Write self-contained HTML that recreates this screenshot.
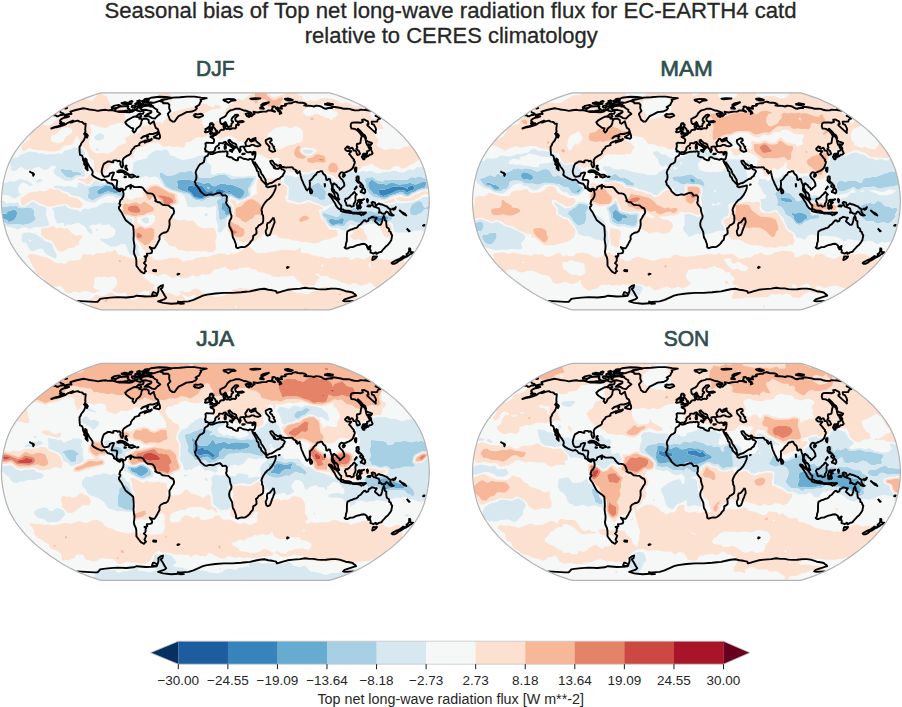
<!DOCTYPE html>
<html><head><meta charset="utf-8"><style>
html,body{margin:0;padding:0;background:#fff;}
body{width:902px;height:707px;overflow:hidden;position:relative;font-family:"Liberation Sans",sans-serif;}
svg{position:absolute;left:0;top:0;}
</style></head><body>
<svg width="902" height="707" viewBox="0 0 902 707" font-family="'Liberation Sans', sans-serif">

<defs>
<clipPath id="clip"><path d="M100.1 217.1 L97 216.3 L93.4 215.1 L89.6 213.8 L85.4 212.3 L81 210.5 L76.5 208.6 L72.1 206.6 L67.8 204.5 L63.9 202.3 L60.2 200.1 L56.6 197.8 L53.1 195.5 L49.7 193.1 L46.4 190.7 L43.1 188.3 L39.9 185.8 L36.8 183.3 L33.8 180.8 L31 178.2 L28.3 175.6 L25.7 173 L23.4 170.3 L21.1 167.7 L18.9 165 L16.8 162.4 L14.9 159.7 L13.1 157 L11.5 154.3 L9.9 151.6 L8.6 148.9 L7.3 146.2 L6.3 143.5 L5.3 140.9 L4.5 138.2 L3.8 135.5 L3.1 132.8 L2.4 130.1 L1.9 127.4 L1.4 124.7 L1 122 L0.7 119.3 L0.4 116.6 L0.2 113.9 L0.1 111.2 L0 108.5 L0.1 105.9 L0.2 103.2 L0.4 100.5 L0.7 97.8 L1 95.1 L1.4 92.4 L1.9 89.7 L2.4 87 L3.1 84.3 L3.8 81.6 L4.5 78.9 L5.3 76.2 L6.3 73.6 L7.3 70.9 L8.6 68.2 L9.9 65.5 L11.5 62.8 L13.1 60.1 L14.9 57.4 L16.8 54.7 L18.9 52.1 L21.1 49.4 L23.4 46.8 L25.7 44.1 L28.3 41.5 L31 38.9 L33.8 36.3 L36.8 33.8 L39.9 31.3 L43.1 28.8 L46.4 26.4 L49.7 24 L53.1 21.6 L56.6 19.3 L60.2 17 L63.9 14.8 L67.8 12.6 L72.1 10.5 L76.5 8.5 L81 6.6 L85.4 4.8 L89.6 3.3 L93.4 2 L97 0.8 L100.1 0 L327.8 0 L330.9 0.8 L334.5 2 L338.3 3.3 L342.5 4.8 L346.9 6.6 L351.4 8.5 L355.8 10.5 L360.1 12.6 L364 14.8 L367.7 17 L371.3 19.3 L374.8 21.6 L378.2 24 L381.5 26.4 L384.8 28.8 L388 31.3 L391.1 33.8 L394.1 36.3 L396.9 38.9 L399.6 41.5 L402.2 44.1 L404.5 46.8 L406.8 49.4 L409 52.1 L411.1 54.7 L413 57.4 L414.8 60.1 L416.4 62.8 L418 65.5 L419.3 68.2 L420.6 70.9 L421.6 73.6 L422.6 76.2 L423.4 78.9 L424.1 81.6 L424.8 84.3 L425.5 87 L426 89.7 L426.5 92.4 L426.9 95.1 L427.2 97.8 L427.5 100.5 L427.7 103.2 L427.8 105.9 L427.9 108.5 L427.8 111.2 L427.7 113.9 L427.5 116.6 L427.2 119.3 L426.9 122 L426.5 124.7 L426 127.4 L425.5 130.1 L424.8 132.8 L424.1 135.5 L423.4 138.2 L422.6 140.9 L421.6 143.5 L420.6 146.2 L419.3 148.9 L418 151.6 L416.4 154.3 L414.8 157 L413 159.7 L411.1 162.4 L409 165 L406.8 167.7 L404.5 170.3 L402.2 173 L399.6 175.6 L396.9 178.2 L394.1 180.8 L391.1 183.3 L388 185.8 L384.8 188.3 L381.5 190.7 L378.2 193.1 L374.8 195.5 L371.3 197.8 L367.7 200.1 L364 202.3 L360.1 204.5 L355.8 206.6 L351.4 208.6 L346.9 210.5 L342.5 212.3 L338.3 213.8 L334.5 215.1 L330.9 216.3 L327.8 217.1Z"/></clipPath>
</defs>
<text x="450.5" y="18" text-anchor="middle" font-size="22.2" fill="#262626" stroke="#262626" stroke-width="0.3" textLength="692" lengthAdjust="spacingAndGlyphs">Seasonal bias of Top net long-wave radiation flux for EC-EARTH4 catd</text>
<text x="451.3" y="42.6" text-anchor="middle" font-size="22.2" fill="#262626" stroke="#262626" stroke-width="0.3" textLength="293" lengthAdjust="spacingAndGlyphs">relative to CERES climatology</text>
<text x="215.3" y="75.5" text-anchor="middle" font-size="22" fill="#2f4f4f" stroke="#2f4f4f" stroke-width="0.7" textLength="38.5" lengthAdjust="spacingAndGlyphs">DJF</text>
<g transform="translate(1.4 92.8)">
<g clip-path="url(#clip)">
<rect x="0" y="0" width="427.9" height="217.1" fill="#f6f7f7"/>
<path fill="#3783bb" fill-rule="evenodd" d="M187.5 93 189 92.6 192 93.5 199.5 92.8 202 94.7 205.5 98.6 211 98.3 212 98.7 212.2 99.5 211 101.5 208.5 102.3 205 102.6 201 105.4 194 104.7 192 103.3 190 100.2 186 97.5 185.8 95.5 187.5 93ZM409 92.9 410.5 92.8 412.1 93.5 413 94.5 412.9 96 411.5 97.3 408 98.1 406 99.5 405 99.4 403 97.6 399.5 97.3 394.5 98.2 390.4 100.5 382 103.2 379.1 102.5 377.4 100 377.3 98 378 97 379.5 96.6 382.5 97 388.5 95.2 391.5 93.7 398 94.3 401.5 93.8 406 96.1 406.4 94.5 408.8 93ZM215.5 96.4 218.5 96.3 223.2 98 224.2 98.5 224 99 220 101.5 217 101.7 215.6 101 214 99 214 98 215.4 96.5ZM227 98 228.5 98.1 228.9 99 228.6 99.5 226 99 225.9 98.5 226.9 98ZM225 114.8 226.7 115 227.1 116 226.9 117 226.5 117.3 225.2 116.5 224.7 115ZM371.5 123.5 375 124.4 383 125 384.1 125.5 378.5 128.5 377 128.5 375 127.5 370.7 126.5 370.1 125 371.4 123.5Z"/>
<path fill="#68abd0" fill-rule="evenodd" d="M180.5 86.9 187.5 86.8 193 88.7 197 89 202.5 91 207.5 89.8 210 92.2 213 93.7 219 90.9 224 91.1 227 92.2 230.5 92 239.5 95.5 243 98 243.4 100 241 104.5 238 105.9 235.3 105 230 101.8 225 100.8 220 103.1 213.5 102.5 206 104 201 106.7 194.2 106 191.7 104.5 188.5 100.5 179.1 97.5 175.9 95.5 175.7 94.5 176.6 91.5 175.1 88.5 176 87.6 180.3 87ZM187.5 93 185.8 95.5 186 97.5 190 100.2 192 103.3 194 104.7 201 105.4 205 102.6 208.5 102.3 211 101.5 212.2 99.5 212 98.7 211 98.3 205.5 98.6 202 94.7 199.5 92.8 192 93.5 189 92.6 187.5 93ZM205.2 94 206.5 95.9 207.8 96 208 95.5 207.5 94.7 205.5 93.9ZM215.4 96.5 214 98 214 99 215.6 101 217 101.7 220 101.5 224 99 224.2 98.5 223.2 98 218.5 96.3 215.5 96.4ZM226.9 98 225.9 98.5 226 99 228.6 99.5 228.9 99 228.5 98.1 227 98ZM370 87.2 371 87.2 376.5 90.8 381.5 91 385 92 388 90.4 391.5 89.8 397 91.6 404.5 91.1 408.5 89.9 412.5 91.4 414.5 91.6 422 88.6 424.3 89 425.1 90.5 424 93.5 423 94.6 416.5 96.7 413 98.9 409.5 100 407 102 404.5 101.9 401.5 99.5 399.5 99.1 388.5 102.6 385 104.7 382 105 379 104.3 375 101.7 372 100.9 367.5 95.5 366.8 93.5 367 90 369.5 87.5ZM408.8 93 406.4 94.5 406 96.1 401.5 93.8 398 94.3 391.5 93.7 388.5 95.2 382.5 97 379.5 96.6 378 97 377.3 98 377.4 100 379.1 102.5 382 103.2 390.4 100.5 394.5 98.2 399.5 97.3 403 97.6 405 99.4 406 99.5 408 98.1 411.5 97.3 412.9 96 413 94.5 412.1 93.5 410.5 92.8 409 92.9ZM105 92.5 108.5 93 112 95.1 116.5 95.6 118.5 97.5 118.5 99.8 114 100.4 106.5 98.5 98.5 101.8 96.5 101.7 95.6 99 96.3 97.5 104.6 92.5ZM221.5 109.8 223 109.8 225.2 112 228 113.7 228.8 115 229.2 119.5 228.3 121 226.5 122.3 225 122.6 224 122.1 223.5 118.5 220.5 117.3 219.8 116.5 220.1 112 221.2 110ZM224.7 115 225.2 116.5 226.5 117.3 226.9 117 227.1 116 226.7 115 225 114.8ZM11.5 117 14 117.2 15.3 118.5 15.7 120 15.2 123.5 12.5 127.7 10 128.1 7.5 129.4 5.5 127.3 0 125.2 0 120.7 5 121 6.5 118.5 9 118.2 11.4 117ZM371.5 121.9 378.5 123.3 385.5 123.4 387 124.2 387.3 125.5 386.9 126.5 385.1 127.5 378 129.7 376 129.6 370 127.5 368.9 126.5 368.8 124 371.2 122ZM371.4 123.5 370.1 125 370.7 126.5 375 127.5 377 128.5 378.5 128.5 384.1 125.5 383 125 375 124.4 371.5 123.5ZM339.5 125.4 341.5 125.3 342.6 126.5 342 130.2 341 131.3 336.5 130.9 331.5 132.4 328.5 130.4 327.1 128.5 327.7 127 329.5 125.7 331 125.8 333.5 127 336.5 127.2 339.4 125.5Z"/>
<path fill="#a7d0e4" fill-rule="evenodd" d="M60 76 62 75.9 65 77.1 69 76.5 70 77 71.5 79 73.5 78.8 77.5 79.5 79.5 80.5 80 81.5 79.5 82.1 74 82.7 70.5 85.3 65.6 84.5 63.8 83.5 59.3 78.5 58.9 77 59.9 76ZM188 78 190.6 78 192.5 81.2 199 85.1 209 85 216.1 82.5 221 81.7 224.5 82.3 229 85.8 231 86.4 236 85.4 243 85.4 247 84.7 252 84.9 252.8 86 249.8 90.5 249 93 247.2 95 247 98 247.8 102 246.6 103.5 240.7 106.5 238 107.1 232.8 105 229.5 102.9 227.1 103 225.9 107 225.9 109.5 226.7 111 230 114 230.5 119.5 228.5 122.1 224.7 124.5 222.6 126.5 219 127.5 217.6 125.5 217.8 122.5 216.7 116.5 216.7 113 214.9 109.5 216 107.5 219.6 105.5 219.3 105 215.5 104.3 210.7 104.5 205.9 105.5 202.5 107.6 200.5 108.1 193.5 106.9 190.8 105 187.5 101.3 182.5 100.5 170.5 96.9 165 94 163.5 92.5 160.4 86.5 158.7 84.5 157.9 82 158.4 80.5 160 79.5 165.5 82.9 172 82.4 179.5 79 183 79.4 187.9 78ZM180.3 87 176 87.6 175.1 88.5 176.6 91.5 175.7 94.5 175.9 95.5 179.1 97.5 188.5 100.5 191.7 104.5 194.2 106 201 106.7 206 104 213.5 102.5 220 103.1 225 100.8 230 101.8 235.3 105 238 105.9 241 104.5 243.4 100 243 98 239.5 95.5 230.5 92 227 92.2 224 91.1 219 90.9 213 93.7 210 92.2 207.5 89.8 202.5 91 197 89 193 88.7 187.5 86.8 180.5 86.9ZM221.2 110 220.1 112 219.8 116.5 220.5 117.3 223.5 118.5 224 122.1 225 122.6 226.5 122.3 228.3 121 229.2 119.5 228.8 115 228 113.7 225.2 112 223 109.8 221.5 109.8ZM416.5 83.8 419.5 83.6 424.5 86 428.5 84.2 428.5 95.8 425 95.7 418.5 97.3 410.5 101 407.5 103.2 404 103.2 401 101.3 398.5 100.9 389.5 103.5 385.5 105.8 382.2 106.5 372.5 104.1 368 101.1 364.5 95 364.3 90.5 362.9 87 365.5 84.7 368 84.7 370.5 84.1 372 84.6 374.5 87.1 381.5 88.8 384 86.6 388 87.4 391.5 86.7 400 87.3 406 86.6 410.5 84.1 414 84.9 416.2 84ZM369.5 87.5 367 90 366.8 93.5 367.5 95.5 372 100.9 375 101.7 379 104.3 382 105 385 104.7 388.5 102.6 399.5 99.1 401.5 99.5 404.5 101.9 407 102 409.5 100 413 98.9 416.5 96.7 423 94.6 424 93.5 425.1 90.5 424.3 89 422 88.6 414.5 91.6 412.5 91.4 408.5 89.9 404.5 91.1 397 91.6 391.5 89.8 388 90.4 385 92 381.5 91 376.5 90.8 371 87.2 370 87.2ZM317 89.9 318 90.2 324.6 98.5 324.1 106 323.5 107 318.5 107.1 315 104.4 309.5 103.4 307.3 100.5 307.4 95.5 308 94 316.6 90ZM104 91.4 109 91.7 113 93.6 117.5 94.6 119.7 96 120.8 97.5 121.4 103.5 119.5 103.8 115.5 102.1 107 100.7 103.5 101.8 92 107.2 90 107.3 86.7 105.5 86.3 104 87.2 99.5 86.7 96.5 87.4 95 94 92.7 99 93.5 103.6 91.5ZM104.6 92.5 96.3 97.5 95.6 99 96.5 101.7 98.5 101.8 106.5 98.5 114 100.4 118.5 99.8 118.5 97.5 116.5 95.6 112 95.1 108.5 93 105 92.5ZM205.5 93.9 207.5 94.7 208 95.5 207.8 96 206.5 95.9 205.2 94ZM416 108.5 418 108.1 420.3 109 422.1 113.5 423.5 114.9 424.5 114.8 426.5 112.9 428.5 112.2 428.5 116.4 426 116.2 423 116.7 420 120.3 417 121.3 414.5 122.9 410.5 122.3 409.2 121.5 408.5 120 408.4 117 408.9 115 410.8 111.5 416 108.5ZM14.5 112.9 15.5 113.2 17 114.8 19 115.3 21.5 115.4 27.5 114.5 31.5 116 32.5 117.5 32.8 122.5 34.4 125 33.9 127 29 130.7 21.5 132.3 16 131.5 6.5 132 3.5 129.6 0 128.2 0 125.2 5.5 127.3 7.5 129.4 10 128.1 12.5 127.7 15.2 123.5 15.7 120 14.5 117.6 12.5 116.8 9 118.2 6.5 118.5 5 121 0 120.7 0 113.4 4 114.3 8.5 113.1 12 113.5 14.1 113ZM352 115.3 353.5 115.1 356 115.8 358.5 115.8 361 117.9 362.5 118.4 365.5 118.5 369 117.9 373 119.5 375.5 119.8 379 121.9 388 122 390.5 123.5 390.9 125.5 390.2 127 389 127.9 381.5 129.2 377 130.7 368 128.1 364 129.7 360 130.4 354.5 129.4 351 127.8 348.5 127.7 345.5 129.5 343.2 133 342 133.8 336 132.8 331.5 133.8 329.5 133.1 327 130.8 325.5 128.5 324.9 125.5 322.5 124.2 321.5 122.5 321.5 121 323 120.3 334.5 123.9 336.5 124 337.8 123 339 120.8 341.5 119.2 347 117.6 351.5 115.5ZM371.2 122 368.8 124 368.9 126.5 370 127.5 376 129.6 378 129.7 385.1 127.5 386.9 126.5 387.3 125.5 387 124.2 385.5 123.4 378.5 123.3 371.5 121.9ZM339.4 125.5 336.5 127.2 333.5 127 331 125.8 329.5 125.7 327.7 127 327.1 128.5 328.5 130.4 331.5 132.4 336.5 130.9 341 131.3 342 130.2 342.6 126.5 341.5 125.3 339.5 125.4Z"/>
<path fill="#d7e8f1" fill-rule="evenodd" d="M12.5 13.5 13.5 14 14 15.5 13.7 16.5 12.5 17 11.8 16.5 11.4 15 12.4 13.5ZM98.5 40.5 103.1 42.5 103 44 101.9 46 99 47.7 95 47.2 93.5 46.5 92.8 45 93.4 43.5 97 40.9 98.5 40.5ZM73 54.4 76.5 55.5 79.5 55.7 82.3 57.5 83.8 61 82.4 64 82.4 66.5 83.2 67.5 86 68.9 86.7 70 86.2 72 82.5 74.4 81.6 75.5 81.6 76.5 83.5 79 83.8 81.5 83.6 83 82.3 84 76.5 83.8 70.5 88 64 87.9 60.2 86 58 84.1 55.5 83.4 52.4 80 52.2 78 54.6 74.5 54 73.3 53 72.9 50 73.1 46.5 76.4 43.5 76.9 42 76.8 39 74.7 37 74.2 32.5 75.1 30 76.7 25 77.1 23.5 76.7 21 74.4 20 74.3 16.4 75.5 14.5 77.6 13 78.1 10.5 77.7 9.3 76.5 9.7 72.5 7.5 69.7 7 68 7.5 65.8 9 63.9 12.5 64.9 15.5 64.9 17.5 63.9 19.5 61.6 23 60.7 27.5 58.6 35 59.7 37.5 61 40.5 60.3 44.5 62 51 61.1 54 61.5 57.5 60.3 60 61.6 63.5 57.4 68.5 56.9 72.7 54.5ZM59.9 76 58.9 77 59.3 78.5 63.8 83.5 65.6 84.5 70.5 85.3 74 82.7 79.5 82.1 80 81.5 79.5 80.5 77.5 79.5 73.5 78.8 71.5 79 70 77 69 76.5 65 77.1 62 75.9 60 76ZM95 55.4 96.6 55.5 97.3 57 97 57.7 96 58 94.6 57.5 94.2 56.5 94.9 55.5ZM162.5 57 164.5 56.8 166.5 57.8 169 62.7 172.5 63.3 177.1 66 181.5 67.3 192 65.5 196.5 63.3 204.5 62.4 208.2 63 205.9 65.5 205.4 67.5 206.5 70.1 209.4 72 210 73 209.5 80 210.4 81.5 211.5 82.1 213 82 216 80.5 223.5 80.1 232.5 83.8 243.5 83.9 248 82.9 254.6 83.5 254.7 85.5 251.7 92.5 248.7 96 249.6 102 248.9 103.5 241.5 107.2 238.5 108 236.5 107.7 229.5 104 228.3 104.5 227.3 107 227.1 109 231.1 113.5 231.7 119 230.2 121.5 225.9 125.5 224.9 128 225.3 131 224.9 133 220 139.2 217.5 139.6 216 138 216.7 133 214.5 126 215 120 214.7 114.5 214 113 213 112.8 211 113.9 206.5 115 202.5 113.7 197 113.6 192.5 114.6 187 114 185.9 113 185.5 110 182.8 103 179.1 100.5 169.5 97.9 163.8 95 161.8 93 159 87.7 155.2 84 152 83.6 148 84.6 144 82.6 143.5 82.6 142.5 84.2 141.5 84.5 138 84.8 134 84.1 129.4 85 131.2 80 131.2 76.5 132.1 73.5 131.7 71 132.4 70 137 67.3 139.5 67.3 142 66.1 145 66 147 62.5 152 58.7 157 57.3 160.5 58.2 162.5 57ZM187.9 78 183 79.4 179.5 79 172 82.4 165.5 82.9 160 79.5 158.4 80.5 157.9 82 158.7 84.5 160.4 86.5 163.5 92.5 165 94 170.5 96.9 182.5 100.5 187.5 101.3 190.8 105 193.5 106.9 200.5 108.1 202.5 107.6 205.9 105.5 210.7 104.5 215.5 104.3 219.3 105 219.6 105.5 216 107.5 214.9 109.5 216.7 113 216.7 116.5 217.8 122.5 217.6 125.5 219 127.5 222.6 126.5 224.7 124.5 228.5 122.1 230.5 119.5 230 114 226.7 111 225.9 109.5 225.9 107 227.1 103 229.5 102.9 232.8 105 238 107.1 240.7 106.5 246.6 103.5 247.8 102 247 98 247.2 95 249 93 249.8 90.5 252.8 86 252 84.9 247 84.7 243 85.4 236 85.4 231 86.4 229 85.8 224.5 82.3 221 81.7 216.1 82.5 209 85 199 85.1 192.5 81.2 190.6 78 188 78ZM306 56.9 310 57.1 312.3 58 310 60.5 307.5 61.3 303 60.4 301.1 58.5 301.5 57.3 305.5 57ZM8.5 57.9 9.5 59 8.5 60.4 7.5 59.4 8.2 58ZM415.5 74.4 417.5 74.1 426.5 76 428.5 75.9 428.5 84.2 425 86 418.5 83.5 414 84.9 410.5 84.1 406 86.6 400 87.3 391.5 86.7 388 87.4 384.5 86.6 383.3 87 382 88.6 381 88.8 374.5 87.1 372 84.6 370.5 84.1 368 84.7 365.5 84.7 362.9 87 364.3 90.5 364.5 95 368 101.1 372 103.9 381 106.4 385 106 389.5 103.5 398.5 100.9 401 101.3 404 103.2 407.5 103.2 410.5 101 418.5 97.3 425 95.7 428.5 95.8 428.5 97.2 424 97 418.5 98.3 411.5 101.5 407.5 104.2 404 104.2 400.5 102.4 398 102.2 390 104.5 384 107.4 381 107.7 378 107.2 376 108.1 373.5 108 372.2 109 372.3 110 373.5 110.7 377.5 110.4 382 112.4 387.5 112.4 396.5 110.2 401 110.8 410.5 109.4 418.5 106.4 421.5 104.5 424.5 104 428.5 104.4 428.5 112.2 426.5 112.9 424.5 114.8 423.5 114.9 422.5 114.1 420.3 109 417.5 108.1 410.8 111.5 408.4 116.5 408.4 119.5 409.2 121.5 410.5 122.3 414 123 420 120.3 423 116.7 426 116.2 428.5 116.4 428.5 137.4 424.5 136.7 422 138.6 420.5 137 419.5 136.8 416 138 412.5 137.7 408 139.4 397 139.8 394 139.4 392.5 138.3 391.3 131 389.5 129.7 387 129.2 381.5 130 376.5 131.8 367.5 130.6 362 132.8 358.5 132.5 353 133.3 349 131.3 347.7 134 344.5 137.2 343 137.9 336 135.3 330 135 327.5 133.1 321 124.6 320 122 319.9 119.5 320.7 118.5 324.4 117.5 327 115.2 333 112.2 333.5 111.4 332.5 111.2 328 112 324.7 113.5 322.5 113.7 320.5 113 318 111.1 313.5 110 308.5 107.4 306.5 107.3 300.5 109.5 297 109.9 287 106.6 286.5 105.5 287.1 103 287.5 94.5 286.7 93 283.5 91.1 282.6 89.5 282.9 83.5 283.5 81.9 286.5 82.8 290 83 294.5 84.9 303 81.5 308 81.5 311.6 79 316.4 79 330 84.3 333 88.3 334.5 88.9 336.5 88 341.5 83.5 344.9 81.5 346.5 79.4 348 78.7 357.5 79.9 361 78.1 366 78.9 369 77.9 376 80.7 384 79.2 387.5 79.2 392.5 77.6 401.5 80.2 408 76.4 409.5 76.5 411 77.6 412 77.5 415.3 74.5ZM316.6 90 308 94 307.4 95.5 307.3 100.5 309.5 103.4 315 104.4 318.5 107.1 323.5 107 324.1 106 324.6 98.5 318 90.2 317 89.9ZM351.8 97 351.1 98 350.9 100 349.1 103 350.8 106.5 347.5 108.3 346.9 109 347 110 348.5 110.7 352 109.7 354.5 110.4 357.5 109.7 361.5 110.3 365 108.5 365 108 362.6 106 357.3 99 354 96.9 352 96.9ZM351.5 115.5 347 117.6 341.5 119.2 339 120.8 337.8 123 336.5 124 334.5 123.9 323 120.3 321.5 121 321.5 122.5 322.5 124.2 324.9 125.5 325.5 128.5 327 130.8 329.5 133.1 331.5 133.8 336 132.8 342 133.8 343.2 133 345.5 129.5 348.5 127.7 351 127.8 354.5 129.4 360 130.4 364 129.7 368 128.1 377 130.7 381.5 129.2 389 127.9 390.2 127 390.9 125.5 390.5 123.5 388 122 379 121.9 375.5 119.8 373 119.5 369 117.9 365.5 118.5 362.5 118.4 361 117.9 358.5 115.8 356 115.8 353.5 115.1 352 115.3ZM18.5 86.4 20.5 86.3 23 87.8 26 87.6 27.5 89.5 31 91.2 31.4 92 29 93.6 26 91.5 22 89.6 19.5 90.3 16.5 96 17.3 100 19.5 101.5 19.5 102 14 105.8 12 105.4 8.5 103 0 101.6 0 91.2 6.5 89.5 8.5 88.3 12.5 88.6 18.2 86.5ZM38 86.3 40 86.3 41.3 87.5 40 88.7 36.5 90 34.5 90 34.3 89.5 34.9 88.5 37.6 86.5ZM93.5 87.8 97 88.1 100 90.8 108 89.8 115.5 92.5 118.5 92.7 122.4 96 122.5 100 123.6 103 123.5 104 122 105.1 116 105.4 114.5 105.1 112 103.2 105.5 103 97.2 107 94 109.6 90.5 109.7 84.5 108.3 79 104.1 69.5 102.3 67 99.8 62 98.1 58 95.6 53.5 95.4 52.3 94.5 53 93.3 55 92.7 60.5 93.1 63 94.2 64.5 93.4 67.5 93.2 75 95 76.2 94 76.5 90.5 77.5 89.6 81 90.7 84 92.9 87.5 93.3 89.5 92.3 93.1 88ZM103.6 91.5 99 93.5 94 92.7 87.4 95 86.7 96.5 87.2 99.5 86.3 104 86.7 105.5 90 107.3 92 107.2 103.5 101.8 107 100.7 115.5 102.1 119.5 103.8 121.4 103.5 120.8 97.5 119.7 96 117.5 94.6 113 93.6 109 91.7 104 91.4ZM0.5 107.6 2.5 108.3 5 110.6 9 109.6 13.5 110.3 16.5 109.4 18.5 113.4 20.5 114.2 24.5 113.2 30.5 109 32 108.8 38 112.9 41 113.3 43.6 114.5 45.2 116 44.4 122 45.6 124 46.2 127 47.7 130.5 47.6 132 46 133.2 38.5 134.5 36 134 32.5 134.4 28 136.2 24.5 134.5 21 134.4 16.5 137 13 135.3 6 133.8 0 131.5 0 128.2 3.5 129.6 6.5 132 16 131.5 22.5 132.2 29.5 130.4 33.5 127.5 34.4 125.5 32.8 122.5 32.4 117 30.5 115.4 27.5 114.5 19.5 115.4 17 114.8 15 113 12 113.5 8.5 113.1 4 114.3 0 113.4 0 107.5ZM103.5 109.8 108 110.3 113.5 109.7 118.1 110.5 119.1 112 118.7 116 119.3 119.5 120.5 122.1 124.5 124.8 130.9 126 131.1 128 128.9 134 128.8 136 131.5 141 133.8 148.5 137.2 153.5 136.7 157.5 138.7 162.5 138.5 163.1 134.5 163.6 132.5 162.7 128.6 162 126.4 157.5 125.3 153.5 123.5 151.2 119 151.4 115.5 153.4 110 153.6 106.5 152.2 99.1 147.5 98.8 146.5 100 145.5 104.5 146.1 107 145.7 112 143.7 113.1 142.5 114 139.5 114 136.8 109.8 134 108.1 131.5 102 132.4 97.5 130.4 94.5 132.1 92 131.6 90 132.1 88.3 133.5 88 134.5 90.3 137 91.1 139 91 140.7 89.5 141.1 86.4 139 84.5 134.4 77.5 130.1 75.5 130.1 70 131.9 65.5 131.8 63.5 133.6 62.5 133 63.2 131 62.4 130 60.5 129.9 56.5 130.8 55.5 130.5 52.9 124 52.4 118 50.8 116.5 51.1 115.5 52.1 115 63.5 112.5 64.5 113 66 115.2 73.5 117.3 76.5 117.5 79 119.4 80.9 117 82.5 116 84 115.7 87 116.6 90.5 115 94.5 114.8 100 111 103.1 110ZM204.5 120.5 206 120.5 206.5 121.5 205 123.4 203.5 123.8 203 122 204.5 120.5ZM144 124.4 146 124.6 147.6 126.5 147.5 129.2 146 130.5 142.5 130.2 140 127.5 140.1 126 143.8 124.5ZM95 135.9 96.5 136.5 96.8 137.5 96.4 138 95.5 138.2 94.7 137.5 94.9 136ZM23 140 28 139.8 33.5 140.9 40.9 145.5 43.5 148.6 47 149.1 49.5 150.1 51 152 52 156 55.4 162 54.8 165 53.5 165.5 48 163.3 43.5 159.8 41.5 156.4 40.5 155.7 35.5 156.5 32.5 158.3 29 158 25 150.3 24 149.8 21.5 149.8 20.2 148 20.7 142 21.5 140.8 22.9 140ZM27.3 146.5 26.7 147 28.5 149 30 148.5 30 147.5 27.5 146.5ZM75.5 216.4 76.5 217 76.7 218 74.1 218 75.2 216.5Z"/>
<path fill="#fce0d0" fill-rule="evenodd" d="M97.5 0 99.5 0 101.5 2.3 105 3.2 105.9 4 106.7 7.5 111 14.8 113 15.3 117 14.5 122.1 16 123.6 17 124.6 18.5 123.4 21.5 124.6 26 123.2 29 122 30 117 30.1 108 32.9 105 35.4 95.5 33.4 91 31.3 88.8 32 88.1 33 89.5 35.4 90 39 88.5 44 88.4 46.5 87.2 49 87.3 50.5 89.2 56.5 93 60 95 60.6 102.5 60.2 106 61.1 112 58.3 118 52.5 124.6 50.5 124.9 49.5 123.5 46 124 44.9 138.2 39.5 139.6 37 139.7 34 141 32.6 146 32.6 152.5 28.4 156.5 29.4 159 29.2 161 31 162.3 28 166.1 25 168.1 22 172.5 18.8 191 14.2 195 14.9 196.5 14 198.5 11.4 199.5 10.9 204.5 11 207 12.8 211.5 14.6 212.5 14.3 214 12.3 216.5 12.2 219.1 13.5 219.5 15 218.5 15.9 211.5 16.3 204 19.9 200.2 23.5 200 24.5 201.2 31.5 203 33.8 204.1 37.5 207.2 39 207.7 40 207.3 41.5 204.5 43.7 201 44.7 197 44.1 193 45.8 190.5 48.3 184.6 49.5 184 50.5 183.8 53.5 180.5 54.8 176.5 53.4 171 54.3 168.5 53.3 162.5 53.9 156 49.7 151.5 49.6 145 51.7 141.5 54.2 137.5 54.5 135.7 55.5 132.4 60.5 132.1 64 131.5 64.6 130 65 127 64.2 124 64.4 121.5 65.5 117 66 113 68.2 101.5 81.1 99.5 80.2 96.5 79.9 92.7 77 92.1 74.5 93.1 72 92.4 68 89 65.5 87.5 63.6 86.7 59.5 85.8 58 79.7 52.5 78.4 48 76 43.3 75 43.5 74.1 44.5 72 50.5 71.2 51.5 61.5 53.5 59 57 57 57.8 52.5 58.7 47 58.8 44 57.8 33.2 57 27.5 55.3 23.5 58.2 21.5 58.2 20.5 57.5 20.1 55 21.5 51.5 25.5 48 27.8 47 28.7 41.5 31 39.2 33 35.3 39 31.7 43.5 32.1 46 33.2 48.5 32.4 50.9 31 54.8 27 58.9 25.5 58.5 23 55.5 20.8 53.5 18.5 53.4 17.5 54.5 15.5 61 12.3 61.1 11 60.1 8 62 5.2 67 4.4 69.5 6.4 72 6.9 74.5 5.7 78.5 5.1 81 4 83.5 5 86.2 7.5 90 7.9 91.5 7.3 97.5 0ZM64.6 34.5 60.5 35.7 57.5 38.1 55.6 40.5 50 43 49.5 44.5 50 48.7 56.5 50.7 62 48.9 64.1 44.5 70 40.3 71 38.5 70.5 35.9 65 34.3ZM157 0.5 157 0 167.8 0 168.5 1.5 171.5 4 171.7 6 170 7.9 166.5 7.5 163.5 9.6 161.5 9.5 160.1 8.5 157 4.6 157 0.5ZM252 0 253.6 0 253.7 5.5 253.1 9 253.7 10.5 254.5 10.9 255.5 10.5 258 5.9 264.3 7 266.3 8 266.3 13 267.5 14.1 270 13.7 273.5 14.1 278.5 12.7 279.4 11.5 279.6 9 281.7 7 282 5.5 281.5 4.7 280 4.5 277.5 5.2 274 7.1 270.5 6.8 266 2.9 264.2 0 266.6 0 270 4 274.5 4.3 277.5 2.9 283.5 1.6 284.3 0 295.5 0 297.3 2.5 300.8 4 301 6.5 301.6 7.5 306 8.7 307.5 8.6 310 7.1 312.5 8.2 315 8.5 318 6.2 323.5 5.2 333.5 6.7 340.5 10.9 344 9.7 349.5 11 353 13.2 357.5 13.4 360 12.2 361.5 12.1 365 15.3 369.8 17.5 370.1 19 368.6 22 369.7 24.5 371 25.5 374.5 25.7 377.5 27.1 378.5 28.3 379.6 31.5 381.9 34.5 382 35.5 381 36.3 376.5 36.2 372.3 34.5 371.1 33.5 371.1 29.5 370.5 28.4 369 28.4 367.8 29.5 368.1 33 372.4 39.5 373.8 43 377.1 47.5 377.1 49 375.3 52 375.6 53.5 379.5 54.9 382.5 57 384 57.3 390.5 55.7 394.5 56.7 397 56.7 400.5 55.6 402 54.1 405 54 407.5 53.1 412.2 53.5 413 54.5 414.5 59.5 416.8 62 417.6 65 417.5 66.5 416.5 67.8 411.5 71.2 408.5 72.3 404 75.2 400 75.7 397 73.3 393.5 73.3 390.5 74.6 388.5 76.8 387 77.4 378 75.8 374 73.7 371.5 71 370 70.9 365 73.1 362 73.3 359 76 357 77 347.5 76.7 343.2 80.5 339.7 82 336.1 86 335 86.5 333.3 84 331.5 82.6 327 81.3 318 77.1 311 77.2 307 79.8 300.5 79 296 80.4 293 78.9 288 78.7 279.5 74.6 277 74.7 274 73.7 270 73.6 269.2 72.5 269.9 72 274.5 71.8 276 71 278.2 67.5 278.5 65.2 273 65 269.5 66.2 267 65.9 261 62.6 258 61.9 256 60 252.5 59.5 252 58.5 253 55.5 252.5 53.7 250 52 247 52.8 246 52.6 245.2 51.5 245 49 244 48.1 240.5 48.7 237.5 48.2 231 43.6 229 42.9 225 43.7 222 44.9 220 46.5 218.5 46.6 213.5 42.2 211.4 41 210.8 40 211.2 35 210.4 32 211.5 30 216.5 28.2 218 28.1 220 30 223.5 31.4 224.5 34.1 226 34.7 235.8 29 236.8 27.5 237.9 21.5 237.5 19.5 236.3 18 234.5 17.4 232 17.6 229.5 19.6 225 19.4 222.5 21.2 221.8 21 221.9 20 224 18.6 225.5 14.9 227 12.9 236 7.2 237 6 240.5 7.3 242.5 7 246.9 3 251 1.5 251.7 0ZM322.5 10 318 12 314.5 12.6 312 12.1 310.2 12.5 302.5 16.6 301.5 18 301.5 19.5 303.5 22.3 305.5 23.5 307 23.5 315.5 21 319 22.8 322 23.5 323.5 24.7 327 25.4 329.5 27.3 330.5 27.1 332.5 24.7 336 23 336.5 21.5 335.8 19.5 335 18.6 331.2 17.5 329 13.8 326 12.1 324.5 10.2 323 9.9ZM309.3 25 308.7 26 309.5 26.9 311.5 27.1 312.4 26.5 312 24.9 309.5 24.9ZM283.2 33.5 276 34.6 273.6 35.5 270.5 38.3 267.5 39.9 266 42.5 265.9 43.5 267.5 48.5 271.5 53.5 274 55.2 277 56.1 280.5 55.6 287.5 52.2 291.5 52.2 295 50.2 299 49.9 301.2 48 301.7 39 300.6 36.5 294.5 33.1 289 35.5 287 35 284.5 33.4 283.5 33.4ZM296 53.5 294.8 54.5 293 58.1 292.6 60 293 62 296 65.7 298 65.5 301 66.2 303.3 65.5 304.5 64.5 304.2 63.5 300.1 61.5 298.4 59 298.1 57.5 299.2 53.5 296.5 53.3ZM303.5 54.5 300.5 55.6 299.5 57 299.4 58.5 301 60.8 305 62.5 309 63 315.2 58.5 314.9 57 312.5 55.5 303.5 54.5ZM314.6 61.5 310.5 65 306.3 65.5 305.8 67.5 306.5 69.4 311.5 70.4 315.5 69.2 322.5 69.9 324.2 69 324.4 68 323.5 63.4 317.5 61.5 315 61.4ZM329.3 70 326.5 74.5 327.4 78 329 79.4 334.5 80 337.1 76 335.5 72 334.7 71 332.5 69.9 329.5 69.9ZM2.5 29.9 3.5 29.6 4 30.5 3 32.4 1.5 31.9 1.5 31 2.3 30ZM218 50.2 219.6 52 219.5 53.4 217.8 52.5 217.5 50.5ZM88 81.2 89.5 81.6 91.9 84.5 92 85.5 90 88.6 87 91.8 85.1 91.5 82.5 89.2 76.3 86.5 76.7 85.5 77.5 85.2 82 86.1 84.5 85.7 86.5 84 87.8 81.5ZM260 84.3 261.5 84.2 266 85.9 276 85.3 279 86.4 281.2 91 285.4 94 285.9 95 285.5 101.9 283.7 104 283.5 105 284.8 108 286 109.1 296.5 111.6 302 110.9 307.5 109.1 313.5 111.8 317 112.3 321.4 115.5 321.5 116.2 318.5 116.6 317.4 117.5 319.7 125.5 324 130.2 327.5 136.7 335 137.4 335.9 138 336.2 143 334.8 144 331.5 144.7 329 146 319.5 148.1 317 150.2 312 150.5 305.5 149.1 299.5 149.2 296.5 147.8 291.5 147.7 287.5 145.7 280.5 145.5 276.9 144.5 275.4 142.5 274 141.7 266 141.9 264 139.6 261 142.2 259 144.7 253 148.5 246.5 148.8 242.5 150 231.5 145.3 229.9 143.5 225.7 136 227.1 127 231.9 121 232.7 119 232.4 112.5 229 109 229 106.4 230 105.9 234.1 108 235 109 235.1 111 236 111.5 238 109.7 249.5 104.6 252 102.6 255.6 101 256.1 100.5 255.3 97 255.3 91.5 256.7 86.5 259.7 84.5ZM248.9 106.5 245.4 108 242.5 110.4 240 113.5 235 115 234 116 234.2 123.5 238.5 125.6 240.5 128.2 244.5 129.5 246 129 248.5 126.7 251.8 125.5 252.9 123 254 122.1 255.5 121.7 259 122.2 260.4 121.5 261 120.5 260.9 115 259.1 112 256 109.1 251.5 106.5 249 106.5ZM301.8 123 298.4 125.5 297.7 127.5 298.5 129 300 129.3 303 127.7 306 127.5 307.4 126 307.6 125 306.8 124 303.5 122.6 302 122.9ZM228.7 129.5 227.5 132 227.4 136 229 139.4 231.5 142.7 236.5 144.5 240.5 144 242.3 143 243.4 139.5 242.6 136 239.5 134.7 236.5 131.9 233 131 230.5 129.4 229 129.3ZM152.5 91.4 157 91.8 163 95.9 169 98.9 173.5 100 175.9 102 176 105.5 177.4 108.5 177.1 110.5 176 111.3 168.2 114 167.2 115 168.7 119 170.3 121 169.4 124 169.9 125 173 125.7 177.5 127.6 181 127.5 183 126.6 186.5 128.2 191 127.6 193.3 129 195.2 132 198 134.1 201 135.5 203 135.8 207.5 134.9 211 134.9 213.5 136.5 215.4 143.5 214 147.5 214.2 152.5 215 155 214.7 156 212.5 158.2 211 159.1 208.5 159.5 203 158.3 199.5 158.9 196.5 158.3 193 158.6 190.5 157.9 187 158.6 179.5 157.2 177 157.4 174 153.9 170 153.4 167 151.6 162.2 145 161 144.3 156.9 146 153.9 151 153.6 155 151.5 157.1 146.5 159.8 144.5 159.2 142.4 157.5 140.1 153.5 134.5 146.8 132.8 140.5 130.9 136 133.2 126.5 133 125.5 131.5 124.4 124 123.2 121.4 121.5 120.2 118.5 120.5 110.5 119 107.5 120.3 106.5 125.5 105.5 130 107.1 134.5 104.8 137 105 142 104.1 142.4 103 141 100.5 141.4 99 148 93.3 152.4 91.5ZM151.9 93.5 148.5 94.9 143.8 99.5 143.9 101 146.5 106.4 148 107.1 149 106.9 152.5 103 153.5 102.8 155.3 105 159.3 107.5 161.3 112 164 113.9 173 110.8 174.9 109.5 175 108.5 173.4 106 173.4 102.5 172.8 101.5 168.5 100.1 157 93.7 154 93.1 152 93.5ZM134.3 109.5 130.5 110.3 127.5 111.8 124 110.8 122.5 111.5 121.4 114 121.8 116 121.5 119 122.5 120.9 124 121.6 127 121.8 129.9 123 134.5 123.8 137 122.4 141.5 122.4 146.5 119.9 151.5 118.8 152.4 118 152.4 116 151.6 114.5 144 109.3 142 109.1 139 111.5 134.5 109.5ZM149.7 122 146 122.3 141.5 123.8 137 124.3 135.3 126.5 136 130.5 143 134 146.5 133.7 149.1 132.5 153.2 129 153.6 128 153.2 123 151.9 122 150 121.9ZM137.5 134 136.4 135.5 134 136.1 133.1 137 134.1 143.5 135 145.8 143 152.2 144.5 152.4 148.1 151 149.7 148.5 152.1 146.5 153.1 139.5 152.4 136.5 150 134.8 143.5 136 139 133.8 137.5 134ZM48 95.9 50 95.8 53 97.2 57.6 97 61.5 100 66 101.4 68 104 76.5 105.6 81 110.4 81 113 78.9 115 76 115.3 70.1 114.5 65.5 111.4 63 110.9 50 113.7 47 113.8 44 113 41 111.2 38 110.7 32 107 30 107.5 23.5 112.1 21 112.7 19.9 112 19.1 105.5 22.5 103.8 27 100.3 33 98.8 36.5 98.8 38.5 97.7 42 98.8 45 97.9 47.8 96ZM423.5 98.5 428.5 98.8 428.5 102.3 424 100.9 420 102.9 417.5 105.1 410.5 108 401 108.8 396.5 107.8 394.8 106.5 395 105 397.5 103.7 404 105.4 408.5 105.1 413 102 417 100.7 420 99 423.1 98.5ZM390 106 391.5 105.6 392.8 106 393.7 107 393.3 108.5 391.5 109.4 386.5 110.3 382.5 110 383.1 109 388 107.4 390 106ZM384.5 130.4 387 130.4 388.5 131 389.5 132.5 390.7 136.5 390.8 141.5 389 143.7 387.5 144.6 384.5 144.1 382.7 143 378.2 134.5 378.7 133 380.5 131.5 384.2 130.5ZM50 133.3 51.5 133.2 55.5 135.7 59 134.4 62 136 66.5 135.8 70 140 74.5 142.8 75.5 143.1 78.5 142.3 81 143 81.1 144.5 77.9 148 77.3 152 74.5 153.1 72 155 67 155.2 64.5 157.3 60.5 159 58.5 158.8 56 157.5 50.6 148 44 146 40.2 143 39.7 142 39.6 137 40.1 136 42 135.2 47.5 134.6 49.6 133.5ZM358 134.5 360 134.7 362 136.5 363.1 140.5 365.6 143.5 366 147.1 361 148.5 357.5 146.5 354.5 147 352 146.6 348.9 144.5 348.9 142.5 351.5 140.1 352.2 137 354.5 135.6 357.9 134.5ZM246.5 153.5 248.5 153.9 254.5 159.6 257 160.8 262.5 159.9 265 160.4 268 158.9 271.5 159 281.5 156.9 288.5 157.2 293 158 299 154.9 299.4 155.5 299.1 158.5 300.5 160.1 306 160.5 311.5 162.7 314.5 162.9 317 164 320 163.8 325 165.7 328 165.6 333 164.2 336.5 165.2 338.5 164.7 341 164.8 344 163.9 346.5 164.6 349.5 167.3 356 164.7 363 166.8 367.5 163.8 371 163.3 374 164.4 377 166.2 380.5 166.1 383.5 167.1 386 166.5 390.5 167.4 394 165.3 397.5 166.8 401.5 167.3 402.5 167.9 404 170.7 406.5 172.7 408.5 173.6 411.5 173.8 413.5 175.5 414.5 175.3 417 173.2 424 173.3 427 171.7 428.5 171.5 428.5 191.8 419 194.7 410 192.2 404.5 195.6 396 197.8 388 194.4 385.5 195 383 193.6 375 195.1 368.5 189.5 366.5 191.1 359.5 192.8 357.5 192.5 355 190.5 353 189.9 349.5 191.7 346.5 191.7 342.5 190 340 189.8 336.5 187.4 329 185.8 325.5 183 319.5 183.7 318.5 181.9 315 180.4 314 180.6 313.6 181.5 315 182.6 318.2 184 318.3 184.5 314.7 189 313.8 192 312 193.2 308.5 192.5 306.5 193.7 305 194 301 192.2 298.8 189.5 296 187.5 292.9 183.5 291.5 182.6 287.5 183.5 280 183.7 276.5 184.4 273.5 183.8 271.5 184 269 181.7 264 180.6 261.5 179.4 257.5 179.4 254.6 177 249 175.8 247 174.3 242 175.1 238 175.1 236 176.8 233.5 176.6 230.5 177.4 226 176.1 223.5 173.6 217 176.1 213 176.8 209 181.1 204.5 181.9 201 181.1 198 183.2 196.5 183.7 193 183.4 191 181.8 188 184.1 183.5 185.5 180 185.5 176 183.6 172 185 170 185 166.5 182.4 161.5 180.6 159.9 182 156 183.2 150.5 180.9 143.5 180.6 141.9 181.5 141.6 183.5 142.6 185.5 146.6 187.5 148.4 189.5 153.5 192.5 151.5 195.5 151.5 196.5 152 196.8 155.5 196.3 158.5 198.4 162.5 199.6 167.5 199.6 176 203.8 177 203.5 179 201.2 179.5 201.3 181.5 203.1 184.5 207.5 190 208.5 192.2 207.5 194.4 202 192 201.8 188 204.1 186 204 183.7 203 180.5 200.6 179 200.8 178.3 199 178.5 197.8 182 199.1 187.5 199.6 189 199 191.5 196.5 195 195.8 202.5 199.9 204.5 200.5 206.5 202 209.7 202 212 204 213.5 204.3 219.5 203.6 226.5 201.3 229.5 198.5 232.5 196.5 234 196.1 236.5 196.4 239 195.1 242.5 196.3 245.5 195.5 247.5 196.7 251.5 195.7 256.5 198.2 260.5 196.7 263.5 197.3 266 197 268 198.2 272 199.3 275 198.3 278 199 281.5 198.8 285.5 196.2 290 197.4 295 200.3 300 200.1 304.5 201.8 306.5 201.4 309.5 199.6 313.5 198.1 316.5 197.6 320 194.8 325 194 330 194.4 331.7 195 335 197.6 338.5 196.4 340.2 196.5 343.5 200.2 349.5 200.2 354.5 201.6 357.7 208 358.6 218 306.3 218 305.5 216.2 304 215.6 303 216.3 302.4 218 273.8 218 273.5 217 272.5 216.6 271.5 218 142.6 218 142.6 216 142 215.4 141 216.5 141.2 218 87.6 218 87.1 214 88.4 211 87.6 207.5 91 205.5 94 202.1 96 202.1 99 203.3 100.5 203.4 105 202.1 107.5 199.9 109 199.4 111 200.2 116 203.7 119 203.9 123 205.7 125.8 205 125.9 203 124 199.9 117.5 200.7 112 198.6 110.8 197.5 111.2 196.5 114.7 193 115.9 190.5 114.6 185 111 183.5 107.5 184.6 102.5 183.6 100 184.4 97 183.9 93.8 185 92.7 187 93.1 191 92 193 92.2 195.5 93.5 196.8 97 197.2 98.8 198 99 198.8 96.5 198.5 92.5 200.5 87.5 198.8 82.5 197.9 78 199.9 72.5 198.3 70 200.3 68 200.6 64 199.3 62 195.6 59 193.2 58 192.9 55.5 193.7 52 193.7 47 191.9 40.5 183.6 39 182.7 36 182.5 33.5 178.4 33 175.4 31.1 173.5 30.5 171.3 29.1 169.5 28.3 167 26.3 163.5 27 162.2 29 161.3 31.5 161.1 35 161.9 39 163.4 45.5 164.6 53 169.2 57 170.4 60 170.3 63 171.3 64.5 170.9 66.5 168.8 68.5 167.8 72.5 168 78.9 167 80.2 165.5 81.2 162 82.5 161.2 85.5 161.9 88.5 161.7 91.5 162.6 95 160.4 103.5 160.5 105.1 159 109.5 159 113 157.2 114.7 158 115.8 160.5 117 161.7 121.5 162.6 127.5 165.2 131 164.8 134 166.3 144 164.8 147.5 163.4 150 164.1 153.5 166.6 158.5 167.8 161 166.7 165.5 166.2 169 164.7 173 165.3 176.5 164.8 182 169 185 167.8 191 167.1 193.5 165.8 202 163.9 206 164.1 209.5 163.2 211.5 162 214 162 217.5 160.6 223 160.9 226.5 162.4 228.3 162 229.5 160.5 233.5 161.2 241.5 157.3 244.5 154 246.2 153.5ZM117.1 167.5 118 169.5 119.5 169.3 119.9 168.5 119.5 167.7 117.5 167.2ZM367.5 170.5 367 171.5 367.5 173.9 368 175.2 369 175.5 369.4 174.5 369 170.5 368.5 170.1 367.5 170.5ZM321.2 171.5 319.5 173 320 174.1 321 174 322.1 173 322.3 172 321.5 171.4ZM143.1 198 141 199.4 139 199.7 133.5 203.7 130 204.7 129.2 205.5 129.4 206.5 131.5 207.1 134 205.9 136 205.7 141.5 201.2 146 202.2 147.4 201.5 148.7 198 146.5 198.4 143.5 197.9ZM337.9 200.5 338 202.2 339 202.5 339.5 202 339.4 201 339 200.4 338 200.4ZM105 205.5 103.2 208.5 103.5 209.4 105 209 106.7 206 106 205.1 105 205.5ZM92.2 207.5 92.7 209.5 94 210.1 94.5 208.3 93.5 207.2 92.5 207.1ZM234.4 213 233.3 214.5 234 215.5 235 215 235.3 214 234.5 212.9ZM155 192 156.5 191.8 157.3 193 155.1 193 154.4 192.5 154.9 192ZM373 216.8 375 216.7 376.3 218 372.3 218 372.7 217Z"/>
<path fill="#f7b799" fill-rule="evenodd" d="M254 0 264.2 0 265.2 2 268 5 271 6.9 274 7.1 277.5 5.2 280.5 4.5 281.9 5 282 6.3 279.6 9 279.4 11.5 278.5 12.7 273.5 14.1 270 13.7 267.5 14.1 266.3 13 266.3 8 264.3 7 258 5.9 255.5 10.5 254.5 10.9 253.7 10.5 253.1 9 253.7 5.5 253.6 0ZM309.5 24.9 312 24.9 312.4 26.5 311.5 27.1 309.5 26.9 308.7 26 309.3 25ZM296.5 53.3 299.2 53.5 298.1 57.5 298.4 59 300.1 61.5 304.2 63.5 304.5 64.5 303.3 65.5 301 66.2 298 65.5 296 65.7 293 62 292.6 60 293 58.1 294.8 54.5 296 53.5ZM315 61.4 317.5 61.5 323.5 63.4 324.4 68 324.2 69 322.5 69.9 315.5 69.2 311.5 70.4 306.5 69.4 305.8 67.5 306.3 65.5 310.5 65 314.6 61.5ZM317.4 66.5 317.5 67 321 67.9 321.9 67.5 321 66.3 317.5 66.4ZM329.5 69.9 332.5 69.9 334.7 71 335.5 72 337.1 76 334.5 80 329 79.4 327.4 78 326.5 74.5 329.3 70ZM152 93.5 154 93.1 157 93.7 168.5 100.1 172.8 101.5 173.4 102.5 173.4 106 175 108.5 174.9 109.5 173 110.8 164 113.9 161.3 112 159.3 107.5 155.3 105 153.5 102.8 152.5 103 149 106.9 148 107.1 146.5 106.4 143.9 101 143.8 99.5 148.5 94.9 151.9 93.5ZM157.2 102.5 156.8 103 157.4 104 161.3 106.5 162 110.3 163.5 112 165.5 112.1 171 110 171.9 109 171.3 106.5 170 105 162 102.8 157.5 102.4ZM249 106.5 251.5 106.5 256 109.1 259.1 112 260.9 115 261 120.5 260.4 121.5 259 122.2 255.5 121.7 254 122.1 252.9 123 251.8 125.5 248.5 126.7 246 129 244.5 129.5 240.5 128.2 238.5 125.6 234.2 123.5 234 116 235 115 240 113.5 242.5 110.4 245.4 108 248.9 106.5ZM134.5 109.5 139 111.5 142 109.1 144 109.3 151.6 114.5 152.4 116 152.4 118 151.5 118.8 146.5 119.9 141.5 122.4 137 122.4 134.5 123.8 129.9 123 127 121.8 124 121.6 122.5 120.9 121.5 119 121.8 116 121.4 114 122.5 111.5 124 110.8 127.5 111.8 130.5 110.3 134.3 109.5ZM130.1 113 127.3 114 126.2 115 126.5 116.9 128.5 119 130.5 119.8 135 120.3 137.5 120 139 119.3 139 117 136.5 113.4 134.5 112.5 130.5 113ZM302 122.9 303.5 122.6 306.8 124 307.6 125 307.4 126 306 127.5 303 127.7 300 129.3 298.5 129 297.7 127.5 298.4 125.5 301.8 123ZM229 129.3 230.5 129.4 233 131 236.5 131.9 239.5 134.7 242.6 136 243.4 139.5 242.3 143 240.5 144 236.5 144.5 231.5 142.7 229 139.4 227.4 136 227.5 132 228.7 129.5ZM229 133 228.9 136 230.5 139.3 232.5 141.1 234.5 140.8 235.5 140 235.7 139 232 136.7 229.5 132.8ZM137.5 134 139 133.8 143.5 136 150 134.8 152.4 136.5 153.1 139.5 152.1 146.5 149.7 148.5 148.1 151 144.5 152.4 143 152.2 135 145.8 134.1 143.5 133.1 137 134 136.1 136.4 135.5 137.5 134ZM135.4 140 134.9 143 136 145.1 138 145.4 140.5 144.5 140.8 143 139.9 141.5 137.5 139.9 135.5 139.8ZM117.5 167.2 119.5 167.7 119.9 168.5 119.5 169.3 118 169.5 117.1 167.5ZM338 200.4 339 200.4 339.4 201 339.5 202 339 202.5 338 202.2 337.9 200.5ZM105 205.5 106 205.1 106.7 206 105 209 103.5 209.4 103.2 208.5 105 205.5ZM303.5 215.8 305 215.8 306.3 218 302.4 218 303.2 216Z"/>
<path fill="#e58368" fill-rule="evenodd" d="M317.5 66.4 321 66.3 321.9 67.5 321 67.9 317.5 67 317.4 66.5ZM157.5 102.4 162 102.8 170 105 171.3 106.5 171.9 109 171 110 165.5 112.1 163.5 112 162 110.3 161.3 106.5 157.4 104 156.8 103 157.2 102.5ZM130.5 113 134.5 112.5 136.5 113.4 139 117 139 119.3 137.5 120 135 120.3 130.5 119.8 128.5 119 126.5 116.9 126.2 115 127.3 114 130.1 113ZM229.5 132.8 232 136.7 235.7 139 235.5 140 234.5 140.8 232.5 141.1 230.5 139.3 228.9 136 229 133ZM135.5 139.8 137.5 139.9 139.9 141.5 140.8 143 140.5 144.5 138 145.4 136 145.1 134.9 143 135.4 140Z"/>
<path d="M63.2 22.1 68.8 20.9 70.1 21.2 69.8 20.2 68.9 18.9 74.4 17.2 82.1 15.5 85.4 16.1 88 16.7 93.1 17.3 96.4 18.1 99.8 17.4 103.8 17 106.6 17.6 110.4 17.2 114.3 18.3 117.8 19.3 123 19.3 128.1 19.5 131.4 18.7 134.1 17 136.6 18.1 139.2 18.7 141.3 17.6 142.3 19.3 141.5 21 137.4 21.2 135 23.4 131.7 24.2 126.5 27 123.8 29.4 124.4 30.7 126.1 32.5 129.2 34.8 131.9 35.7 131.1 37.9 132.7 39.8 134.1 38.3 135.3 35.6 138.5 33.2 139.8 30.7 140.1 28.2 141.7 26 145.3 26 147.3 27.3 147.4 30 148.9 30.9 152.4 28.4 153 31.3 153.7 33.2 154.4 35.1 156.4 36.3 157.2 38.5 155.4 39.8 151.6 41.2 148 41.2 145 42.6 142 43.5 139.8 45.4 141.9 43.9 145.9 42.8 146.9 43.5 145.9 44.4 145.8 45.4 146.4 46.2 148.7 47.2 150.3 46 150.3 47 148.4 48.1 146.1 48.7 143.3 49.9 144 48.6 145.4 47.7 143.5 47.8 141.8 48.7 138.8 49.8 137.7 51.3 138 52.3 136.2 52.9 133.2 53.8 132.6 55.4 131.3 56.2 130.4 57.7 129.5 58.8 129.4 60.6 128.1 61.8 125.6 63.1 122.5 65.2 121.3 67.2 121.3 69.1 121.7 72.6 121 74.6 120.2 74.5 119.6 73.3 118.9 71.3 119.2 69.5 118.1 68 116.3 68.4 115.4 67.6 113.1 67.6 111.9 67.9 111.9 69.4 110.4 69.4 108.3 68.7 106.6 68.6 104.6 69.8 102.5 71.1 101.4 73.6 100.7 76.2 100.2 78.7 100.6 80.6 101.4 82.7 103.3 84.1 106.3 83.5 107.5 83.1 108.6 80.6 111.5 79.6 112.6 79.9 111.8 82.3 111 83.6 110.2 87 112.9 87.1 115.2 87.3 115.9 88.4 115.4 91.7 115 93.7 115.7 95.4 117.4 96.7 119.2 96 121 95.9 122.4 97.1 123.3 97 124.5 95.8 124.7 94.3 126.3 93.5 128.3 92.7 129.5 92 130 93.7 129.1 95.8 128.9 93.2 131 93.1 132.9 94.3 135.5 94.3 138.3 94.1 140 94.3 141.8 95.4 142.9 97.2 144.6 99.1 146.3 100.5 148.7 100.6 151.1 101.1 152.8 102.9 153.9 105.9 154.5 107.2 153.9 108.1 156.3 109.4 158.1 109.5 161.1 111.9 164.1 112.3 167 112.6 169.4 114.7 171.8 115.7 172.7 118.6 172.3 120.7 170.8 122.7 169.3 125.4 168 127.4 168.2 132.1 167.5 135.2 166.3 138.2 164.6 139.5 162.1 139.9 159.5 141.5 158 143.5 158.2 146.6 156.9 148.9 155.8 151.1 154.7 153 153.8 154.6 152.9 155.5 150.8 155.5 148.3 154.3 150 156.6 150.8 158.1 150.3 160 148.4 160.6 145.4 160.8 145.9 163 143.1 163.7 144.8 165 144.2 165.7 144.2 168.4 142.5 170.3 144.7 172.3 143.8 174.9 143 176.2 144.6 178.4 143.6 178.8 143.1 180.1 142.3 180.5 139.5 178.8 137.4 176.2 135 173 135 170.3 134.9 167 134.5 164.8 133 161.7 132.4 158.8 132.9 156.3 133.1 153 132.4 148.9 132.1 146.2 132.4 142.9 132.2 138.2 131.8 133.5 130.4 132.2 126.9 129.4 124.1 127.1 122.4 124 120.4 120 118.5 117.3 117.6 116 117.5 114.2 118.7 113 119.1 111.9 117.9 111 118.5 109.1 118.9 107.5 120.3 106.4 121.9 103.4 122.2 101.1 121.7 98.7 121 97.1 119.8 96.6 118.6 98.5 117.4 98.2 115.9 97.4 114.5 95.8 112.6 95.1 112.6 93.7 111.5 92 110.6 90.9 108.4 90.4 106.1 89.7 104.6 87.7 102.9 86.7 100.5 87.4 98.3 86.6 95.5 85.4 92.8 83.9 90.7 81.9 91.3 79.6 91 78 89.5 75.6 88.1 74.1 86.9 71.5 85.5 69.5 85.2 66.8 83.7 65.7 83.6 68.2 84.7 70.2 85.5 72.9 86 75.6 86.3 77.6 85.3 76.5 84.1 75.2 84.6 73.1 82.7 71.5 82.9 69.5 81.8 67.5 81.5 65.7 81.4 64.7 80.8 63.1 79.7 62.4 78.6 62 78.4 60.6 78.3 59.3 78.2 57.9 78.1 57 78.2 55 78 54.2 79.3 52.3 79.8 50.7 81.9 48.1 82.9 46.4 83.9 43.6 85 43.9 85.5 44.8 86.4 42.8 85.5 41.5 84.5 40.7 83.4 40.2 84.1 38.5 83.8 37 83.9 35.7 84 34.4 84.2 32.5 84.3 30.9 82.3 30.9 81.5 29.8 80.3 29.1 78.2 28.8 76.4 27.8 73.9 28.4 70.9 29.4 68.8 29.8 71.7 27.8 69.2 28.8 66.4 30 64.3 31.5 61 32.8 58 33.8 54.8 34.4 52.2 35.1 49.9 35.7 53.6 34.2 57 33.3 60.5 31.9 62.8 30.4 61 30.5 58.4 30.5 59.9 29.1 58.7 28.4 58.8 27.3 60.3 26 62.8 24.9 65.4 24.6 67.7 23.5 66 23.4 64.2 23.4 63.3 23 63.2 22.1M115.2 79.1 117.5 77.7 119.3 77.5 121 77.6 123.3 78.5 125.7 80.3 127.4 81.4 123.8 81.8 123.2 80.7 122 79.6 119.1 79.1 117.3 79.5 115.2 79.1M126.9 83.6 128.9 81.8 131.6 81.9 133.9 83.5 132 84.1 130.2 84.7 126.9 83.6M122.3 83.8 124.6 84.2 123.5 84.6 122.3 83.8M135.3 83.8 137.1 83.9 135.2 84.3 135.3 83.8M124.1 72.6 125.2 72.9 124.3 74.9 125.4 75.6 126 77.2 123.9 75.6 124.1 72.6M27.9 78.7 28.6 78.9 30.3 79.9 32.1 80.6 32.6 81.6 31.8 83 31.8 81.9 31 80.3 29.6 79.6 27.9 78.7M158.5 8.2 161.4 9.2 161.9 10.5 166.7 10.5 168 12.1 167.7 14.8 168.1 16.4 169 18.1 166.4 21 167 22.8 167.9 25.2 168.6 27 171.2 28.8 173.2 28.7 174.8 26.4 177.2 23.4 180.4 21.8 185.1 19.3 190.9 18.7 194.3 17 195.5 15.3 194.1 14.2 197.8 12.1 198.8 9.5 199.8 8.5 199.1 7 202.2 6.1 205.3 5.3 199.7 4.8 193 3.8 186 3.8 178.5 4.4 171.1 4.8 169.1 5.5 164.9 6.1 160.3 7 158.5 8.2M192.2 22.2 193.9 21.2 196.5 21.6 199.7 21 201 21.6 201.7 22.8 200.3 23.6 197.4 24.7 194.7 24.2 193.3 24 194.1 23.5 192.3 22.9 192.2 22.2M148.7 12.9 151.3 13.9 154 15.9 155.9 17 155.7 18.7 158.3 20.4 158.9 21.2 156.4 22.8 154.9 24.4 153.5 25.8 150.7 25.3 149 24.3 147.7 23.4 145.3 23.6 143.1 23.4 146.4 21 150 19.5 149.9 18.3 146.9 17.6 144.8 17 141.2 17.2 138.8 15.9 141.8 13.4 145.3 13.1 148.7 12.9M114.7 15.5 118.9 13.7 122 13.5 127 13.5 126.3 15.3 128.2 16.4 126.3 17.6 122.3 18.1 115.7 18.7 113.4 17.6 114.7 15.5M109.6 14.9 112.6 13.1 117.2 12.1 119.1 13.1 116 14.8 113.1 15.5 109.6 14.9M152.2 10 156.7 8.5 159.9 7.5 165.5 6.3 169.7 4.8 164.6 4.2 157.8 4 149.5 5 145.3 6.6 140.7 8.5 143.7 9.9 148 10.2 152.2 10M149.6 12 143 12.1 140.3 11.5 141.6 10 147.2 9.5 150.6 10 149.6 12M130.6 11 125.9 11.5 121 11 124 10 129.9 9.7 130.6 11M132.2 15.3 130.3 14.2 130.6 13.1 133.6 12.6 135 13.7 132.2 15.3M138.9 14.8 135.8 13.7 138.5 12.6 140.7 12.8 138.9 14.8M136.3 11.5 133.7 11 136.4 9.5 138.9 10 136.3 11.5M146.8 8.5 142 8 143.6 6.1 147.9 5.7 146.8 8.5M140.1 24.6 134.6 24 137.1 21.6 139.4 22.2 140.1 24.6M151.8 44.6 156 42 157.4 39.4 158.5 42.6 158.7 44.8 157.5 46 155.5 45.4 151.8 44.6M82.2 40.5 84.5 41.5 85.3 43.6 84 42.9 82.2 40.5M250.7 66.6 252.8 66.4 253.4 64.8 253.9 62.8 254.1 61.2 254 59.3 252.3 59 250.7 59.8 249 59.2 246.8 59.6 245.1 59 244.1 57.7 243.1 55.8 242.6 54.3 243.4 53.9 244.5 53.4 245.5 53.3M242.4 53.7 240.1 53.8 238.9 54.1 238.8 56.1 239.4 57.4 238.4 59.4 237.8 58.3 237.2 56.7 236.1 55.3 235.1 53.4 234.8 51.8 233.4 50.7 231.1 50.1 230 48.7 228.9 48.1 228.4 47 227 47.5 227.3 49.4 229.1 51.4 230.8 52.3 231.9 53.1 234.2 54.6 232.6 55.5 232.2 56.7 231.3 57.4 231.5 55.4 230.4 54.5 229.2 53.4 227 52.2 225.3 50.7 224.1 49 222.5 49.4 221 50.6 219.3 50.3 217.7 50.3 217.4 52.1 216.1 53.1 214.7 53.9 213.7 55.4 213.9 56.5 213.1 57.9 211.5 59.2 208.9 59.3 207.7 60.1 206.7 59 205.6 58.5 204.1 58.8 204.2 57 203.5 56.3 204.2 54.5 204.4 52.7 204 50.7 205.4 49.8 208.6 50.1 212 50.2 212.7 48.3 212.7 46.8 211.6 45.3 209.2 44.4 209.1 43.5 210.8 43.1 212.4 43.2 212 41.9 212.7 42.3 214.2 42.2 215.5 41.2 215.8 40.2 217.5 39.7 218.2 38.9 218.7 37.8 219.5 37.2 221 37 222.5 36.9 222.8 36 222.4 34.7 221.9 33.2 222.3 32.4 224.2 31.7 224 33 224.6 33.6 223.7 34.7 224.2 35.8 225.4 36.2 226.9 35.8 228.5 36.5 230.4 35.7 232.3 35.3 233.7 35.8 234.8 34.8 234.5 33.2 234.9 32 235.8 31.7 237 32.5 237.6 32 236.6 30.7 236.4 29.8 238.7 29.4 240.7 29.4 242.4 28.8 240.9 28.2 239 28.3 236.3 28.9 234.8 28.4 234 27 233.8 25.4 235 24.2 236.8 22.8 236.6 22.1 235.4 21.8 233.7 22.1 233.1 23 231.4 24.4 230.4 25.8 230.1 27.2 230.3 28.1 231.8 28.8 231.5 29.7 230.1 30.7 230 32.2 229.5 33.7 228.2 33.7 226.8 34.6 226.3 33.4 225.4 31.8 224.7 30.3 223.9 29.2 223.1 30 221.7 31.2 220.2 31.2 219.2 30.3 218.9 28.8 218.7 27.6 218.9 26.1 220 25.6 221.3 24.9 223.1 24 224.3 22.9 225.1 21.6 225.9 20.2 227 19 227.8 18.3 229.4 17.4 231 17 232.7 16.5 234.2 15.9 235.9 16 237.6 15.8 239 16.4 240.4 16.8 242.3 17.7 245 18 249 19.5 250.3 20.6 249.2 21.3 245.8 20.6 244.2 21.1 245.7 23.4 247.8 24.2 248.4 23.4 246.9 22.8 250.3 23.4 252.3 21.3 253.2 21 252.1 19 254.2 19.3 256.1 19.7 260.1 18.9 261.8 18.8 265.2 18.7 266.4 17.6 269 17.7 270.9 18 272.6 18.7 273.6 18.9 271.3 17.6 270.6 16.1 271.2 15 271 13.8 272.4 13.7 274.1 14.4 274.7 15.9 276 16.8 276.7 18.2 277.9 18.7 278.5 20.2 278.3 21.2 280 20.4 278.9 18.3 277.6 17.9 276.8 16.2 275.1 15.2 276.3 14.6 277.2 15.4 278.4 15.7 280.6 15.9 279.1 14.4 280.4 14 280 13.1 283.4 13.1 284.4 12.6 283.5 11.4 285.4 11 287.9 10.4 290.3 10.4 291.5 9.5 294.1 8.8 295.8 9.2 295.6 9.6 298.3 9.9 300.5 9.8 303.3 10.4 304.8 11.5 304 12.6 302.8 12.6 305.2 12.9 307 13 309.6 13.1 312.7 13.7 314.6 12.9 317.3 13.1 319.7 13.7 321.5 14.8 323 15.7 325.1 16 325.6 15.4 327.9 15.2 330.5 15.3 329.9 14.3 331.2 14 335.2 14.4 339.6 15.2 342.4 16 345.4 15.8 348.5 16.1 350.6 17 353 17.4 357.4 17.6 359 16.9 361.9 17.1 364.6 17.2 369.5 18.1M58.4 18.1 59.4 19.7 61 20.4 62 20.6 62.5 21.5 60.4 22.2 59 22.2 56.9 23.4 55.1 23.4 54.1 22.2 51.8 22.5M376.1 22.5 375.6 23.1 374.1 23 378.9 25.2 378.9 25.8 376.9 26.4 376.3 27 375.8 28.8 371.5 28.8 370.2 28.9 370.4 30 370.6 31.3 372.5 31.9 373.4 33.6 374.2 35.1 374.7 37 374.1 37.9 374.4 40.2 372.3 38.3 368.7 35.1 365.9 32.5 366 31.5 367.2 31.3 366.5 28.6 364.4 27.6 362.9 26.7 360.7 26.8 361.4 29.1 359.5 29.9 356.3 29.7 353.5 29.7 351 29.8 349.7 30.7 349.2 33.2 350 35.7 353.3 36.1 356 37.6 358.6 40.2 360.4 43.5 359.7 45.4 359.4 47.4 359 50.1 357.5 51 355.8 51 355.4 51.7 355.4 53.4 356 54.7 354.9 56.1 357.5 58.2 358.6 60.8 358 61.6 356 62.2 355.2 60.8 354.8 58.8 353.7 57.8 352.3 57.7 351.2 55.4 350.2 54.9 348.3 56.1 347 55.4 347.5 54.1 345.9 53.7 344.9 54.7 343.7 55.8 343.9 56.9 345.8 58.3 347.5 58.1 349.9 58.5 348.8 59.7 347.7 61.2 349.3 62.8 350.8 64.8 352.6 66.8 352.3 67.9 353.4 68.8 353.3 70.5 352.6 71.9 352.1 73.6 351.4 75.2 349.7 76.9 347.6 78 346.1 78.7 344.1 79.5 342.7 80 342.2 81.1 341.5 79.6 339.7 79.5 338.4 80.8 337.7 83 338.9 85 341.2 87.3 342.7 90.4 343 92.9 341.7 94.1 340 95.6 338.3 97 337.9 95.1 336.3 94.3 335 92.1 333.7 91.5 332.9 90.5 331.9 90.8 331.3 93.7 331.4 95.8 332.8 97.4 333.1 99.1 334.3 99.4 335.6 100.5 336.7 102.4 336.8 104.5 337.8 106.7 336.9 106.8 335.1 105.2 334 104.6 333.3 102.5 332.8 100.5 332.2 99.8 330.7 97.9 330.3 96.2 330.7 94.4 330.2 91.7 329.1 89 328.5 86.3 327.2 86.1 326 87.3 324.8 87 324.7 85 323.8 82.3 322.5 81.6 321.5 80.3 320.7 78.5 319.3 78.3 317.5 79.2 316.4 79.2 315.2 80.3 314.9 81.6 313.3 82.6 312.3 83.9 310.6 86.2 309.4 87.3 308.3 88 308.5 90.6 308.4 93.1 308.3 94.7 307.5 96 306.6 96.6 305.8 97.6 304.7 96.6 304.1 94.8 303 92.7 302.2 91.1 301.2 88.6 300.1 86.3 299.3 83.2 298.9 81 298.5 79.6 298.3 78.5 296.1 80.6 294.4 78.5 295.5 78 293.9 76.9 293 76.6 292.1 76.2 291.5 75 290.7 74.4 288.5 74.6 285.6 74.6 285.1 74.8 282.7 74.4 280.3 74 279.6 72.6 278.7 72.1 277.9 72.5 276.2 72.9 274.3 71.5 273.1 71 272 69.5 271 68 269.6 68 268.8 68.4 269.4 70.2 270.6 71.8 271.8 72.9 272.3 74.4 272.7 75.2 273 73.4 273.6 74.6 273.6 75.8 275.4 76 277.1 76 278.2 74.6 278.8 73.3 279.2 75 280.5 76.5 282 76.8 283.5 78.3 283 79.7 282.2 81 281.5 82.3 281.4 83.1 280.2 83.8 278.8 84.9 278.5 85.7 276.3 86.2 275.1 87 272.3 88.8 271.1 89.7 269.4 90.2 267.7 90.6 266.5 91.5 265.3 91.6 264.9 90.6 264.3 88.6 264 86.6 262.9 84.9 261.6 82.7 260.1 81 259.5 79.3 258.6 76.9 257.3 75.3 256.2 73.6 254.9 71.5 254.1 70.7 253.6 69.5M253.8 68.8 253.3 70.9 252.4 70.3 251.2 68.3 250.7 66.6M245.6 53.1 244.7 52.7 244.2 51.4 243.9 49.9 244.6 49 245.5 47.8 246.4 46.1 247.5 46 248.4 46.8 249.5 47.3 248.6 47.7 249.8 48.7 251.8 48.1 252.8 47.7 251.7 47.4 250.9 46.4 254.2 45.2 254.1 46.1 253.7 46.8 254.3 47.4 255.1 48.7 256.3 49.7 257.6 50.7 259 52.1 259.1 52.7 257.5 53.4 255.4 53.4 253.7 53 252.1 52.1 250.3 52.1 247.9 53.3 245.6 53.1M264.3 49.5 264.4 47.3 265.3 46.9 266.3 46.4 267.8 45.4 269.8 45.8 270.3 47.7 268.8 48.7 268.5 49.4 269.5 50.7 270.8 51.4 271.3 53 272.8 53.9 272.1 55 273.3 56.7 273.8 58.3 271.3 59 269.4 58.2 268.1 57.4 267.8 56.3 268.1 55 268.1 54.1 266.7 52.3 265.1 50.7 264.3 49.5M250.7 66.6 251 68.3 251.8 70.2 252.8 71.8 253.8 73.6 255.1 76 255.5 77.9 256.9 79.1 257.4 82.3 258 83.9 259.2 84.6 260 87 261 88.1 262.9 90 264.1 91.2 265.1 92.5 264.8 93.7 266.6 94.6 268.3 94.1 271.3 93.5 273.3 92.8 274.4 92.7 274.3 94.6 274 96.2 272.8 99.1 271.5 101.6 270 103.7 268 105.9 265.6 107.5 263.9 109.5 262.2 111.9 261.2 113.8 260.5 115.5 260 117.3 260.6 118.9 260.7 121.3 261.7 123 261.9 125.5 261.8 128.1 261.3 130.1 259.1 131.8 257.3 132.6 255.8 134.9 254.6 135.5 255.1 138.2 255.1 140.6 253.9 141.9 251.8 143 251.7 144.9 251.2 146.9 249.7 148.3 248 150.8 246.2 152.4 244.4 153.8 242.7 154.3 240.4 154.2 239.3 154.3 237.5 154.9 236.4 155.4 235.1 154.9 234.6 154 234.6 152 233.9 149.9 232.9 147 231.6 144.9 231.2 142.9 230.7 139.1 229.5 136.5 228 133.5 227.7 130.8 228.3 128.1 229.9 125.2 230.1 123.1 229.3 120.7 228.5 118 228.4 116.6 228.2 115.1 227 113.7 225.5 111.8 224.6 109.9 225.4 107.9 225.2 105.9 225.6 104.2 225 103.3 224 102.5 222.6 102.6 221.1 102.8 219.9 101 218.7 99.9 216.9 100.1 215.3 100.5 213.4 101.3 211.6 102.1 209.8 101.7 208.3 101.6 205 102.6 203.3 102.1 200.9 100.2 199.1 98.6 198.3 96.8 196.8 94.8 195.6 93.1 194.2 91.9 194.1 90.4 193.3 88.8 194.6 87 195 85 195 82.3 194.4 80.8 194.2 79.7 195 77.2 196 75.6 197.2 73.3 198.8 71.4 200.8 70.5 202.5 69.1 202.9 67.5 203.2 64.8 204.6 63.6 206.3 62.8 207.2 60.6 208 60.2 208.9 61.2 211.1 61.3 212.8 60.5 214.5 59.8 216.2 59.3 217.8 59 219.5 59 221.2 58.6 222.8 58.9 224.5 58.3 225.4 58.8 226.2 59 225.8 60.4 226.3 61 225.7 62.1 225.4 63.1 226.6 63.9 228.1 64.4 229.2 64.4 231.2 65.1 231.8 66.1 233.3 66.8 235 67.5 236.3 67.5 236.7 66.6 236.6 65.3 237.7 64.4 239.4 64.4 240.6 65.2 242.3 66 244.6 66.3 246.9 67 248.6 66.1 250.7 66.6M272.2 124.7 273.1 128.1 273.2 129.8 272.4 131.4 271.7 133.5 270.6 136.1 269.5 139.5 268.4 142.1 266.3 142.9 265.1 142.2 264.5 140.2 264.3 138.2 265 136.8 265.8 134.8 265.5 132.5 266.1 130.4 268.3 129.5 269.5 128.1 270.4 126.9 271.5 125.4 272.2 124.7M208.1 41.4 209.8 41.1 211.9 40.6 213.9 40.5 215.4 40 214.9 39.2 215.7 38.1 215.2 37.8 214.3 37.9 214.2 37 213.5 35.7 212.5 34.9 212 33.9 211 33.8 211.8 33.2 212.2 31.9 210.6 31.7 211.1 30.5 209.1 30.5 208.5 31.5 208.5 33 207.9 33.4 208.5 34.7 209.3 34.6 209 35.3 210.5 35.2 210.8 36.2 210.9 37.1 209.4 37.2 209.7 38.4 208.7 39.2 209.9 39.4 210.9 39.7 209.7 40 208.1 41.4M207.9 38.7 207.9 37.2 207.7 36.3 208.5 35.7 207.8 34.8 206.5 34.7 205.5 35.5 205.5 36.1 204 36.1 204.1 37.2 204.3 38.3 203.5 39.2 204.3 39.6 205.8 39.3 207.3 38.8 207.9 38.7M222.3 8 224.6 8.5 226.9 10 228.6 9 229.9 8 234.2 7.5 232.3 6.3 227.1 6.1 222.1 6.9 222.3 8M258 15.4 259.9 14.2 259.9 12.1 262.1 10.6 265.4 9.8 267.5 9.5 264.8 11 261.8 12.6 260.6 14 262.5 15.9 258 15.4M285.3 7.5 289.4 7.8 291.4 7 286.6 5.7 283.5 6.1 285.3 7.5M250.9 6.6 256.4 6.1 259 5.7 253.6 5.3 248.9 5.9 250.9 6.6M322.8 11.5 328.4 12.6 331.6 11.5 325.9 10.5 322.8 11.5M63 15.3 64.1 15.7 65.7 15.2 64.2 14.9 63 15.3M364.1 15.3 364.9 15.3M308.6 95.4 310.1 97.1 310.9 98.7 310.4 100.2 309.1 100.5 308.5 98.5 308.6 96.4 308.6 95.4M367.8 52.9 369.8 55.3 369.7 57 370.5 58.8 371.3 60.5 370.5 61.2 369.9 61.8 367.9 62 367.7 62.4 366.9 63.5 365.5 62.1 364 62.4 362.5 62.9 361.1 62.4 362.1 60.8 364.3 60.6 365.8 60.4 365.7 58.3 367.5 58.1 368.3 56.5 366.8 53.8 366.8 53.1 367.8 52.9M366.1 52.7 365 50.5 364.3 47.5 366.2 48.5 368.9 49.5 370.7 50.3 369.5 52.1 366.9 51.4 366.8 52.5 366.1 52.7M360.3 63.1 361.6 62.9 363 64.1 363.1 66.4 362 66.6 360.6 64.5 360.3 63.1M363.5 63.9 365.1 62.5 365.9 63.7 364.3 64.5 363.5 63.9M364.3 46.8 363.5 44.8 361.6 42.8 359.6 40.2 356.5 36 359.1 38.3 361.2 40.9 363.7 42.8 364.7 45.4 364.3 46.8M353.8 74.6 355 74.9 354.8 78.3 354.5 79.1 353.4 77.6 353.8 74.6M340.9 82.7 342.7 81.5 343.6 82.2 342.9 83.6 341.9 84.1 340.9 82.7M355.1 83.6 357.1 83.6 357.4 85.9 356.9 87.7 358.3 89.4 360.2 91.1 359.3 90.1 357.1 90 356 89 354.9 87.7 355.2 86.3 355.1 83.6M358.6 99.1 360.3 98.1 360.6 97 362.3 95.4 363.6 97.1 363.9 99.1 362.9 100.7 361.3 99.9 358.6 99.1M358.1 92.7 359.4 94.4 360.6 94.8 361.9 93.5 360.7 91.7 358.1 92.7M352.8 97.2 355.4 94.4 355.1 93.7 352.8 97.2M343.5 106.5 344.3 105.9 345.8 106 348.2 104.2 349.5 102.4 351 101.4 352.1 99.8 352.9 99.1 353.9 100.5 355.4 101.6 354.3 102.5 353.9 104.2 354.2 107.2 353.6 109.2 352.4 111 352.3 113.3 350.1 113.9 348.2 112.6 346.4 113 345 112.3 344.7 110.2 343.7 108.5 343.5 106.5M327 101 329.7 101.6 331.2 103.4 333.2 105.6 334.6 106.3 336.4 108.3 337.5 109.9 338.5 111.5 339.9 112.7 339.6 116.4 338.1 116.5 336.2 114.9 334.5 112.6 333.3 109.9 331.9 107.9 331 106.3 329.4 104.1 327.9 102.5 327 101M338.7 117.7 339.7 116.5 341.5 116.6 342.6 117.3 345 117.8 347.3 117.8 349.7 118.9 349.4 120.3 346.6 119.7 344.3 119.5 341.9 119 340.2 118.5 338.7 117.7M350.2 120 351.4 119.7 352.5 120 354.9 120 356.7 120 359.4 119.6 361.4 119.9 364.4 119.7 361.9 120.9 360 122.4 358.4 121.3 354.9 120.7 351.3 120.7 350.2 120M355.6 116 355.9 113.3 355.1 112 356.3 109.2 356.6 107.7 357.6 106.8 359.5 107.2 361.9 106.7 362.7 106.4 360.1 108 357.2 107.9 358.3 109.8 360.5 109.8 358.4 111.1 359.5 114.6 358.7 115.7 357.5 112.3 356.8 116 355.6 116M365.4 105.6 366.7 107.2 366.1 109.6 365.5 107.9 365.4 105.6M366 112.7 369.3 112.6 368.9 113.7 366 113.4 366 112.7M369.6 110.3 371.4 109.1 373.6 109.8 374.3 113 377.3 110.6 379.1 111.5 381.5 112 383.8 113.1 385.5 113.7 387 115.3 389.2 116.6 388.8 118.6 389.6 120 390.9 121.7 392.3 122.5 390.8 122.7 388.5 122 386.9 120 385.2 118.8 383.9 119.9 383.6 120.9 382.1 120.9 380.9 120.8 379.2 119.6 377.4 119.9 378.2 118 377.5 115.5 374.8 114.5 372.5 113.8 371.7 113 370.8 112.3 371.4 111.2 369.6 110.3M390.2 116 392.5 116 394.4 114.3 393.7 116 391.9 117 390.2 116M397.8 117.3 400 119 403.4 120.7 404.9 122.7 402.1 121.3 397.8 117.3M346 138.2 345.6 140.9 345.5 143.5 345.5 146.2 345.4 148.3 344.5 151 344.3 153.5 343.2 154.6 344.5 155.7 346.2 155.7 348.9 154.3 351.4 154.3 354 153 355.9 152.3 357.7 152 360.3 151.2 362.7 151 364.1 151.6 365.4 152.7 365.9 155.1 367.2 154.3 369.2 153.1 368.2 155.9 366.8 156.6 368.8 156.5 369.3 157.7 369 159.7 370.2 160.1 372.1 160.8 374.4 159.4 375 161 377.5 159.6 380.1 159 381.4 157 383.3 155 384.5 153.6 386.6 152 388.4 149.6 389.9 147.3 390.3 144.9 390.8 142.6 389.8 141.1 389.2 139 387.8 138.6 387.8 136.8 387.3 135.7 385.4 134.4 385.1 132.8 384.8 130.4 385 128.5 383.4 127.4 383.3 125.4 382.4 123 381.3 125.4 380.7 128.1 380 130.8 379 132 377.5 132.1 375.8 130.5 374.5 129.4 373.4 128.5 374.3 126.7 375.4 125 374.2 125 372.2 124.4 370.6 124 369.2 125 367.4 125.9 366.8 128.1 364.8 128.7 363.9 127.4 362.6 127.7 361.2 129.1 360 130.6 358.9 131.7 357.3 132.5 356.4 133.9 354.8 135.1 352.9 135.5 351 136.4 349.1 136.8 347.3 137.9 346 138.2M371.8 163.3 373.5 163.8 375.6 163.6 374.4 165.3 372.7 166.6 370.8 167.2 371.2 165.3 371.8 163.3M407.9 154.9 408.9 156.3 408.9 158.3 409.4 159.3 411.7 159.3 409.9 161 408.5 161.4 407.6 162.4 404.3 164.5 404.1 164 405.6 162.4 405.1 161.3 406.5 160.5 407.9 158.3 407.7 157.3 407.9 154.9M402.5 163 403.4 164.4 401.7 165.7 399.5 167.2 397 168.4 394.9 170.1 392.8 171.1 391.2 171.1 390.2 170.3 391.4 169.3 394.3 167.7 397.7 166.4 400 164.8 401.6 163.4 402.5 163M405.3 135.7 408.2 138.4 407.6 138.6 405.3 135.7M421.8 132.1 423.2 132.1 422.7 133 421.6 132.8 421.8 132.1M75.4 208.1 84.2 208.6 92.8 209.1 96.2 208.9 97.6 207.6 98.8 206.1 101.9 205.6 108.9 204.8 116.3 204.3 124.9 204.7 132.2 204 135.3 202.9 144.3 203.7 149.8 203.4 153.7 203.2 155.6 202.3 156.2 200.7 157.1 197.8 156.9 194.9 159.2 193.1 161.6 192.3 161 194.9 159.3 196.1 161.2 199 163.4 202.9 164.8 205 162.7 206.6 159.6 207.6 156.7 208.6 161.8 210.1 170 211 177 210.5 179.9 209.1 187.2 208.6 192.1 207.1 197.7 204.5 201.5 202.9 205.6 201.8 213.9 200.7 222.5 200.1 231 200.1 239.7 199.5 244.2 199 248.6 198.6 253.4 197.5 258.2 196.5 262.9 196 266.9 196.9 271 197.5 274.8 198.4 275.4 200.1 277.5 199.5 280.7 198.6 286.2 197 292 196.3 298.6 195.8 303.7 195 307.7 195.6 312.1 195.6 315.9 196.3 320.1 196.6 324.7 196.5 329.8 195.8 334.3 195.8 338.1 196.3 341.4 197.3 344.3 198.4 347.9 199 351.3 199.7 352.3 200.7 354 201.8 354.7 202.9 347.7 205 343.2 206.6 341.7 208.1 343.7 208.6 352.5 208.1M175.8 208.6 180.3 209.8 182.4 210.8 178.8 211 175.8 208.6M151.7 199 155.4 200.7 155.2 202.9 150.6 202.3 151.7 199M151.3 177.1 154.7 177.3 154.6 178.4 151.9 178.2 151.3 177.1M175.9 180.8 178 181.1 176.2 181.8 175.9 180.8M285.2 174 287.2 174.3 285.8 175.2 285.2 174M216.6 55.3 217.7 55 217.5 55.7 216.6 55.3M223.2 50.9 224.2 50.9 224.1 52.7 223.4 52.5 223.2 50.9M223 53.4 224.5 53.4 224.5 55.8 223.3 56.1 223 53.4M227.7 57.4 231.2 57 230.7 59.2 227.7 57.4M240.2 60.8 243.4 61 241.4 61.6 240.2 60.8M250.1 61.4 252.5 60.6 251.5 62 250.1 61.4M276.9 91.6 278.3 91.6 277.3 92 276.9 91.6M323.2 90.4 323.7 92.4 323.4 93.7 323.2 90.4M360.7 121.1 364.6 119.9 361.9 121.9 360.7 121.1M128.8 18.7 131.4 18.1 131.8 17.2 128.8 17.7 128.8 18.7M119.4 10.5 123.5 9.3 125.7 9.9 121.3 10.8 119.4 10.5M136.9 11.8 139.8 11.3 139 10.6 136.9 11.8M148.1 13.7 151.7 13.4 150.1 12.8 148.1 13.7M137.1 25.8 139.7 26 138.4 25.2 137.1 25.8M139.9 8.5 143.4 8.1 142.8 7.3 139.9 8.5M135.1 8.7 138.9 8.1 138.1 7.5 135.1 8.7M127.6 9.1 131.2 8.7 130.4 8.2 127.6 9.1M135.6 14.8 136.3 15.9 132.8 17 133.1 18.1M143.1 23.4 149.8 19.8" fill="none" stroke="#000" stroke-width="1.9" stroke-linejoin="round"/>
</g>
<path d="M100.1 217.1 L97 216.3 L93.4 215.1 L89.6 213.8 L85.4 212.3 L81 210.5 L76.5 208.6 L72.1 206.6 L67.8 204.5 L63.9 202.3 L60.2 200.1 L56.6 197.8 L53.1 195.5 L49.7 193.1 L46.4 190.7 L43.1 188.3 L39.9 185.8 L36.8 183.3 L33.8 180.8 L31 178.2 L28.3 175.6 L25.7 173 L23.4 170.3 L21.1 167.7 L18.9 165 L16.8 162.4 L14.9 159.7 L13.1 157 L11.5 154.3 L9.9 151.6 L8.6 148.9 L7.3 146.2 L6.3 143.5 L5.3 140.9 L4.5 138.2 L3.8 135.5 L3.1 132.8 L2.4 130.1 L1.9 127.4 L1.4 124.7 L1 122 L0.7 119.3 L0.4 116.6 L0.2 113.9 L0.1 111.2 L0 108.5 L0.1 105.9 L0.2 103.2 L0.4 100.5 L0.7 97.8 L1 95.1 L1.4 92.4 L1.9 89.7 L2.4 87 L3.1 84.3 L3.8 81.6 L4.5 78.9 L5.3 76.2 L6.3 73.6 L7.3 70.9 L8.6 68.2 L9.9 65.5 L11.5 62.8 L13.1 60.1 L14.9 57.4 L16.8 54.7 L18.9 52.1 L21.1 49.4 L23.4 46.8 L25.7 44.1 L28.3 41.5 L31 38.9 L33.8 36.3 L36.8 33.8 L39.9 31.3 L43.1 28.8 L46.4 26.4 L49.7 24 L53.1 21.6 L56.6 19.3 L60.2 17 L63.9 14.8 L67.8 12.6 L72.1 10.5 L76.5 8.5 L81 6.6 L85.4 4.8 L89.6 3.3 L93.4 2 L97 0.8 L100.1 0 L327.8 0 L330.9 0.8 L334.5 2 L338.3 3.3 L342.5 4.8 L346.9 6.6 L351.4 8.5 L355.8 10.5 L360.1 12.6 L364 14.8 L367.7 17 L371.3 19.3 L374.8 21.6 L378.2 24 L381.5 26.4 L384.8 28.8 L388 31.3 L391.1 33.8 L394.1 36.3 L396.9 38.9 L399.6 41.5 L402.2 44.1 L404.5 46.8 L406.8 49.4 L409 52.1 L411.1 54.7 L413 57.4 L414.8 60.1 L416.4 62.8 L418 65.5 L419.3 68.2 L420.6 70.9 L421.6 73.6 L422.6 76.2 L423.4 78.9 L424.1 81.6 L424.8 84.3 L425.5 87 L426 89.7 L426.5 92.4 L426.9 95.1 L427.2 97.8 L427.5 100.5 L427.7 103.2 L427.8 105.9 L427.9 108.5 L427.8 111.2 L427.7 113.9 L427.5 116.6 L427.2 119.3 L426.9 122 L426.5 124.7 L426 127.4 L425.5 130.1 L424.8 132.8 L424.1 135.5 L423.4 138.2 L422.6 140.9 L421.6 143.5 L420.6 146.2 L419.3 148.9 L418 151.6 L416.4 154.3 L414.8 157 L413 159.7 L411.1 162.4 L409 165 L406.8 167.7 L404.5 170.3 L402.2 173 L399.6 175.6 L396.9 178.2 L394.1 180.8 L391.1 183.3 L388 185.8 L384.8 188.3 L381.5 190.7 L378.2 193.1 L374.8 195.5 L371.3 197.8 L367.7 200.1 L364 202.3 L360.1 204.5 L355.8 206.6 L351.4 208.6 L346.9 210.5 L342.5 212.3 L338.3 213.8 L334.5 215.1 L330.9 216.3 L327.8 217.1Z" fill="none" stroke="#b3b3b3" stroke-width="1.2"/>
</g>
<text x="686.5" y="75.5" text-anchor="middle" font-size="22" fill="#2f4f4f" stroke="#2f4f4f" stroke-width="0.7" textLength="52.5" lengthAdjust="spacingAndGlyphs">MAM</text>
<g transform="translate(472.5 92.8)">
<g clip-path="url(#clip)">
<rect x="0" y="0" width="427.9" height="217.1" fill="#f6f7f7"/>
<path fill="#68abd0" fill-rule="evenodd" d="M51.5 79.4 54.5 79.7 59 81.9 60.8 84.5 60.5 86 57.5 87.5 54.5 86.4 52 86.9 50.5 86.6 48.3 84 48 82.5 49.5 80.5 51.2 79.5ZM218 85.5 219.5 85.5 221 86.3 222.8 88.5 222.9 89.5 220.5 90 218.6 89.5 217.2 87 218 85.5ZM14.5 89.9 16.5 89.7 19 91.3 24 92.4 26.4 94.5 26.9 96 25.3 97 22 96.7 18 92.6 14 92 13.6 91 14.2 90ZM106.5 96.4 107.5 96.2 108.1 97 106 99.7 104.5 99.9 103.9 99.5 103.9 98.5 106.4 96.5ZM309 104.5 312 105.3 317 105.4 319.8 107.5 319.9 109 319 109.8 318 109.9 316 109.3 313 109.3 309 108 308 107.2 307.7 106 308 105 309 104.5ZM143.5 116.9 148.5 121.3 154 122.8 154.7 124 154.4 125 152.5 125.9 150 124.9 149.4 127.5 147.5 129 146 129.1 144 128.3 140.5 125 140.1 124 140.6 119 143 117ZM327 119.4 333 121.2 335.2 124 334.3 126 331.5 127.5 329.5 129.7 327.5 130.3 325 130.2 323.5 129.3 321.5 126 320.8 123 319 121.8 318.7 121 320 120.3 323 120.7 326.7 119.5Z"/>
<path fill="#a7d0e4" fill-rule="evenodd" d="M46 75.4 49.5 76.7 53 75.5 58.5 76.2 65 78.9 70.5 76.4 74 76.3 77.3 78 80 82.6 82 84.2 84.5 82.4 85.5 82.4 92.5 86.1 102 86.4 105.2 90 106.9 93 110 94.1 110.6 96 106.5 101 103.5 101.5 99 100 95.5 94.5 91.5 94.1 86.5 91.4 77.5 90.1 72.5 90 67 91.7 64.5 91.9 60 90.7 57 91 52.5 90.6 48.5 88.2 44.5 87.7 40 87.9 37.5 88.8 35.8 94 34.3 96 30.5 96.6 28 98.6 23.5 98.4 21 97.7 17.5 94.8 12.5 93.4 7.3 87 8 85.7 11 85.2 17.5 82.1 22 83.9 23 83.5 25 80.9 26 81 28 82.4 29.5 82.5 33 80.2 38.9 78 41 76.3 45.7 75.5ZM51.2 79.5 49.5 80.5 48 82.5 48.3 84 50.5 86.6 52 86.9 54.5 86.4 57.5 87.5 60.5 86 60.8 84.5 59 81.9 54.5 79.7 51.5 79.4ZM14.2 90 13.6 91 14 92 18 92.6 22 96.7 25.3 97 26.9 96 26.4 94.5 24 92.4 19 91.3 16.5 89.7 14.5 89.9ZM106.4 96.5 103.9 98.5 103.9 99.5 104.5 99.9 106 99.7 108.1 97 107.5 96.2 106.5 96.4ZM421.5 78.5 425.5 78.7 428.5 78.1 428.5 92.3 423 93 420.5 94 418 93.7 410 95.1 405 95.1 401.5 93.6 394 94.8 392 94.2 385.5 96.9 384.1 96.5 382 94.6 380.5 94.5 372 98.2 368 98.6 366.2 98 364.3 95 364.3 90 367.5 87.8 369.5 87.7 372 88.9 379 87.7 383 87.6 387.5 89.9 389 90.1 391 86.3 392 85.5 395.5 84.7 398 84.7 400 83.7 404 84.1 406.5 82.6 409.5 81.9 411.5 80.4 414 80.4 417 79 421.5 78.5ZM142 80.9 143 81 148 84.9 152 84.6 156.5 86.9 158.5 88.7 161.1 90 161.7 91 161.5 92 160 93.2 154.5 92.2 150 88.6 146 88.4 142.5 87.2 135.5 87.6 139.7 82.5 141.9 81ZM218 81.5 219.5 81.6 225 85.8 227.5 86 229 86.9 232 90.4 232.2 94 226 91.1 219 91.2 214.5 90.6 211.5 91.6 208.5 91.3 205.5 89.3 201.5 88 199.7 86 200.1 84.5 203 83.4 208.5 83.5 217.9 81.5ZM218 85.5 217.2 87 218.6 89.5 220.5 90 222.9 89.5 222.8 88.5 221 86.3 219.5 85.5 218 85.5ZM306 98.5 309.5 98.3 318 100.9 320.3 104 322 104.8 323.5 107.6 325 108.4 328 108.2 330.9 105 333 104.2 336.5 103.9 339 104.8 343.5 104.6 345.5 105.3 346.5 106.5 345.5 107.5 336.5 107.9 334.5 108.8 334 110 339 122.1 340 122.6 344 121.7 345.5 121.9 347.1 123.5 346.9 125 344.5 126 338.5 126.1 336 127.7 332.6 129 330 131.3 328.5 132 326.5 132.1 323.1 131 318.6 124.5 313 121.8 311.5 117.5 309 114.3 304 112.5 303.8 112 305.1 110.5 305.2 109.5 304.3 105 302.5 101.5 303.4 99.5 306 98.5ZM309 104.5 308 105 307.7 106 308 107.2 309 108 313 109.3 316 109.3 318 109.9 319 109.8 319.9 109 319.8 107.5 317 105.4 312 105.3 309 104.5ZM326.7 119.5 323 120.7 320 120.3 318.7 121 319 121.8 320.8 123 321.5 126 323.5 129.3 325 130.2 327.5 130.3 329.5 129.7 331.5 127.5 334.3 126 335.2 124 333 121.2 327 119.4ZM405 107.8 405.5 107.6 407 109 409.5 109.7 411 112.2 413 113.5 416.5 113.7 419.5 115.6 422.5 114.7 424.4 115.5 424.7 117.5 422.7 121.5 423.2 124 419 129 415.5 130.7 411 129.1 405.5 130.7 403 130.2 401 128.8 399 128.2 394 128.6 386.3 121.5 385.4 118.5 385.5 117.1 388.5 113 391 111.4 395 110.4 398 110.2 400.5 111.1 402 111 404.9 108ZM142.5 110.4 143 110.1 145.1 114 146 117.5 148 119.4 157 121.8 164.5 121.5 164.6 129 163.8 132.5 160.5 133.5 151 131.4 145.5 131.8 140.2 129.5 138.4 124.5 138.1 121 135.6 115.5 142.5 110.5ZM143 117 140.6 119 140.1 124 140.5 125 144 128.3 146 129.1 147.5 129 149.4 127.5 150 124.9 152.5 125.9 154.4 125 154.7 124 154 122.8 148.5 121.3 143.5 116.9ZM106 111.4 107.5 111 112.5 111.5 115 112.7 115.8 114 115.5 115.6 113.2 120 114.1 124.5 112.6 130.5 108.5 132.2 105 132.2 104 131.7 101 128.6 97.8 123.5 95.9 122 95.5 121 96.5 118.3 99 117.3 100.9 115.5 103 114.4 105.7 111.5ZM6 128.9 8.5 128.7 11.1 131 10.7 135 9 138.2 8 138.8 0 137.8 0 131 2.5 130.7 5.7 129ZM21 139.9 22.5 139.6 23.6 140.5 24.3 143.5 23.9 145.5 20 150.9 16.5 151.8 15 151.6 12.5 149.7 10 146.5 9.6 144.5 10.2 142 11 141.4 14 142.2 16.5 140.4 20.7 140Z"/>
<path fill="#d7e8f1" fill-rule="evenodd" d="M20 0 20.9 0 21.5 2.5 20.1 2 19.8 0ZM299.5 0 303 0 302.5 0.8 301.5 1.2 300 0.9 299.1 0ZM389 15.3 390.8 16 391 17.1 390.5 17.5 389.5 17.1 388.8 15.5ZM38 17.9 39 17.5 40 18.4 40.6 20 40.2 21 39 21.1 38.2 20.5 37.6 19 37.9 18ZM62 56 63 56.2 66 58.3 70 57.8 77.5 59.3 83.9 62.5 86 66.5 91 71.8 94 72.4 99 71 106.6 74.5 108.8 77.5 108.4 83 109.8 89.5 111 91 117.5 95.3 117.7 96.5 115 95.9 113.5 96.2 106.5 102.6 99.5 103 97 102.3 94 99.3 92 99.6 90 98.7 87.9 97 86.3 94 81 92.3 77.5 91.8 72 92.2 67.5 94.9 65.5 96.7 62 97.6 58 96 55 93.3 51 93 49 90.9 47.5 90.4 41 92 35.5 97.4 30.5 100.8 29 101 21 99.3 17.5 96.6 11.5 95.2 7.2 92 4.5 90.8 2.4 82 2.1 76.5 3 75 6.3 72.5 7.1 69.5 8 68.5 12 68.1 13.5 65.6 14.5 65 18 65.9 23.5 65.6 28.5 62.8 36 63.6 40 63.2 44.5 61.1 48.5 61.4 52 60.2 55.5 59.9 58 57.3 61.9 56ZM56 61 53 63.3 48.5 63.8 47.3 65 46.5 67.5 44 66.1 40.5 65.8 37 67.9 36 70.5 37 71.3 40.5 71.3 44 72.2 47.5 71.7 50.5 73 54 72.7 60.5 74.2 65.5 74.5 66.5 74 67 71.1 77.5 70.3 78.9 69.5 79.8 68 79.5 65.5 77 64.2 68.5 63.8 63.5 61.9 56.5 60.8ZM45.7 75.5 41 76.3 38.9 78 33 80.2 29.5 82.5 28 82.4 26 81 25 80.9 23 83.5 22 83.9 17.5 82.1 11 85.2 8 85.7 7.3 87 12.5 93.4 17.5 94.8 21 97.7 23.5 98.4 28 98.6 30.5 96.6 34.3 96 35.8 94 37.5 88.8 40 87.9 44.5 87.7 48.5 88.2 52.5 90.6 57 91 60 90.7 64.5 91.9 67 91.7 72.5 90 77.5 90.1 86.5 91.4 91.5 94.1 95.5 94.5 99 100 103.5 101.5 106.5 101 110.6 96 110 94.1 106.9 93 105.2 90 102 86.4 92.5 86.1 85.5 82.4 84.5 82.4 82 84.2 80 82.6 77.3 78 74 76.3 70.5 76.4 65 78.9 58.5 76.2 53 75.5 49.5 76.7 46 75.4ZM226.5 56 234.3 58 244.5 63.5 246.3 65.5 246 66.1 243.5 66.4 240.5 63.2 237.5 64.2 231.3 63.5 225.9 70.5 225.3 72.5 227 77 232 79 237 79.5 240.5 79 243.5 79.5 249.9 79 252.5 75.3 256 74.2 256.7 73 256 70.2 253 69.6 249.8 68 249.2 67 250.3 66 253 67.1 257.5 66.4 265.5 66.8 269 66.2 272.5 68.3 276 67.8 277.8 69 277.7 70.5 275.1 73.5 273.7 78.5 274.9 83.5 274.5 88.2 273.5 89.6 271.7 90.5 271.4 95 272 103.7 270 105 269.6 107.5 268 108.9 265 109.6 261 109.4 255.4 112 256.5 117.5 255.8 122.5 255 123.2 253 123.7 251 125.3 249.4 127 248.9 128.5 249.1 130.5 252.3 136.5 252.2 137.5 251.5 138.1 245.5 137.9 238.5 140.7 228 141.4 224.5 140.7 217 144.3 216 144 214.4 141.5 211.8 139 210.5 135.5 212.4 131.5 212 128 212.3 125.5 211.7 123 212.1 122 214 121.2 217 121.1 225.5 124.2 231 122.1 231.8 121 231.9 119 230 117 229.4 115.5 229.9 112 229.4 108.5 228.4 106 229.8 100.5 229.8 96 228.6 94 226.5 92.6 223.5 92 214 91.8 212.1 94 212.7 98 212.2 99.5 209 100.9 206.5 99 206 99.2 205.7 101.5 205 101.9 202.9 100.5 201.1 95.5 199 94.5 197 94.5 191.5 96.3 187.7 99 185.5 102 183.5 102.5 181.5 102 178.5 99.7 166.5 96.3 163.5 94.4 161 94.8 157.5 93.9 154 94 151.3 91 149 89.8 141.5 88.4 135 89.5 132.5 89.2 131.5 88.5 131.7 87.5 134.1 85.5 134.8 83.5 132.8 78 130.3 76 130.5 74.2 131.5 73.3 134.5 73.8 137.5 73.4 140.5 75.9 145.5 76.7 151 76.5 160 79.3 172.5 81.3 175.5 82.5 178.5 81.9 183 82.1 184.4 81.5 186 79.8 191.5 76.6 195.5 76.2 196.8 75.5 193.5 72.4 190 73.9 186.5 71.2 185.6 67 183 63.5 180.3 61 180.6 60 182.5 58.4 185 58.2 188.5 61.3 190.5 62 193 61.8 196 64.5 200 65.8 203 65.4 205.5 66.6 208 64.7 212.4 63 215 60.8 220.5 58.4 223.5 57.6 226.3 56ZM207.9 69.5 207.6 71 208.5 72.1 209.8 70 209 69.1 208 69.4ZM201.4 74.5 200.6 75 200.7 75.5 202.5 77.2 205.3 75.5 205 74.8 201.5 74.5ZM141.9 81 139.7 82.5 135.5 87.6 142.5 87.2 146 88.4 150 88.6 154.5 92.2 160 93.2 161.5 92 161.7 91 161.1 90 158.5 88.7 156.5 86.9 152 84.6 148 84.9 143 81 142 80.9ZM217.9 81.5 208.5 83.5 203 83.4 200.1 84.5 199.7 86 201.5 88 205.5 89.3 208.5 91.3 211.5 91.6 214.5 90.6 219 91.2 226 91.1 232.2 94 232 90.4 229 86.9 227.5 86 225 85.8 219.5 81.6 218 81.5ZM241.4 97 241.5 99 242.5 99.7 243.5 99.5 243.5 97.8 242.5 96.9 241.5 96.9ZM245.2 110 243.5 111.4 240.5 110.1 238.8 112 240 113 243.5 112 245 112.6 248.6 110.5 247 109.8 245.5 109.9ZM360.5 60 365 60.7 368.5 62.7 373 63.5 379 60.3 385 60 388 61.4 391.6 62 396 65.3 401.5 66.3 404 67.6 407.5 66.3 414 67.9 421 64.7 424 65 426.8 66 427 69.5 428.5 71.2 428.5 78.1 425.5 78.7 417.5 78.9 414 80.4 411.5 80.4 409.5 81.9 406.5 82.6 404 84.1 400 83.7 398 84.7 395.5 84.7 392 85.5 391 86.3 389 90.1 387.5 89.9 383 87.6 379 87.7 372 88.9 370 87.8 368.5 87.7 365 89.2 364 91.5 364.5 95.5 366.5 98.2 368 98.6 372 98.2 380.5 94.5 382 94.6 384.1 96.5 385.5 96.9 392 94.2 394 94.8 401.5 93.6 405 95.1 410 95.1 418 93.7 420.5 94 423 93 428.5 92.3 428.5 145.7 425.5 147.9 421 149.4 415.5 149.1 411.5 149.6 409 149 406.5 150.7 405 151.1 402.5 150.5 399.5 148.1 396 147.9 393.5 148.8 391 148.8 375 146.3 372.7 148.5 371 148.8 368.5 145.9 362.5 143.7 352.5 143 349 143.4 338 141.7 336 142.4 332.5 146.8 331.5 147 328 145 324 144.8 322 140.1 316.1 136.5 313 131.1 311.3 126 306.5 120.6 304.5 117.3 302 117.1 297.5 119.1 292.5 118.7 289.5 116.5 288.6 114 288.9 109.5 287.7 107 288.5 106.4 293 105.6 293.7 103.5 293 102 290.3 99.5 289.5 97 285.7 91 285.5 90 286.5 86.7 287.5 86.1 290 86.5 292.5 86.1 295.5 88.5 300.5 85.1 302 84.8 304 85.4 308 84.6 310 81.6 311 81 321.5 84.3 326 83.2 329 84.3 332.5 83 335 83.7 338.9 86.5 339.6 89 339 91.8 335.5 95.7 332.7 101.5 334 102.2 337 101.5 340 102.7 343 102 350 106.5 352 106.7 354.5 105.6 357 106 360 105.3 366.5 107.4 369.5 105.5 374 104.8 378 100.1 383 100 383.3 99.5 382.2 97.5 380.5 96.3 378.9 97 377 99.3 374 100.8 370 101.1 366 102.5 362 102.2 357.7 99 355.7 93.5 356.8 87 355.7 80.5 355.6 76 354.7 72.5 355.5 70.2 358.1 66.5 358.4 61.5 360.5 60ZM416.4 96.5 412.5 98.5 409 99.1 401 96.9 397 97.5 396.7 98 400 99.5 403 100.1 406.5 102.3 410.5 102.6 415.5 102.2 420.5 100.6 424.3 97 421 97.5 418 96.4 416.5 96.5ZM389.8 97.5 387.2 99.5 389.5 99.5 392.2 98 391.5 97.4 390 97.4ZM306 98.5 303.4 99.5 302.5 101.5 304.3 105 305.2 109.5 305.1 110.5 303.8 112 304 112.5 309 114.3 311.5 117.5 313 121.8 318.6 124.5 323.1 131 326.5 132.1 328.5 132 330 131.3 332.6 129 336 127.7 338.5 126.1 344.5 126 346.9 125 347.1 123.5 345.5 121.9 344 121.7 340 122.6 339 122.1 334 110 334.5 108.8 336.5 107.9 345.5 107.5 346.5 106.5 345.5 105.3 343.5 104.6 339 104.8 336.5 103.9 333 104.2 330.9 105 328 108.2 325 108.4 323.5 107.6 322 104.8 320.3 104 318 100.9 309.5 98.3 306 98.5ZM348 108 342 108.9 337.5 109 335.7 110 336.4 113.5 339 119.7 340 120.9 342 121.1 350 118.7 363 120 364.9 119 367 114.5 366.9 112.5 366 111 358.5 109.4 354.2 110 350.5 107.8 348 108ZM404.9 108 402 111 400.5 111.1 398 110.2 395 110.4 391 111.4 388.5 113 385.5 117.1 385.4 118.5 386.3 121.5 394 128.6 399 128.2 401 128.8 403 130.2 405.5 130.7 411 129.1 415.5 130.7 419 129 423.2 124 422.7 121.5 424.7 117.5 424.4 115.5 422.5 114.7 419.5 115.6 416.5 113.7 413 113.5 411 112.2 409.5 109.7 407 109 405.5 107.6 405 107.8ZM142.5 107.5 144.1 108.5 146.4 114 146.9 117 148 118.3 157 120.3 164.5 119.9 166.3 120.5 166.8 121.5 166.7 125.5 165 133.7 160 135.3 154.5 134.4 151 133.1 145.5 133.6 141 131.9 137.5 129.7 135.9 121 133.6 114.5 139 112.3 140.9 110.5 142.5 107.5ZM142.5 110.5 135.6 115.5 138.1 121 138.4 124.5 140.2 129.5 145.5 131.8 151 131.4 160.5 133.5 163.8 132.5 164.6 129 164.5 121.5 157 121.8 148 119.4 146 117.5 145.1 114 143 110.1 142.5 110.4ZM82 109.5 83.5 109.9 92.5 115.7 99 114.8 106.5 109.3 112.5 109.8 116.5 111.7 117.6 113.5 117.1 117 118 119.3 121 120.4 131.8 127.5 133.6 135.5 135.7 140 135.4 144.5 136.7 148.5 135.5 152.9 134.5 152.4 132.9 150 130 148 122.6 146.5 117 143.4 110.5 143.3 105.5 140.7 103.2 134.5 96.2 125.5 91 123.9 85.5 120.6 85.3 115.5 82 111.5 81.5 110 81.9 109.5ZM105.7 111.5 103 114.4 100.9 115.5 99 117.3 96.5 118.3 95.5 121 95.9 122 97.8 123.5 101 128.6 104 131.7 105 132.2 108.5 132.2 112.6 130.5 114.1 124.5 113.2 120 115.5 115.6 115.8 114 115 112.7 112.5 111.5 107.5 111 106 111.4ZM7 126.4 10 126.6 18.5 130.5 20.5 130.3 23.5 129.1 25.5 129.3 29.6 131.5 31.5 133.2 38.5 134.9 50.7 141 52.6 143 52.9 144.5 51.7 147 48.4 150.5 49.7 154.5 49.4 156 47.5 156.7 38.5 156.1 34.5 157 29 156.9 23.5 157.5 14 155 9.4 151.5 7 147.2 2 147.4 1.4 146.5 1.3 144 0 142.6 0 137.8 8.5 138.7 10.6 135.5 11.3 131.5 8.5 128.7 6.5 128.7 3 130.5 1 130.9 0 131 0 129 6.7 126.5ZM20.7 140 16.5 140.4 14 142.2 11 141.4 10.2 142 9.6 144.5 10 146.5 12.5 149.7 15 151.6 16.5 151.8 20 150.9 23.9 145.5 24.3 143.5 23.6 140.5 22.5 139.6 21 139.9ZM143 157.8 144.3 158.5 144.2 160 142.6 159.5 142.7 158ZM406.5 162.9 409 164 409.3 165.5 408 165.9 407 165.5 406.3 164 406.4 163ZM160.5 192.4 163.5 192.1 168 193.3 169.8 194.5 170 196.5 167 202.5 163.5 203.8 160 203.9 154.5 200 154.3 198.5 156.2 197 157.2 194 160.1 192.5ZM292 212.5 292.6 213.5 291.5 215 290.6 214 291.6 212.5Z"/>
<path fill="#fce0d0" fill-rule="evenodd" d="M109.5 0 152.3 0 153.5 2.2 158.5 4.3 171 3.4 172.5 2.5 174.7 0 219.3 0 220 2 221.5 2.9 225.5 1.8 226.5 0 245.2 0 246.1 4 249 6.5 250.5 6.9 254 5.6 257 6.1 263 4.8 264.2 3.5 265.1 0 283 0 283.5 2.2 285 3.4 290 4.1 293.5 3.5 301.5 3.5 304.5 4.1 307.5 5.7 313.5 5 317.4 1 317.8 0 325.7 0 326.5 1.4 327.5 0 336.3 0 338 3.4 344.5 6.4 347 8.8 348 8.9 349.5 7.5 350.5 7.4 357 11.3 360.5 12.3 364 17.2 369.5 19.7 374.5 24.1 378 30.4 379.5 30.6 381.6 29.5 382.8 26 384.5 24.9 386.5 25.5 389 27.5 391 26.1 394 27.7 398.5 27.1 399.5 27.7 401.5 30.7 406.5 32.1 408.6 34 412.5 35.3 415.5 38.8 428.5 44.4 428.5 62.8 424.5 61.6 420.5 61.8 418.5 62.5 415 65.1 404 64.8 397.5 64 395.8 63 393 59.9 388.9 59 384.5 57.2 380.5 57.8 372.5 61.8 370.5 61.4 364.5 58.1 360.5 58.2 358 59.5 357.2 60.5 356.6 66.5 353.5 72 353.3 74 354.1 80.5 353.7 83 350.5 86.2 348 86.7 343.5 85.7 340.5 82.3 337 80.5 333 80.2 329.5 81.3 327 79.7 324.5 79.1 322 77.8 319 77.5 316.3 76.5 314.5 75.5 313.8 74.5 313.8 72.5 314.5 70.5 313.5 69.7 312.8 70 311.6 72.5 306 76.8 304.5 76.9 301.5 75.3 300.5 75.5 298 82 295 83.4 293 83.3 291.3 82 289.5 76.9 286 75.8 284.9 75 284.5 69.2 287.4 67 282.6 62.5 277 59.9 270 59 266 62.3 262 62.8 261 62.2 260.2 60 257.7 57.5 260 55.2 263 56.5 267.5 55 270 55.5 272.5 55.1 278.5 56.4 279.6 55 278.5 50 279.5 48.5 281 48.2 283.5 49.1 287.5 49.3 292 47.3 298 49.7 300.7 50 303.5 48.9 306.5 45.5 308 44.6 309.1 45 312 48.5 317.5 50.4 322.5 51.3 324 52.5 324.5 54 330.1 51.5 330.4 50 329.7 47 331.3 43.5 330.5 41.5 325.5 41.4 321.5 40.6 315 37 310 37.2 306.5 39.5 302 38.9 297.5 42.5 290.6 42 287.5 44.4 286 44.9 281 43.6 274 39.6 267.5 39.6 262.5 40.7 259 42.8 255.9 43.5 254.9 44.5 253.7 47.5 254.8 52 254.7 55.5 255.5 57.5 250 61.4 248.5 61.9 246.5 61.4 242 58.7 236 56.5 226 54 217 57.7 211 62 209 62.2 208 61 209.1 58 208.5 53.5 206 53.7 203.5 55.1 196.5 56.7 190.5 53.4 186.5 53.6 182 51.7 178.5 51.1 175.5 51.2 174 48.4 171.5 45.4 170 44.5 159.5 42.7 155 42.6 153.5 43.1 152.5 44.2 152.3 45.5 153 47.3 155 48.8 158.4 50 159.2 52 161.3 53 162 54 161.7 55 160 57 158.5 60.9 155 60.9 152 61.8 144.5 62 142 61.1 138.5 62 135.5 61 131.5 63.5 129.4 66.5 126 67.9 119 73.7 117.5 74.2 115 73.8 111.5 75.6 110 75.2 104.5 71.4 99.5 69.8 97 69.7 93.5 71 92 70.6 89 67.5 86.4 61.5 85.5 60.7 82 60.1 79 57.8 66.2 55 63 53.2 55.5 53.3 53 54.2 50.5 54.1 48 54.9 45 53.5 43.5 53.4 35.5 56 33 58.2 26 54.2 20 52.5 16.5 53.2 14.9 52 14.6 50.5 15 49 18 46.8 22.5 45.2 27.5 45.7 31.5 42.9 33.8 39 33.8 36 36.5 33.3 39 32.6 42 32.8 46.5 31 47.3 27.5 49 25.9 54 22.5 57.5 23.3 58.1 20.5 60.6 18.5 62 15.5 71 9 80 10.4 88.5 10.1 94 6.5 96.5 5.5 99 3.4 102 2.4 108 2.1 109.2 0ZM184.3 2 178.5 4.4 175.7 7 171.5 7.6 167.9 13 167.5 15 168.5 17.4 173.6 20.5 173.6 24 175 26.7 183.5 26.3 187 24.8 191 21.8 195 21 198.7 17 198.9 13.5 200 10.5 198.8 7.5 192.6 3.5 184.5 2ZM291.4 18 288 18.8 284 21.7 280.5 19.8 275 18.5 270.5 19.7 267 19.6 259.5 20.9 251 24.4 246.6 23 245 21.3 243.5 20.6 238.8 21 238.1 22 238.2 23.5 239.9 27 241.2 36 240 39.5 240.2 46 241.5 47.1 242.5 47.2 246.5 44.4 253 41.6 258.5 41.3 263 38.7 266 38.1 276.5 38.2 282.5 41.6 287 41.3 291 39.6 297 40 304 34.3 307 33.1 311 33.8 316.5 33 317.6 33.5 319.1 35.5 321 36.2 325.5 35.6 328.5 36.1 332.5 36 336 36.8 338.3 34 338.3 31.5 339 30.4 341 30.1 345.5 31.1 349.5 31 352.5 30 353 29.3 352.6 27 351 24.7 350.7 22.5 349.5 21.4 348.5 21.4 346.5 23.8 345 24.1 333 20.3 329.5 20.8 325.5 19.8 322.5 20.6 319 19.9 315.5 20.6 311.5 19.6 308.8 21.5 309.6 25 306.7 27.5 305.5 30.1 300 33.1 297.5 33.6 296 32.6 293.7 29.5 293.9 25 296 21.3 299.5 20.5 299.7 20 298.5 19.1 294.5 18 291.5 18ZM225 19.5 225 21 226.1 21.5 226.5 19.9 226 19.4 225 19.5ZM50.7 27 49.1 28 49.3 29.5 52 31.4 54.3 31.5 54.9 30 54.6 28.5 53 27.2 51 26.9ZM226 30 226.3 31.5 227.5 32 228.2 31 226.5 29.6ZM392.9 31.5 381 35.9 378.4 40.5 378.5 46.5 381.5 50.5 382.2 52.5 384 53.6 387 54.1 389 55.1 392 53.7 396.5 56 402.5 56.6 405.8 52.5 406.9 48.5 407.1 44.5 405.8 39.5 404.7 37.5 400.5 33.4 394.5 31 393 31.4ZM136.2 33 135 34.3 131 34.1 128 35.8 126 36.2 123.4 39 117.1 40.5 116.2 43.5 116.8 47.5 123 49.3 128 48.5 130.5 49.1 133 48.1 137 48 141 46.3 148.9 45 155.1 39.5 154.5 38.6 148 37.4 145 35.2 136.5 32.7ZM353.2 37.5 350.4 40.5 350.1 41.5 350.5 42 352.5 41.9 355.7 39.5 355.8 38.5 355.2 37.5 353.5 37.3ZM104.9 39 97.6 43 95.8 45.5 95.3 49.5 94.2 53 95.5 56 97 57.4 98.5 57 102.5 51.3 103.5 51.1 105 52 106 51.4 110 46.5 110.1 44.5 107.5 39.9 106.5 38.9 105 39ZM306.8 48 304.5 51.1 301 51.8 297.5 51.7 292 49.5 287 51.4 281.5 50.9 281.6 57.5 283.5 60.3 291 65.7 294 65.1 304 65.6 310.5 64.2 312.5 64.8 315 67.2 317.5 67.3 318.6 65.5 318.8 60.5 320.5 55.6 320.5 53.6 319 52.9 315.5 52.9 309.3 48.5 307 47.9ZM75.9 48.5 74.4 49.5 75 51.1 76 51 77 50 77 48.9 76 48.5ZM89.4 56.5 88.6 58 89 59 90.5 59.8 92.3 59.5 92.7 58.5 92 57 91 56.2 89.5 56.4ZM130.5 57 128.9 57.5 130 59 131 59.4 132 58.9 132.7 57.5 132 56.7 131 56.8ZM333 58 332.9 60 334.5 60.3 334.9 59.5 334.5 58.5 333 58ZM352.2 60 341 63.1 336.5 65.7 334.1 68 334.3 70 336 72.6 339.5 74.9 342.8 78 345 81.4 346.5 82.3 348 82.4 349.2 81.5 351.3 76.5 351.3 72 355.1 66 355.2 60.5 354 59.6 352.5 59.8ZM378 21.9 379 21.6 379.6 22 379.7 23.5 379 24.2 377.4 23.5 377.9 22ZM326.5 25 327.5 24.8 328.4 25.5 328.9 26.5 328.5 27.5 327.5 27.7 326.5 27 326.1 26 326.5 25ZM139.5 89.4 141.7 89.5 149.5 91.5 150.9 92.5 151.8 95 152.5 95.5 158 95.3 162.5 97.4 170.7 99 173.5 101.3 177.5 101 181 104.3 182 104.6 186.5 103.5 189.7 100 192.9 98 197.5 96.4 199 96.4 200.2 97.5 201.6 102 205.5 105.7 209 104 213.5 100.2 214.1 98 213.6 94 214.5 92.7 222.5 92.7 225.5 93.2 227.7 94.5 228.6 96.5 228.5 100.5 226.7 107 227.7 110 227.9 117 229.3 120 227.4 121.5 224 122.1 218.5 119.6 212 119.5 208.5 118.8 205.5 121.2 202 122.6 198 122.4 195 123.4 187.5 123.7 186.9 124 187.5 125.1 191.5 126.8 195 127 199.5 130 200.6 133 200.2 135 196.5 139.3 194.5 140.4 188.5 140.9 186 139.1 184.5 138.8 176.5 140.9 172 137.5 168 136 167.3 135 166.8 131.5 167.4 129.5 169.3 126.5 169.4 123 170.1 122 172 122 176 124.4 179.5 125.6 181 125.5 182.3 124.5 182.4 124 176 120.4 170.5 118.7 168 119.1 161.5 118.6 157 119.1 149 117.4 148.2 116.5 147.8 114 143.5 104.7 141.2 107 139.7 110.5 136.5 112.5 128 113.6 119.5 110.9 118.4 110 116.2 103 116.6 101.5 120.1 96 117.6 92.5 118 90.9 120 89.7 123 91.6 130 90.7 136 90.9 139.3 89.5ZM215.4 94 215.2 99.5 213 104.5 212.8 106.5 214.5 109.4 219 111.4 223.3 107 224.5 102.9 226.8 101 227.4 99 227.2 96.5 226.2 95 223 93.7 215.5 94ZM128.9 95 124 97.5 121.5 97.7 119.8 99 118 103.5 119.7 108 120.5 108.9 123 109.4 127.5 111.5 136.9 111 138.5 108.9 139.5 106 139.4 104.5 134.5 99.3 132.6 96.5 129 95ZM159.2 101 158 101.7 155.1 107 154.5 109 154.8 111.5 156.5 113.9 160 114.8 163.4 116.5 167 117 171.5 116.7 178.5 119.2 182.5 118 185 120.8 187.5 121.4 190.1 121 193.5 119.5 197.5 118.8 200 120.1 201.5 120.2 203.5 119.3 204.9 117.5 204.9 116 203.5 115.2 201.5 115 198.5 115.9 195.5 114.4 192.5 115.6 184.5 112 182.5 109.5 177 105.3 171 103.8 167.5 102.4 162 102 159.5 101ZM76.5 93.5 78.5 93.3 82.2 94.5 83.2 95.5 84.5 99.2 89 102.1 92 102.9 96 105.1 101 105.2 102 105.7 102.8 107 103 109 102.2 110.5 100 112.5 97.5 113.6 92.5 113.2 90 111.2 86.5 109.9 83 107.1 80 106.9 79.3 107.5 79.8 111.5 84 116.5 83.2 120 83.6 121.5 90.5 125.7 95 126.9 102.5 136.4 103 139.5 101.4 144.5 95.5 148.7 81.5 152.4 73 152.5 71 151.6 63.5 145.7 61 144.6 59 144.7 58.9 142.5 58 141.3 54 141.4 51.5 139.4 46.5 137.8 40 133.5 33.5 131.9 30.5 129.5 26 127.7 23.5 127.3 20.5 128.7 18.5 128.9 15.5 127.3 13 126.8 10.5 125.1 9 124.9 5 125.3 0 127.1 0 114.7 2.1 113.5 2.4 106.5 3.3 104.5 4.5 103.4 7 103 12 103.6 17 100 27 103.1 36 103.4 37.5 102.8 38.1 100.5 39.6 99 45 97.5 48.5 97.6 53 96 54.5 96.4 57 99.1 59 99.9 61 100.3 65.5 99.7 68 99.2 72.5 97.1 74.2 94.5 76.5 93.5ZM29.5 107.5 28.8 108.5 29.2 112 27 115.3 20.5 115.8 18.8 117 18.6 119 20 121.6 21.5 122.2 26 122.4 31 121.5 34 122.5 38.5 122.9 42 121.9 47.8 119 47.8 117.5 46.5 116.2 44.5 115.3 40 114.8 38.3 112 33 109.4 31 107.3 30 107.2ZM62.4 135.5 61.3 136 60.7 137.5 61.2 140 62.8 142.5 70.5 149.1 72 149.8 73.4 149.5 75.9 145 74.2 142 74.2 138 69 135.1 62.5 135.5ZM275.5 108.9 277 108.6 280.5 110 284.5 108.7 287 109.4 287.7 111 286.9 114.5 287 116.5 288 118 290.5 119.9 298 120.5 302.5 118.7 304 119.2 309.9 128 313.7 136.5 315.5 138.4 320.6 141.5 320.9 144.5 322.2 148 320.3 152 319.5 152.4 317 151.7 313.5 154 306.5 153.1 303.5 155.1 299.5 154.5 292.5 154.6 289 152.8 287 153.1 284.5 152.3 281.5 152.6 273 150.6 270 148.3 267.5 147.2 259.5 146.6 258.5 146.1 256 143.5 254.3 140.5 254.1 136.5 251 129.5 251 128 253 126 256.5 124.9 257.4 124 259 114 260.5 111.4 262 110.7 267.5 110.4 271 109.1 275.3 109ZM269.8 111.5 262.5 112.5 263.2 115.5 263.2 118.5 262.5 122.3 260.7 124 260.8 125.5 261.5 126.7 267 129.5 269 132.2 273.5 134.8 276 135.3 281 134.7 287.5 134.9 293.1 138 299 144.3 300.5 144.3 302.8 143 303.6 139 305.6 137 306.1 135.5 304 128.2 303 126.5 297 124.4 287.5 123.7 278.7 117 276.5 112.3 270 111.5ZM344 109.5 349.5 109.2 354.5 111.2 360 110.8 365 112.3 365.5 113 365.6 114.5 364 117.7 363 118.5 350 117.6 341 120.2 339.6 119 336.6 111 338 109.7 343.8 109.5ZM338.6 110.5 337.8 111 337.7 112.5 340.5 118.1 341.5 118.8 350 116.6 362 117.1 363 116.5 364.2 114.5 363.5 113.1 359.5 111.7 355 112.8 349 110.3 346 110.2 342.5 110.8 339 110.4ZM139 135.2 146.5 137 148.5 139.1 146.2 153.5 145.5 154.5 143.5 154.2 139 152.2 138.5 151.5 138.4 147.5 136.9 144 137.6 139.5 137.4 137 138.6 135.5ZM308.5 157.9 317 158.4 321 159.8 322.1 161.5 322.2 164.5 323 165.2 332.5 161.2 334 161.1 338.2 163 340 166 343 161.6 348.5 160.9 351.4 162 354.5 164.2 361 166.2 364.5 165.1 374 159.1 382.5 162.1 387 161 393 161.3 397 163.8 399.5 163.5 403.7 165.5 405.1 169 404 171.5 404.9 177 406.7 179.5 408.9 185.5 407.4 196.5 405.5 199.2 403.5 200.2 400 199.9 392.5 197.2 385 199.8 382.5 199.5 379.5 197.8 375.5 197.8 372.5 195.4 367.5 194.3 364.5 192.7 358.5 193.3 353 195.2 349.6 194.5 347.5 193 345.5 192.9 343.5 193.5 342.6 195 344 196.3 347.7 196.5 348.8 199.5 348 200.6 346.5 201 343.5 200.1 341 200.1 337.5 198.5 333 200.5 327 205.3 320 204.5 316.5 200.9 313.5 200.2 310.5 201.9 307.5 201.2 302 201.7 298.5 201.1 296 203.9 294 204.7 288 204.2 284.5 204.9 272.5 204.7 268.5 205.7 265.5 205.5 261 206.5 259.9 206 259.2 204.5 259.4 203 261.3 200.5 260.6 196.5 262 195.5 265 195.6 266.4 195 264.2 192.5 260 191.5 259.6 191 260.3 189 262.1 186.5 261.8 185 258.5 182.5 257.5 179.2 253.5 179.7 250 176.1 248 175.4 245 175.3 242.5 173 233 176.5 228 175.4 216 176.9 213.3 182 213.3 184 214.5 187 217.5 189 218.2 191 210 195.9 205.5 193.8 199.5 196.3 194.5 193.5 188.5 195.5 186.5 196.9 181.5 197.5 177 193.1 173.5 193.9 170.7 192.5 163 190.3 155.5 192.3 150.5 191.2 147.5 192.8 144 192 140.5 192.9 136.5 191.6 134 192.3 130 191.8 128 192.5 124 196 120.5 196.2 116.5 198.1 110.2 194 108.5 191 108.2 188 107.5 187.1 104.5 189.7 100.5 191.3 98 191.2 95 189.7 92 189.3 85 191.1 80.5 190.1 78.2 185 76.5 183.4 73.5 182.3 70 182.3 60 177.7 54.5 178.3 49.5 179.6 46.5 179.2 43.5 176.9 42 176.4 39 177 36 176.8 33.5 178.8 30.5 178.3 29 174.8 25.9 173 24.5 169.5 21.8 166.5 21.3 164 19.7 162 22.2 160.5 27 159.7 31.5 159.6 35 161 40.5 159.7 49.5 161.7 54.5 161.8 58 163.1 62 161.4 66 162 69.5 161.1 74 164.1 75.5 164.5 81.5 162.3 85.5 160 87 160.5 90.5 163.7 91.5 163.6 93.5 162.1 96 163.1 101 163.8 103.5 160.7 110 159.8 112.5 160.7 115.5 160.8 122.5 164.7 124 165 129 164.1 132 160.6 137 159.8 138.5 160.5 139.5 162 145 163.1 147.5 165.2 154.5 168.4 157.5 167.8 160.5 165.4 165 164 168 164.4 171 165.7 173 165.7 176.5 167.2 181.5 168 185.5 166.9 191 164.6 195 165.6 197.5 165.3 199 164.5 200.5 162.8 204 161.7 209 163.7 214 164.2 216.5 163.5 220 163.8 225 162.4 228.5 162.8 233.5 161.1 236.5 161.6 239.5 161.2 243 162.3 246.5 160.3 250.5 162 260 160.9 266.5 165.9 268 166.2 271.5 165.8 274 164.8 277.5 165 280 163.6 282 161.7 285 161.4 287.5 159.9 289.5 160.2 292 162.2 296.5 162.2 300.5 160.9 303 158.9 306 159.2 308.4 158ZM255.5 165.5 252.3 166 251.7 166.5 251.8 167.5 255.1 172.5 260 176.6 265.5 176.1 268 177.8 272.5 178.6 275.6 176 275.7 175 275 173.8 271 172 266.5 168.9 265 168.9 262 170.6 260 170.5 258.8 169.5 259 165.9 258 165.2 255.5 165.5ZM97.4 167.5 95 169.1 91.5 168.6 89.9 170 90 174.5 91.5 176.6 94.9 178.5 97 181 99.5 182.2 103.5 181.8 107 183.4 111 181.8 112.5 180.5 113.2 178.5 112.3 176 112.3 172.5 111 170.2 109.5 169.6 102.5 168.8 99.5 167.2 97.5 167.4ZM50.4 169 49.6 170 50 170.4 51.5 170.5 52.2 170 51.5 168.8 50.5 168.9ZM192.3 172.5 191.8 173.5 192 174.4 193.5 175 194.2 174 194 172.5 193.5 172.1 192.5 172.3ZM320.3 191 319.8 191.5 320 194 319.1 197 319.9 198 321.5 198.2 322.8 197.5 324.4 193.5 323.1 192 320.5 190.9ZM334.2 191 326.2 193.5 329.5 194.6 331.5 196.1 334 194.7 337 195 338 194.5 338.1 193.5 337.4 192.5 336 191.4 334.5 191ZM253.5 187.9 255 188.1 255.9 190 255.5 190.9 254 191.1 252.5 190.5 252.1 189 253.2 188Z"/>
<path fill="#f7b799" fill-rule="evenodd" d="M291.5 18 294.5 18 298.5 19.1 299.7 20 299.5 20.5 296 21.3 293.9 25 293.7 29.5 296 32.6 297.5 33.6 300 33.1 305.5 30.1 306.7 27.5 309.6 25 308.8 21.5 311.5 19.6 315.5 20.6 319 19.9 322.5 20.6 325.5 19.8 329.5 20.8 333 20.3 345 24.1 346.5 23.8 348.5 21.4 349.5 21.4 350.7 22.5 351 24.7 352.6 27 353 29.3 352.5 30 349.5 31 345.5 31.1 341 30.1 339 30.4 338.3 31.5 338.3 34 336 36.8 332.5 36 328.5 36.1 325.5 35.6 321 36.2 319.1 35.5 317.6 33.5 316.5 33 311 33.8 307 33.1 304 34.3 297 40 291 39.6 287 41.3 282.5 41.6 276.5 38.2 266 38.1 263 38.7 258.5 41.3 253 41.6 246.5 44.4 242.5 47.2 241.5 47.1 240.2 46 240 39.5 241.2 36 239.9 27 238.2 23.5 238.1 22 238.8 21 243.5 20.6 245 21.3 246.6 23 251 24.4 259.5 20.9 267 19.6 270.5 19.7 275 18.5 280.5 19.8 284 21.7 288 18.8 291.4 18ZM326.5 25 326.1 26 326.5 27 327.5 27.7 328.5 27.5 328.9 26.5 328.4 25.5 327.5 24.8 326.5 25ZM225 19.5 226 19.4 226.5 19.9 226.1 21.5 225 21 225 19.5ZM51 26.9 53 27.2 54.6 28.5 54.9 30 54.3 31.5 52 31.4 49.3 29.5 49.1 28 50.7 27ZM136.5 32.7 145 35.2 148 37.4 154.5 38.6 155.1 39.5 148.9 45 141 46.3 137 48 133 48.1 130.5 49.1 128 48.5 123 49.3 116.8 47.5 116.2 43.5 117.1 40.5 123.4 39 126 36.2 128 35.8 131 34.1 135 34.3 136.2 33ZM353.5 37.3 355.2 37.5 355.8 38.5 355.7 39.5 352.5 41.9 350.5 42 350.1 41.5 350.4 40.5 353.2 37.5ZM307 47.9 309.3 48.5 315.5 52.9 319 52.9 320.5 53.6 320.5 55.6 318.8 60.5 318.6 65.5 317.5 67.3 315 67.2 312.5 64.8 310.5 64.2 304 65.6 294 65.1 291 65.7 283.5 60.3 281.6 57.5 281.5 50.9 287 51.4 292 49.5 297.5 51.7 301 51.8 304.5 51.1 306.8 48ZM290.9 51.5 287.9 53.5 287.2 55 290 59.9 293 60.2 296 59.1 299 59 299.5 58.5 299.2 57.5 297.5 56.3 296.4 54.5 294 52.3 292.5 51.5 291 51.5ZM76 48.5 77 48.9 77 50 76 51 75 51.1 74.4 49.5 75.9 48.5ZM89.5 56.4 91 56.2 92 57 92.7 58.5 92.3 59.5 90.5 59.8 89 59 88.6 58 89.4 56.5ZM131 56.8 132 56.7 132.7 57.5 132 58.9 131 59.4 130 59 128.9 57.5 130.5 57ZM333 58 334.5 58.5 334.9 59.5 334.5 60.3 332.9 60 333 58ZM352.5 59.8 354 59.6 355.2 60.5 355.1 66 351.3 72 351.3 76.5 349.2 81.5 348 82.4 346.5 82.3 345 81.4 342.8 78 339.5 74.9 336 72.6 334.3 70 334.1 68 336.5 65.7 341 63.1 352.2 60ZM215.5 94 223 93.7 226.2 95 227.2 96.5 227.4 99 226.8 101 224.5 102.9 223.3 107 219 111.4 214.5 109.4 212.8 106.5 213 104.5 215.2 99.5 215.4 94ZM218.7 99.5 217.7 101 217.8 103 219.5 105.5 221 105.6 222 104.5 222 103 220.2 99.5 219 99.3ZM129 95 132.6 96.5 134.5 99.3 139.4 104.5 139.5 106 138.5 108.9 136.9 111 127.5 111.5 123 109.4 120.5 108.9 119.7 108 118 103.5 119.8 99 121.5 97.7 124 97.5 128.9 95ZM159.5 101 162 102 167.5 102.4 171 103.8 177 105.3 182.5 109.5 184.5 112 192.5 115.6 195.5 114.4 198.5 115.9 201.5 115 203.5 115.2 204.9 116 204.9 117.5 203.5 119.3 201.5 120.2 200 120.1 197.5 118.8 193.5 119.5 190.1 121 187.5 121.4 185 120.8 182.5 118 178.5 119.2 171.5 116.7 167 117 163.4 116.5 160 114.8 156.5 113.9 154.8 111.5 154.5 109 155.1 107 158 101.7 159.2 101ZM162.6 104.5 157.9 106 156.7 108.5 157 110.3 165 108.7 167.4 107 167.4 105.5 166.5 104.6 165 104.1 163 104.4ZM30 107.2 31 107.3 33 109.4 38.3 112 40 114.8 44.5 115.3 46.5 116.2 47.8 117.5 47.8 119 42 121.9 38.5 122.9 34 122.5 31 121.5 26 122.4 21.5 122.2 20 121.6 18.6 119 18.8 117 20.5 115.8 27 115.3 29.2 112 28.8 108.5 29.5 107.5ZM339 110.4 342.5 110.8 346 110.2 349 110.3 355 112.8 359.5 111.7 363.5 113.1 364.2 114.5 363 116.5 362 117.1 350 116.6 341.5 118.8 340.5 118.1 337.7 112.5 337.8 111 338.6 110.5ZM270 111.5 276.5 112.3 278.7 117 287.5 123.7 297 124.4 303 126.5 304 128.2 306.1 135.5 305.6 137 303.6 139 302.8 143 300.5 144.3 299 144.3 293.1 138 287.5 134.9 281 134.7 276 135.3 273.5 134.8 269 132.2 267 129.5 261.5 126.7 260.8 125.5 260.7 124 262.5 122.3 263.2 118.5 263.2 115.5 262.5 112.5 269.8 111.5ZM62.5 135.5 69 135.1 74.2 138 74.2 142 75.9 145 73.4 149.5 72 149.8 70.5 149.1 62.8 142.5 61.2 140 60.7 137.5 61.3 136 62.4 135.5ZM192.5 172.3 193.5 172.1 194 172.5 194.2 174 193.5 175 192 174.4 191.8 173.5 192.3 172.5Z"/>
<path fill="#e58368" fill-rule="evenodd" d="M291 51.5 292.5 51.5 294 52.3 296.4 54.5 297.5 56.3 299.2 57.5 299.5 58.5 299 59 296 59.1 293 60.2 290 59.9 287.2 55 287.9 53.5 290.9 51.5ZM219 99.3 220.2 99.5 222 103 222 104.5 221 105.6 219.5 105.5 217.8 103 217.7 101 218.7 99.5ZM163 104.4 165 104.1 166.5 104.6 167.4 105.5 167.4 107 165 108.7 157 110.3 156.7 108.5 157.9 106 162.6 104.5Z"/>
<path d="M63.2 22.1 68.8 20.9 70.1 21.2 69.8 20.2 68.9 18.9 74.4 17.2 82.1 15.5 85.4 16.1 88 16.7 93.1 17.3 96.4 18.1 99.8 17.4 103.8 17 106.6 17.6 110.4 17.2 114.3 18.3 117.8 19.3 123 19.3 128.1 19.5 131.4 18.7 134.1 17 136.6 18.1 139.2 18.7 141.3 17.6 142.3 19.3 141.5 21 137.4 21.2 135 23.4 131.7 24.2 126.5 27 123.8 29.4 124.4 30.7 126.1 32.5 129.2 34.8 131.9 35.7 131.1 37.9 132.7 39.8 134.1 38.3 135.3 35.6 138.5 33.2 139.8 30.7 140.1 28.2 141.7 26 145.3 26 147.3 27.3 147.4 30 148.9 30.9 152.4 28.4 153 31.3 153.7 33.2 154.4 35.1 156.4 36.3 157.2 38.5 155.4 39.8 151.6 41.2 148 41.2 145 42.6 142 43.5 139.8 45.4 141.9 43.9 145.9 42.8 146.9 43.5 145.9 44.4 145.8 45.4 146.4 46.2 148.7 47.2 150.3 46 150.3 47 148.4 48.1 146.1 48.7 143.3 49.9 144 48.6 145.4 47.7 143.5 47.8 141.8 48.7 138.8 49.8 137.7 51.3 138 52.3 136.2 52.9 133.2 53.8 132.6 55.4 131.3 56.2 130.4 57.7 129.5 58.8 129.4 60.6 128.1 61.8 125.6 63.1 122.5 65.2 121.3 67.2 121.3 69.1 121.7 72.6 121 74.6 120.2 74.5 119.6 73.3 118.9 71.3 119.2 69.5 118.1 68 116.3 68.4 115.4 67.6 113.1 67.6 111.9 67.9 111.9 69.4 110.4 69.4 108.3 68.7 106.6 68.6 104.6 69.8 102.5 71.1 101.4 73.6 100.7 76.2 100.2 78.7 100.6 80.6 101.4 82.7 103.3 84.1 106.3 83.5 107.5 83.1 108.6 80.6 111.5 79.6 112.6 79.9 111.8 82.3 111 83.6 110.2 87 112.9 87.1 115.2 87.3 115.9 88.4 115.4 91.7 115 93.7 115.7 95.4 117.4 96.7 119.2 96 121 95.9 122.4 97.1 123.3 97 124.5 95.8 124.7 94.3 126.3 93.5 128.3 92.7 129.5 92 130 93.7 129.1 95.8 128.9 93.2 131 93.1 132.9 94.3 135.5 94.3 138.3 94.1 140 94.3 141.8 95.4 142.9 97.2 144.6 99.1 146.3 100.5 148.7 100.6 151.1 101.1 152.8 102.9 153.9 105.9 154.5 107.2 153.9 108.1 156.3 109.4 158.1 109.5 161.1 111.9 164.1 112.3 167 112.6 169.4 114.7 171.8 115.7 172.7 118.6 172.3 120.7 170.8 122.7 169.3 125.4 168 127.4 168.2 132.1 167.5 135.2 166.3 138.2 164.6 139.5 162.1 139.9 159.5 141.5 158 143.5 158.2 146.6 156.9 148.9 155.8 151.1 154.7 153 153.8 154.6 152.9 155.5 150.8 155.5 148.3 154.3 150 156.6 150.8 158.1 150.3 160 148.4 160.6 145.4 160.8 145.9 163 143.1 163.7 144.8 165 144.2 165.7 144.2 168.4 142.5 170.3 144.7 172.3 143.8 174.9 143 176.2 144.6 178.4 143.6 178.8 143.1 180.1 142.3 180.5 139.5 178.8 137.4 176.2 135 173 135 170.3 134.9 167 134.5 164.8 133 161.7 132.4 158.8 132.9 156.3 133.1 153 132.4 148.9 132.1 146.2 132.4 142.9 132.2 138.2 131.8 133.5 130.4 132.2 126.9 129.4 124.1 127.1 122.4 124 120.4 120 118.5 117.3 117.6 116 117.5 114.2 118.7 113 119.1 111.9 117.9 111 118.5 109.1 118.9 107.5 120.3 106.4 121.9 103.4 122.2 101.1 121.7 98.7 121 97.1 119.8 96.6 118.6 98.5 117.4 98.2 115.9 97.4 114.5 95.8 112.6 95.1 112.6 93.7 111.5 92 110.6 90.9 108.4 90.4 106.1 89.7 104.6 87.7 102.9 86.7 100.5 87.4 98.3 86.6 95.5 85.4 92.8 83.9 90.7 81.9 91.3 79.6 91 78 89.5 75.6 88.1 74.1 86.9 71.5 85.5 69.5 85.2 66.8 83.7 65.7 83.6 68.2 84.7 70.2 85.5 72.9 86 75.6 86.3 77.6 85.3 76.5 84.1 75.2 84.6 73.1 82.7 71.5 82.9 69.5 81.8 67.5 81.5 65.7 81.4 64.7 80.8 63.1 79.7 62.4 78.6 62 78.4 60.6 78.3 59.3 78.2 57.9 78.1 57 78.2 55 78 54.2 79.3 52.3 79.8 50.7 81.9 48.1 82.9 46.4 83.9 43.6 85 43.9 85.5 44.8 86.4 42.8 85.5 41.5 84.5 40.7 83.4 40.2 84.1 38.5 83.8 37 83.9 35.7 84 34.4 84.2 32.5 84.3 30.9 82.3 30.9 81.5 29.8 80.3 29.1 78.2 28.8 76.4 27.8 73.9 28.4 70.9 29.4 68.8 29.8 71.7 27.8 69.2 28.8 66.4 30 64.3 31.5 61 32.8 58 33.8 54.8 34.4 52.2 35.1 49.9 35.7 53.6 34.2 57 33.3 60.5 31.9 62.8 30.4 61 30.5 58.4 30.5 59.9 29.1 58.7 28.4 58.8 27.3 60.3 26 62.8 24.9 65.4 24.6 67.7 23.5 66 23.4 64.2 23.4 63.3 23 63.2 22.1M115.2 79.1 117.5 77.7 119.3 77.5 121 77.6 123.3 78.5 125.7 80.3 127.4 81.4 123.8 81.8 123.2 80.7 122 79.6 119.1 79.1 117.3 79.5 115.2 79.1M126.9 83.6 128.9 81.8 131.6 81.9 133.9 83.5 132 84.1 130.2 84.7 126.9 83.6M122.3 83.8 124.6 84.2 123.5 84.6 122.3 83.8M135.3 83.8 137.1 83.9 135.2 84.3 135.3 83.8M124.1 72.6 125.2 72.9 124.3 74.9 125.4 75.6 126 77.2 123.9 75.6 124.1 72.6M27.9 78.7 28.6 78.9 30.3 79.9 32.1 80.6 32.6 81.6 31.8 83 31.8 81.9 31 80.3 29.6 79.6 27.9 78.7M158.5 8.2 161.4 9.2 161.9 10.5 166.7 10.5 168 12.1 167.7 14.8 168.1 16.4 169 18.1 166.4 21 167 22.8 167.9 25.2 168.6 27 171.2 28.8 173.2 28.7 174.8 26.4 177.2 23.4 180.4 21.8 185.1 19.3 190.9 18.7 194.3 17 195.5 15.3 194.1 14.2 197.8 12.1 198.8 9.5 199.8 8.5 199.1 7 202.2 6.1 205.3 5.3 199.7 4.8 193 3.8 186 3.8 178.5 4.4 171.1 4.8 169.1 5.5 164.9 6.1 160.3 7 158.5 8.2M192.2 22.2 193.9 21.2 196.5 21.6 199.7 21 201 21.6 201.7 22.8 200.3 23.6 197.4 24.7 194.7 24.2 193.3 24 194.1 23.5 192.3 22.9 192.2 22.2M148.7 12.9 151.3 13.9 154 15.9 155.9 17 155.7 18.7 158.3 20.4 158.9 21.2 156.4 22.8 154.9 24.4 153.5 25.8 150.7 25.3 149 24.3 147.7 23.4 145.3 23.6 143.1 23.4 146.4 21 150 19.5 149.9 18.3 146.9 17.6 144.8 17 141.2 17.2 138.8 15.9 141.8 13.4 145.3 13.1 148.7 12.9M114.7 15.5 118.9 13.7 122 13.5 127 13.5 126.3 15.3 128.2 16.4 126.3 17.6 122.3 18.1 115.7 18.7 113.4 17.6 114.7 15.5M109.6 14.9 112.6 13.1 117.2 12.1 119.1 13.1 116 14.8 113.1 15.5 109.6 14.9M152.2 10 156.7 8.5 159.9 7.5 165.5 6.3 169.7 4.8 164.6 4.2 157.8 4 149.5 5 145.3 6.6 140.7 8.5 143.7 9.9 148 10.2 152.2 10M149.6 12 143 12.1 140.3 11.5 141.6 10 147.2 9.5 150.6 10 149.6 12M130.6 11 125.9 11.5 121 11 124 10 129.9 9.7 130.6 11M132.2 15.3 130.3 14.2 130.6 13.1 133.6 12.6 135 13.7 132.2 15.3M138.9 14.8 135.8 13.7 138.5 12.6 140.7 12.8 138.9 14.8M136.3 11.5 133.7 11 136.4 9.5 138.9 10 136.3 11.5M146.8 8.5 142 8 143.6 6.1 147.9 5.7 146.8 8.5M140.1 24.6 134.6 24 137.1 21.6 139.4 22.2 140.1 24.6M151.8 44.6 156 42 157.4 39.4 158.5 42.6 158.7 44.8 157.5 46 155.5 45.4 151.8 44.6M82.2 40.5 84.5 41.5 85.3 43.6 84 42.9 82.2 40.5M250.7 66.6 252.8 66.4 253.4 64.8 253.9 62.8 254.1 61.2 254 59.3 252.3 59 250.7 59.8 249 59.2 246.8 59.6 245.1 59 244.1 57.7 243.1 55.8 242.6 54.3 243.4 53.9 244.5 53.4 245.5 53.3M242.4 53.7 240.1 53.8 238.9 54.1 238.8 56.1 239.4 57.4 238.4 59.4 237.8 58.3 237.2 56.7 236.1 55.3 235.1 53.4 234.8 51.8 233.4 50.7 231.1 50.1 230 48.7 228.9 48.1 228.4 47 227 47.5 227.3 49.4 229.1 51.4 230.8 52.3 231.9 53.1 234.2 54.6 232.6 55.5 232.2 56.7 231.3 57.4 231.5 55.4 230.4 54.5 229.2 53.4 227 52.2 225.3 50.7 224.1 49 222.5 49.4 221 50.6 219.3 50.3 217.7 50.3 217.4 52.1 216.1 53.1 214.7 53.9 213.7 55.4 213.9 56.5 213.1 57.9 211.5 59.2 208.9 59.3 207.7 60.1 206.7 59 205.6 58.5 204.1 58.8 204.2 57 203.5 56.3 204.2 54.5 204.4 52.7 204 50.7 205.4 49.8 208.6 50.1 212 50.2 212.7 48.3 212.7 46.8 211.6 45.3 209.2 44.4 209.1 43.5 210.8 43.1 212.4 43.2 212 41.9 212.7 42.3 214.2 42.2 215.5 41.2 215.8 40.2 217.5 39.7 218.2 38.9 218.7 37.8 219.5 37.2 221 37 222.5 36.9 222.8 36 222.4 34.7 221.9 33.2 222.3 32.4 224.2 31.7 224 33 224.6 33.6 223.7 34.7 224.2 35.8 225.4 36.2 226.9 35.8 228.5 36.5 230.4 35.7 232.3 35.3 233.7 35.8 234.8 34.8 234.5 33.2 234.9 32 235.8 31.7 237 32.5 237.6 32 236.6 30.7 236.4 29.8 238.7 29.4 240.7 29.4 242.4 28.8 240.9 28.2 239 28.3 236.3 28.9 234.8 28.4 234 27 233.8 25.4 235 24.2 236.8 22.8 236.6 22.1 235.4 21.8 233.7 22.1 233.1 23 231.4 24.4 230.4 25.8 230.1 27.2 230.3 28.1 231.8 28.8 231.5 29.7 230.1 30.7 230 32.2 229.5 33.7 228.2 33.7 226.8 34.6 226.3 33.4 225.4 31.8 224.7 30.3 223.9 29.2 223.1 30 221.7 31.2 220.2 31.2 219.2 30.3 218.9 28.8 218.7 27.6 218.9 26.1 220 25.6 221.3 24.9 223.1 24 224.3 22.9 225.1 21.6 225.9 20.2 227 19 227.8 18.3 229.4 17.4 231 17 232.7 16.5 234.2 15.9 235.9 16 237.6 15.8 239 16.4 240.4 16.8 242.3 17.7 245 18 249 19.5 250.3 20.6 249.2 21.3 245.8 20.6 244.2 21.1 245.7 23.4 247.8 24.2 248.4 23.4 246.9 22.8 250.3 23.4 252.3 21.3 253.2 21 252.1 19 254.2 19.3 256.1 19.7 260.1 18.9 261.8 18.8 265.2 18.7 266.4 17.6 269 17.7 270.9 18 272.6 18.7 273.6 18.9 271.3 17.6 270.6 16.1 271.2 15 271 13.8 272.4 13.7 274.1 14.4 274.7 15.9 276 16.8 276.7 18.2 277.9 18.7 278.5 20.2 278.3 21.2 280 20.4 278.9 18.3 277.6 17.9 276.8 16.2 275.1 15.2 276.3 14.6 277.2 15.4 278.4 15.7 280.6 15.9 279.1 14.4 280.4 14 280 13.1 283.4 13.1 284.4 12.6 283.5 11.4 285.4 11 287.9 10.4 290.3 10.4 291.5 9.5 294.1 8.8 295.8 9.2 295.6 9.6 298.3 9.9 300.5 9.8 303.3 10.4 304.8 11.5 304 12.6 302.8 12.6 305.2 12.9 307 13 309.6 13.1 312.7 13.7 314.6 12.9 317.3 13.1 319.7 13.7 321.5 14.8 323 15.7 325.1 16 325.6 15.4 327.9 15.2 330.5 15.3 329.9 14.3 331.2 14 335.2 14.4 339.6 15.2 342.4 16 345.4 15.8 348.5 16.1 350.6 17 353 17.4 357.4 17.6 359 16.9 361.9 17.1 364.6 17.2 369.5 18.1M58.4 18.1 59.4 19.7 61 20.4 62 20.6 62.5 21.5 60.4 22.2 59 22.2 56.9 23.4 55.1 23.4 54.1 22.2 51.8 22.5M376.1 22.5 375.6 23.1 374.1 23 378.9 25.2 378.9 25.8 376.9 26.4 376.3 27 375.8 28.8 371.5 28.8 370.2 28.9 370.4 30 370.6 31.3 372.5 31.9 373.4 33.6 374.2 35.1 374.7 37 374.1 37.9 374.4 40.2 372.3 38.3 368.7 35.1 365.9 32.5 366 31.5 367.2 31.3 366.5 28.6 364.4 27.6 362.9 26.7 360.7 26.8 361.4 29.1 359.5 29.9 356.3 29.7 353.5 29.7 351 29.8 349.7 30.7 349.2 33.2 350 35.7 353.3 36.1 356 37.6 358.6 40.2 360.4 43.5 359.7 45.4 359.4 47.4 359 50.1 357.5 51 355.8 51 355.4 51.7 355.4 53.4 356 54.7 354.9 56.1 357.5 58.2 358.6 60.8 358 61.6 356 62.2 355.2 60.8 354.8 58.8 353.7 57.8 352.3 57.7 351.2 55.4 350.2 54.9 348.3 56.1 347 55.4 347.5 54.1 345.9 53.7 344.9 54.7 343.7 55.8 343.9 56.9 345.8 58.3 347.5 58.1 349.9 58.5 348.8 59.7 347.7 61.2 349.3 62.8 350.8 64.8 352.6 66.8 352.3 67.9 353.4 68.8 353.3 70.5 352.6 71.9 352.1 73.6 351.4 75.2 349.7 76.9 347.6 78 346.1 78.7 344.1 79.5 342.7 80 342.2 81.1 341.5 79.6 339.7 79.5 338.4 80.8 337.7 83 338.9 85 341.2 87.3 342.7 90.4 343 92.9 341.7 94.1 340 95.6 338.3 97 337.9 95.1 336.3 94.3 335 92.1 333.7 91.5 332.9 90.5 331.9 90.8 331.3 93.7 331.4 95.8 332.8 97.4 333.1 99.1 334.3 99.4 335.6 100.5 336.7 102.4 336.8 104.5 337.8 106.7 336.9 106.8 335.1 105.2 334 104.6 333.3 102.5 332.8 100.5 332.2 99.8 330.7 97.9 330.3 96.2 330.7 94.4 330.2 91.7 329.1 89 328.5 86.3 327.2 86.1 326 87.3 324.8 87 324.7 85 323.8 82.3 322.5 81.6 321.5 80.3 320.7 78.5 319.3 78.3 317.5 79.2 316.4 79.2 315.2 80.3 314.9 81.6 313.3 82.6 312.3 83.9 310.6 86.2 309.4 87.3 308.3 88 308.5 90.6 308.4 93.1 308.3 94.7 307.5 96 306.6 96.6 305.8 97.6 304.7 96.6 304.1 94.8 303 92.7 302.2 91.1 301.2 88.6 300.1 86.3 299.3 83.2 298.9 81 298.5 79.6 298.3 78.5 296.1 80.6 294.4 78.5 295.5 78 293.9 76.9 293 76.6 292.1 76.2 291.5 75 290.7 74.4 288.5 74.6 285.6 74.6 285.1 74.8 282.7 74.4 280.3 74 279.6 72.6 278.7 72.1 277.9 72.5 276.2 72.9 274.3 71.5 273.1 71 272 69.5 271 68 269.6 68 268.8 68.4 269.4 70.2 270.6 71.8 271.8 72.9 272.3 74.4 272.7 75.2 273 73.4 273.6 74.6 273.6 75.8 275.4 76 277.1 76 278.2 74.6 278.8 73.3 279.2 75 280.5 76.5 282 76.8 283.5 78.3 283 79.7 282.2 81 281.5 82.3 281.4 83.1 280.2 83.8 278.8 84.9 278.5 85.7 276.3 86.2 275.1 87 272.3 88.8 271.1 89.7 269.4 90.2 267.7 90.6 266.5 91.5 265.3 91.6 264.9 90.6 264.3 88.6 264 86.6 262.9 84.9 261.6 82.7 260.1 81 259.5 79.3 258.6 76.9 257.3 75.3 256.2 73.6 254.9 71.5 254.1 70.7 253.6 69.5M253.8 68.8 253.3 70.9 252.4 70.3 251.2 68.3 250.7 66.6M245.6 53.1 244.7 52.7 244.2 51.4 243.9 49.9 244.6 49 245.5 47.8 246.4 46.1 247.5 46 248.4 46.8 249.5 47.3 248.6 47.7 249.8 48.7 251.8 48.1 252.8 47.7 251.7 47.4 250.9 46.4 254.2 45.2 254.1 46.1 253.7 46.8 254.3 47.4 255.1 48.7 256.3 49.7 257.6 50.7 259 52.1 259.1 52.7 257.5 53.4 255.4 53.4 253.7 53 252.1 52.1 250.3 52.1 247.9 53.3 245.6 53.1M264.3 49.5 264.4 47.3 265.3 46.9 266.3 46.4 267.8 45.4 269.8 45.8 270.3 47.7 268.8 48.7 268.5 49.4 269.5 50.7 270.8 51.4 271.3 53 272.8 53.9 272.1 55 273.3 56.7 273.8 58.3 271.3 59 269.4 58.2 268.1 57.4 267.8 56.3 268.1 55 268.1 54.1 266.7 52.3 265.1 50.7 264.3 49.5M250.7 66.6 251 68.3 251.8 70.2 252.8 71.8 253.8 73.6 255.1 76 255.5 77.9 256.9 79.1 257.4 82.3 258 83.9 259.2 84.6 260 87 261 88.1 262.9 90 264.1 91.2 265.1 92.5 264.8 93.7 266.6 94.6 268.3 94.1 271.3 93.5 273.3 92.8 274.4 92.7 274.3 94.6 274 96.2 272.8 99.1 271.5 101.6 270 103.7 268 105.9 265.6 107.5 263.9 109.5 262.2 111.9 261.2 113.8 260.5 115.5 260 117.3 260.6 118.9 260.7 121.3 261.7 123 261.9 125.5 261.8 128.1 261.3 130.1 259.1 131.8 257.3 132.6 255.8 134.9 254.6 135.5 255.1 138.2 255.1 140.6 253.9 141.9 251.8 143 251.7 144.9 251.2 146.9 249.7 148.3 248 150.8 246.2 152.4 244.4 153.8 242.7 154.3 240.4 154.2 239.3 154.3 237.5 154.9 236.4 155.4 235.1 154.9 234.6 154 234.6 152 233.9 149.9 232.9 147 231.6 144.9 231.2 142.9 230.7 139.1 229.5 136.5 228 133.5 227.7 130.8 228.3 128.1 229.9 125.2 230.1 123.1 229.3 120.7 228.5 118 228.4 116.6 228.2 115.1 227 113.7 225.5 111.8 224.6 109.9 225.4 107.9 225.2 105.9 225.6 104.2 225 103.3 224 102.5 222.6 102.6 221.1 102.8 219.9 101 218.7 99.9 216.9 100.1 215.3 100.5 213.4 101.3 211.6 102.1 209.8 101.7 208.3 101.6 205 102.6 203.3 102.1 200.9 100.2 199.1 98.6 198.3 96.8 196.8 94.8 195.6 93.1 194.2 91.9 194.1 90.4 193.3 88.8 194.6 87 195 85 195 82.3 194.4 80.8 194.2 79.7 195 77.2 196 75.6 197.2 73.3 198.8 71.4 200.8 70.5 202.5 69.1 202.9 67.5 203.2 64.8 204.6 63.6 206.3 62.8 207.2 60.6 208 60.2 208.9 61.2 211.1 61.3 212.8 60.5 214.5 59.8 216.2 59.3 217.8 59 219.5 59 221.2 58.6 222.8 58.9 224.5 58.3 225.4 58.8 226.2 59 225.8 60.4 226.3 61 225.7 62.1 225.4 63.1 226.6 63.9 228.1 64.4 229.2 64.4 231.2 65.1 231.8 66.1 233.3 66.8 235 67.5 236.3 67.5 236.7 66.6 236.6 65.3 237.7 64.4 239.4 64.4 240.6 65.2 242.3 66 244.6 66.3 246.9 67 248.6 66.1 250.7 66.6M272.2 124.7 273.1 128.1 273.2 129.8 272.4 131.4 271.7 133.5 270.6 136.1 269.5 139.5 268.4 142.1 266.3 142.9 265.1 142.2 264.5 140.2 264.3 138.2 265 136.8 265.8 134.8 265.5 132.5 266.1 130.4 268.3 129.5 269.5 128.1 270.4 126.9 271.5 125.4 272.2 124.7M208.1 41.4 209.8 41.1 211.9 40.6 213.9 40.5 215.4 40 214.9 39.2 215.7 38.1 215.2 37.8 214.3 37.9 214.2 37 213.5 35.7 212.5 34.9 212 33.9 211 33.8 211.8 33.2 212.2 31.9 210.6 31.7 211.1 30.5 209.1 30.5 208.5 31.5 208.5 33 207.9 33.4 208.5 34.7 209.3 34.6 209 35.3 210.5 35.2 210.8 36.2 210.9 37.1 209.4 37.2 209.7 38.4 208.7 39.2 209.9 39.4 210.9 39.7 209.7 40 208.1 41.4M207.9 38.7 207.9 37.2 207.7 36.3 208.5 35.7 207.8 34.8 206.5 34.7 205.5 35.5 205.5 36.1 204 36.1 204.1 37.2 204.3 38.3 203.5 39.2 204.3 39.6 205.8 39.3 207.3 38.8 207.9 38.7M222.3 8 224.6 8.5 226.9 10 228.6 9 229.9 8 234.2 7.5 232.3 6.3 227.1 6.1 222.1 6.9 222.3 8M258 15.4 259.9 14.2 259.9 12.1 262.1 10.6 265.4 9.8 267.5 9.5 264.8 11 261.8 12.6 260.6 14 262.5 15.9 258 15.4M285.3 7.5 289.4 7.8 291.4 7 286.6 5.7 283.5 6.1 285.3 7.5M250.9 6.6 256.4 6.1 259 5.7 253.6 5.3 248.9 5.9 250.9 6.6M322.8 11.5 328.4 12.6 331.6 11.5 325.9 10.5 322.8 11.5M63 15.3 64.1 15.7 65.7 15.2 64.2 14.9 63 15.3M364.1 15.3 364.9 15.3M308.6 95.4 310.1 97.1 310.9 98.7 310.4 100.2 309.1 100.5 308.5 98.5 308.6 96.4 308.6 95.4M367.8 52.9 369.8 55.3 369.7 57 370.5 58.8 371.3 60.5 370.5 61.2 369.9 61.8 367.9 62 367.7 62.4 366.9 63.5 365.5 62.1 364 62.4 362.5 62.9 361.1 62.4 362.1 60.8 364.3 60.6 365.8 60.4 365.7 58.3 367.5 58.1 368.3 56.5 366.8 53.8 366.8 53.1 367.8 52.9M366.1 52.7 365 50.5 364.3 47.5 366.2 48.5 368.9 49.5 370.7 50.3 369.5 52.1 366.9 51.4 366.8 52.5 366.1 52.7M360.3 63.1 361.6 62.9 363 64.1 363.1 66.4 362 66.6 360.6 64.5 360.3 63.1M363.5 63.9 365.1 62.5 365.9 63.7 364.3 64.5 363.5 63.9M364.3 46.8 363.5 44.8 361.6 42.8 359.6 40.2 356.5 36 359.1 38.3 361.2 40.9 363.7 42.8 364.7 45.4 364.3 46.8M353.8 74.6 355 74.9 354.8 78.3 354.5 79.1 353.4 77.6 353.8 74.6M340.9 82.7 342.7 81.5 343.6 82.2 342.9 83.6 341.9 84.1 340.9 82.7M355.1 83.6 357.1 83.6 357.4 85.9 356.9 87.7 358.3 89.4 360.2 91.1 359.3 90.1 357.1 90 356 89 354.9 87.7 355.2 86.3 355.1 83.6M358.6 99.1 360.3 98.1 360.6 97 362.3 95.4 363.6 97.1 363.9 99.1 362.9 100.7 361.3 99.9 358.6 99.1M358.1 92.7 359.4 94.4 360.6 94.8 361.9 93.5 360.7 91.7 358.1 92.7M352.8 97.2 355.4 94.4 355.1 93.7 352.8 97.2M343.5 106.5 344.3 105.9 345.8 106 348.2 104.2 349.5 102.4 351 101.4 352.1 99.8 352.9 99.1 353.9 100.5 355.4 101.6 354.3 102.5 353.9 104.2 354.2 107.2 353.6 109.2 352.4 111 352.3 113.3 350.1 113.9 348.2 112.6 346.4 113 345 112.3 344.7 110.2 343.7 108.5 343.5 106.5M327 101 329.7 101.6 331.2 103.4 333.2 105.6 334.6 106.3 336.4 108.3 337.5 109.9 338.5 111.5 339.9 112.7 339.6 116.4 338.1 116.5 336.2 114.9 334.5 112.6 333.3 109.9 331.9 107.9 331 106.3 329.4 104.1 327.9 102.5 327 101M338.7 117.7 339.7 116.5 341.5 116.6 342.6 117.3 345 117.8 347.3 117.8 349.7 118.9 349.4 120.3 346.6 119.7 344.3 119.5 341.9 119 340.2 118.5 338.7 117.7M350.2 120 351.4 119.7 352.5 120 354.9 120 356.7 120 359.4 119.6 361.4 119.9 364.4 119.7 361.9 120.9 360 122.4 358.4 121.3 354.9 120.7 351.3 120.7 350.2 120M355.6 116 355.9 113.3 355.1 112 356.3 109.2 356.6 107.7 357.6 106.8 359.5 107.2 361.9 106.7 362.7 106.4 360.1 108 357.2 107.9 358.3 109.8 360.5 109.8 358.4 111.1 359.5 114.6 358.7 115.7 357.5 112.3 356.8 116 355.6 116M365.4 105.6 366.7 107.2 366.1 109.6 365.5 107.9 365.4 105.6M366 112.7 369.3 112.6 368.9 113.7 366 113.4 366 112.7M369.6 110.3 371.4 109.1 373.6 109.8 374.3 113 377.3 110.6 379.1 111.5 381.5 112 383.8 113.1 385.5 113.7 387 115.3 389.2 116.6 388.8 118.6 389.6 120 390.9 121.7 392.3 122.5 390.8 122.7 388.5 122 386.9 120 385.2 118.8 383.9 119.9 383.6 120.9 382.1 120.9 380.9 120.8 379.2 119.6 377.4 119.9 378.2 118 377.5 115.5 374.8 114.5 372.5 113.8 371.7 113 370.8 112.3 371.4 111.2 369.6 110.3M390.2 116 392.5 116 394.4 114.3 393.7 116 391.9 117 390.2 116M397.8 117.3 400 119 403.4 120.7 404.9 122.7 402.1 121.3 397.8 117.3M346 138.2 345.6 140.9 345.5 143.5 345.5 146.2 345.4 148.3 344.5 151 344.3 153.5 343.2 154.6 344.5 155.7 346.2 155.7 348.9 154.3 351.4 154.3 354 153 355.9 152.3 357.7 152 360.3 151.2 362.7 151 364.1 151.6 365.4 152.7 365.9 155.1 367.2 154.3 369.2 153.1 368.2 155.9 366.8 156.6 368.8 156.5 369.3 157.7 369 159.7 370.2 160.1 372.1 160.8 374.4 159.4 375 161 377.5 159.6 380.1 159 381.4 157 383.3 155 384.5 153.6 386.6 152 388.4 149.6 389.9 147.3 390.3 144.9 390.8 142.6 389.8 141.1 389.2 139 387.8 138.6 387.8 136.8 387.3 135.7 385.4 134.4 385.1 132.8 384.8 130.4 385 128.5 383.4 127.4 383.3 125.4 382.4 123 381.3 125.4 380.7 128.1 380 130.8 379 132 377.5 132.1 375.8 130.5 374.5 129.4 373.4 128.5 374.3 126.7 375.4 125 374.2 125 372.2 124.4 370.6 124 369.2 125 367.4 125.9 366.8 128.1 364.8 128.7 363.9 127.4 362.6 127.7 361.2 129.1 360 130.6 358.9 131.7 357.3 132.5 356.4 133.9 354.8 135.1 352.9 135.5 351 136.4 349.1 136.8 347.3 137.9 346 138.2M371.8 163.3 373.5 163.8 375.6 163.6 374.4 165.3 372.7 166.6 370.8 167.2 371.2 165.3 371.8 163.3M407.9 154.9 408.9 156.3 408.9 158.3 409.4 159.3 411.7 159.3 409.9 161 408.5 161.4 407.6 162.4 404.3 164.5 404.1 164 405.6 162.4 405.1 161.3 406.5 160.5 407.9 158.3 407.7 157.3 407.9 154.9M402.5 163 403.4 164.4 401.7 165.7 399.5 167.2 397 168.4 394.9 170.1 392.8 171.1 391.2 171.1 390.2 170.3 391.4 169.3 394.3 167.7 397.7 166.4 400 164.8 401.6 163.4 402.5 163M405.3 135.7 408.2 138.4 407.6 138.6 405.3 135.7M421.8 132.1 423.2 132.1 422.7 133 421.6 132.8 421.8 132.1M75.4 208.1 84.2 208.6 92.8 209.1 96.2 208.9 97.6 207.6 98.8 206.1 101.9 205.6 108.9 204.8 116.3 204.3 124.9 204.7 132.2 204 135.3 202.9 144.3 203.7 149.8 203.4 153.7 203.2 155.6 202.3 156.2 200.7 157.1 197.8 156.9 194.9 159.2 193.1 161.6 192.3 161 194.9 159.3 196.1 161.2 199 163.4 202.9 164.8 205 162.7 206.6 159.6 207.6 156.7 208.6 161.8 210.1 170 211 177 210.5 179.9 209.1 187.2 208.6 192.1 207.1 197.7 204.5 201.5 202.9 205.6 201.8 213.9 200.7 222.5 200.1 231 200.1 239.7 199.5 244.2 199 248.6 198.6 253.4 197.5 258.2 196.5 262.9 196 266.9 196.9 271 197.5 274.8 198.4 275.4 200.1 277.5 199.5 280.7 198.6 286.2 197 292 196.3 298.6 195.8 303.7 195 307.7 195.6 312.1 195.6 315.9 196.3 320.1 196.6 324.7 196.5 329.8 195.8 334.3 195.8 338.1 196.3 341.4 197.3 344.3 198.4 347.9 199 351.3 199.7 352.3 200.7 354 201.8 354.7 202.9 347.7 205 343.2 206.6 341.7 208.1 343.7 208.6 352.5 208.1M175.8 208.6 180.3 209.8 182.4 210.8 178.8 211 175.8 208.6M151.7 199 155.4 200.7 155.2 202.9 150.6 202.3 151.7 199M151.3 177.1 154.7 177.3 154.6 178.4 151.9 178.2 151.3 177.1M175.9 180.8 178 181.1 176.2 181.8 175.9 180.8M285.2 174 287.2 174.3 285.8 175.2 285.2 174M216.6 55.3 217.7 55 217.5 55.7 216.6 55.3M223.2 50.9 224.2 50.9 224.1 52.7 223.4 52.5 223.2 50.9M223 53.4 224.5 53.4 224.5 55.8 223.3 56.1 223 53.4M227.7 57.4 231.2 57 230.7 59.2 227.7 57.4M240.2 60.8 243.4 61 241.4 61.6 240.2 60.8M250.1 61.4 252.5 60.6 251.5 62 250.1 61.4M276.9 91.6 278.3 91.6 277.3 92 276.9 91.6M323.2 90.4 323.7 92.4 323.4 93.7 323.2 90.4M360.7 121.1 364.6 119.9 361.9 121.9 360.7 121.1M128.8 18.7 131.4 18.1 131.8 17.2 128.8 17.7 128.8 18.7M119.4 10.5 123.5 9.3 125.7 9.9 121.3 10.8 119.4 10.5M136.9 11.8 139.8 11.3 139 10.6 136.9 11.8M148.1 13.7 151.7 13.4 150.1 12.8 148.1 13.7M137.1 25.8 139.7 26 138.4 25.2 137.1 25.8M139.9 8.5 143.4 8.1 142.8 7.3 139.9 8.5M135.1 8.7 138.9 8.1 138.1 7.5 135.1 8.7M127.6 9.1 131.2 8.7 130.4 8.2 127.6 9.1M135.6 14.8 136.3 15.9 132.8 17 133.1 18.1M143.1 23.4 149.8 19.8" fill="none" stroke="#000" stroke-width="1.9" stroke-linejoin="round"/>
</g>
<path d="M100.1 217.1 L97 216.3 L93.4 215.1 L89.6 213.8 L85.4 212.3 L81 210.5 L76.5 208.6 L72.1 206.6 L67.8 204.5 L63.9 202.3 L60.2 200.1 L56.6 197.8 L53.1 195.5 L49.7 193.1 L46.4 190.7 L43.1 188.3 L39.9 185.8 L36.8 183.3 L33.8 180.8 L31 178.2 L28.3 175.6 L25.7 173 L23.4 170.3 L21.1 167.7 L18.9 165 L16.8 162.4 L14.9 159.7 L13.1 157 L11.5 154.3 L9.9 151.6 L8.6 148.9 L7.3 146.2 L6.3 143.5 L5.3 140.9 L4.5 138.2 L3.8 135.5 L3.1 132.8 L2.4 130.1 L1.9 127.4 L1.4 124.7 L1 122 L0.7 119.3 L0.4 116.6 L0.2 113.9 L0.1 111.2 L0 108.5 L0.1 105.9 L0.2 103.2 L0.4 100.5 L0.7 97.8 L1 95.1 L1.4 92.4 L1.9 89.7 L2.4 87 L3.1 84.3 L3.8 81.6 L4.5 78.9 L5.3 76.2 L6.3 73.6 L7.3 70.9 L8.6 68.2 L9.9 65.5 L11.5 62.8 L13.1 60.1 L14.9 57.4 L16.8 54.7 L18.9 52.1 L21.1 49.4 L23.4 46.8 L25.7 44.1 L28.3 41.5 L31 38.9 L33.8 36.3 L36.8 33.8 L39.9 31.3 L43.1 28.8 L46.4 26.4 L49.7 24 L53.1 21.6 L56.6 19.3 L60.2 17 L63.9 14.8 L67.8 12.6 L72.1 10.5 L76.5 8.5 L81 6.6 L85.4 4.8 L89.6 3.3 L93.4 2 L97 0.8 L100.1 0 L327.8 0 L330.9 0.8 L334.5 2 L338.3 3.3 L342.5 4.8 L346.9 6.6 L351.4 8.5 L355.8 10.5 L360.1 12.6 L364 14.8 L367.7 17 L371.3 19.3 L374.8 21.6 L378.2 24 L381.5 26.4 L384.8 28.8 L388 31.3 L391.1 33.8 L394.1 36.3 L396.9 38.9 L399.6 41.5 L402.2 44.1 L404.5 46.8 L406.8 49.4 L409 52.1 L411.1 54.7 L413 57.4 L414.8 60.1 L416.4 62.8 L418 65.5 L419.3 68.2 L420.6 70.9 L421.6 73.6 L422.6 76.2 L423.4 78.9 L424.1 81.6 L424.8 84.3 L425.5 87 L426 89.7 L426.5 92.4 L426.9 95.1 L427.2 97.8 L427.5 100.5 L427.7 103.2 L427.8 105.9 L427.9 108.5 L427.8 111.2 L427.7 113.9 L427.5 116.6 L427.2 119.3 L426.9 122 L426.5 124.7 L426 127.4 L425.5 130.1 L424.8 132.8 L424.1 135.5 L423.4 138.2 L422.6 140.9 L421.6 143.5 L420.6 146.2 L419.3 148.9 L418 151.6 L416.4 154.3 L414.8 157 L413 159.7 L411.1 162.4 L409 165 L406.8 167.7 L404.5 170.3 L402.2 173 L399.6 175.6 L396.9 178.2 L394.1 180.8 L391.1 183.3 L388 185.8 L384.8 188.3 L381.5 190.7 L378.2 193.1 L374.8 195.5 L371.3 197.8 L367.7 200.1 L364 202.3 L360.1 204.5 L355.8 206.6 L351.4 208.6 L346.9 210.5 L342.5 212.3 L338.3 213.8 L334.5 215.1 L330.9 216.3 L327.8 217.1Z" fill="none" stroke="#b3b3b3" stroke-width="1.2"/>
</g>
<text x="215.3" y="346" text-anchor="middle" font-size="22" fill="#2f4f4f" stroke="#2f4f4f" stroke-width="0.7" textLength="38" lengthAdjust="spacingAndGlyphs">JJA</text>
<g transform="translate(1.4 363.3)">
<g clip-path="url(#clip)">
<rect x="0" y="0" width="427.9" height="217.1" fill="#f6f7f7"/>
<path fill="#3783bb" fill-rule="evenodd" d="M201 84.5 202.5 84.9 203.5 86.6 206.5 86.8 208.5 87.7 213.5 91.8 213.6 93 212.5 93.6 210.5 93.6 206.5 91 202 91.3 198 92.4 197 92 193.9 88.5 193.5 86.9 194.5 86 200.9 84.5ZM277 102.8 278 102.8 278.8 103.5 277.5 104.7 276.3 104.5 276.6 103Z"/>
<path fill="#68abd0" fill-rule="evenodd" d="M190 75 191 74.7 193 76.1 195.7 77 196.9 81.5 198.5 82.4 206 82.2 208.9 79.5 210.5 77 211.5 76.6 213 77.5 213.6 80 214.5 80.6 216 79.9 223 78.4 227 80.4 233.5 79 242 79.2 247 79.9 248.2 81 248.6 82.5 248.2 83.5 246 84.9 242 85.6 238.5 86.8 235 86.1 232 86.7 229.5 85.6 226 86.1 223 85.3 221.5 85.4 217.9 89 217.9 92.5 217.4 93.5 211.5 97.1 206 93.4 202.5 93.6 199 95.2 197 95 195.5 94.1 194.6 91.5 191.4 87.5 191.1 85 192 79.5 190 76.8 190 75ZM200.9 84.5 194.5 86 193.5 86.9 193.9 88.5 197 92 198 92.4 202 91.3 206.5 91 210.5 93.6 212.5 93.6 213.6 93 213.5 91.8 208.5 87.7 206.5 86.8 203.5 86.6 202.5 84.9 201 84.5ZM276.5 99.9 278.5 99.9 282 101.2 286.5 101.3 290 99.8 291.5 101 289.8 103 289.5 105.5 288.5 106.4 285.5 105.9 283.5 106.3 280.6 108 278.5 110.4 277 111 274 110.2 269.7 110 269.1 108.5 272.6 105.5 271.8 103.5 272 102.5 276 100ZM276.6 103 276.3 104.5 277.5 104.7 278.8 103.5 278 102.8 277 102.8ZM139 102.5 140.6 102.5 145 104.5 146.8 107 146.5 108.4 143.9 111 140.5 112.8 137.5 112.5 134.5 109.7 131.2 109 129.9 107.5 129.1 105.5 130 104.6 134 105 138.8 102.5ZM381.5 115 384 114.9 388.5 117.2 402.5 121.7 403.7 122.5 404 123.5 402.5 124.8 400.5 125.4 397.5 124.6 394 124.8 392 124.2 388 125.5 383.5 126 378.5 121.5 377.8 120 378.4 116.5 381.4 115Z"/>
<path fill="#a7d0e4" fill-rule="evenodd" d="M303.5 44.9 305 44.6 307.5 45.2 308.5 46 308.5 47 303 51.7 299.7 53 297.5 55.2 295.5 55.4 293 53.7 292.8 51.5 294.5 48.8 297 47.7 300.5 47.2 303.3 45ZM199.5 65.4 201.5 65.4 210.9 68 211.5 69 208.8 70.5 208.5 71.5 209 72.1 212 70.7 214.5 72.8 216.5 73.5 225.5 74.2 229 75.3 232.5 74.6 235 75.8 240.5 76.8 246.5 75.8 249.5 76.3 252 75.7 257 77.2 258 78 259.3 82.5 260.6 85 260.9 87.5 261.8 89.5 261.7 92.5 260.5 93.3 249 90.1 243.5 90.1 241 89.4 235.5 89.7 232.5 90.4 228 90.5 224.5 92.6 222 95.9 218 95.9 214 98.6 208 100 203.4 97 199.5 97.7 193.5 96.5 192.5 95.7 191.4 93.5 186.5 88.5 186.2 87 186.8 84.5 186.7 82.5 185 79 183.1 72.5 184.5 70.7 187.5 70.6 191.5 68.4 196 67.1 199.1 65.5ZM190 75 190 76.8 192 79.5 191.1 85 191.4 87.5 194.6 91.5 195.5 94.1 197 95 199 95.2 202.5 93.6 206 93.4 211.5 97.1 217.4 93.5 217.9 92.5 217.9 89 221.5 85.4 223 85.3 226 86.1 229.5 85.6 232 86.7 235 86.1 238.5 86.8 242 85.6 246 84.9 248.2 83.5 248.6 82.5 248.2 81 247 79.9 242 79.2 233.5 79 227 80.4 223 78.4 216 79.9 214.5 80.6 213.6 80 213 77.5 211.5 76.6 210.5 77 208.9 79.5 206 82.2 198.5 82.4 196.9 81.5 195.7 77 193 76.1 191 74.7 190 75ZM370 76.8 381.5 77.8 385 79.3 386.5 82 391.5 81 394.5 77.9 397.5 78.5 403.5 77.4 410 78.9 414.5 77.8 417 78.1 419.5 77.4 425 79.2 428.5 78.7 428.5 88.3 420.5 88 413.5 91.4 412.2 93.5 411.1 97.5 411.4 99.5 414 102 412.5 103.4 402.5 103.5 397.5 105.2 395 105.1 390.5 106.2 389.5 106 387 103.6 385 102.7 378.5 104.1 374.5 102.1 370.5 101.8 369.9 101 369.5 98.7 367.2 96.5 368.7 94.5 369.3 92 367.9 85.5 369.5 83 368.9 78.5 369.7 77ZM113.5 83 117.5 83.6 119.6 85 121.2 87.5 121.1 89.5 120.5 90.5 119 91.2 114.5 91.7 112 89.5 109.1 88 108.6 86.5 109.5 84.7 113.3 83ZM69.5 86 73 87 77.8 90.5 77.5 91.3 76 91.8 75 92.9 74.8 97.5 74 98.4 70.5 98.9 69 98.4 64.7 93.5 63 90.4 60.2 89 63.5 87.1 69.4 86ZM428 94 428.5 93.8 428.5 97.9 426.1 97 428 94ZM276 96.9 283.5 99.5 285.5 99.2 288 97.9 292.5 98.7 293.7 99.5 295.3 102 299 103 303.6 107 305.1 109 305.2 110.5 303.5 111.6 300 109.6 297.5 109.7 295.5 108.6 294 108.5 287.5 112.6 285 112.2 278 114.4 273 114.5 267.5 112.6 263.2 110 262.2 108.5 262.3 107.5 265.5 108.5 268 106.5 268.2 105.5 266.9 103 267.5 100.9 271.5 98.6 275.8 97ZM276 100 272 102.5 271.8 103.5 272.6 105.5 269.1 108.5 269.7 110 274 110.2 277 111 278.5 110.4 280.6 108 283.5 106.3 285.5 105.9 288.5 106.4 289.5 105.5 289.8 103 291.5 101 290 99.8 286.5 101.3 282 101.2 278.5 99.9 276.5 99.9ZM138.5 101.4 140 101 142 101.4 147.9 105 150.1 109.5 150 111.6 142 114.9 140 114.9 136.3 113.5 129.4 109.5 128 108 126.1 104.5 126.4 103.5 127.5 103.1 134 103.8 138.3 101.5ZM138.8 102.5 134 105 130 104.6 129.1 105.5 129.9 107.5 131.2 109 134.5 109.7 137.5 112.5 140.5 112.8 143.9 111 146.5 108.4 146.8 107 145 104.5 140.6 102.5 139 102.5ZM380.5 113 386 113.2 389 115.6 393.5 117.4 397 117.9 408.1 122.5 412.1 127 413.3 130 412.9 131.5 412 132.6 410.5 132.6 408.5 131.2 405.5 130.1 403.5 127.7 402 127 391.5 127 383 128 374.5 122.8 371.9 124 370.5 126.5 369.5 126.6 365.5 122.5 362.9 117 363.2 115.5 364.5 114.8 380.3 113ZM381.4 115 378.4 116.5 377.8 120 378.5 121.5 383.5 126 388 125.5 392 124.2 394 124.8 397.5 124.6 400.5 125.4 402.5 124.8 404 123.5 403.7 122.5 402.5 121.7 388.5 117.2 384 114.9 381.5 115ZM122.5 121.9 124 121.8 125.1 122.5 127.9 125.5 130.3 130 131.9 135.5 131.1 141 132.2 144 131.6 146 130.5 146.8 123.5 146.5 121 144.7 118 144 116.6 142.5 116 136 116.5 132.1 117.8 129 117.6 126 118.7 124.5 122.3 122Z"/>
<path fill="#d7e8f1" fill-rule="evenodd" d="M292.5 42.4 296.5 42.8 299.5 44.3 304 42.3 308 42.5 313.5 43.2 320 45 326.3 50.5 327.9 57.5 325.5 57.3 320.5 53.6 317 54.3 312.5 51.7 308 50.7 301 54.2 298 56.8 294 57.3 291.5 58.6 288 59.1 282.5 61.1 281.5 60.9 280.6 59.5 279.2 54 276.1 48.5 276.1 47 277 44.9 278 43.7 279.5 43.5 284 44.2 287 45.7 292.2 42.5ZM303.3 45 300.5 47.2 297 47.7 294.5 48.8 292.8 51.5 293 53.7 295.5 55.4 297.5 55.2 299.7 53 303 51.7 308.5 47 308.5 46 307.5 45.2 305 44.6 303.5 44.9ZM83 43.4 88 44.4 90 46.3 94.1 48 94.5 49 93.5 49.2 86.5 47.2 82.9 45 82.4 44 82.8 43.5ZM425 48.3 428.5 48.5 428.5 78.7 425 79.2 419.5 77.4 417 78.1 414.5 77.8 410 78.9 403.5 77.4 397.5 78.5 394.5 77.9 391.5 81 386.5 82 385 79.3 381.5 77.8 370 76.8 368.9 78.5 369.5 83 367.9 85.5 369.3 92 368.7 94.5 367.2 96.5 369.4 98.5 369.9 101 371 102 374.5 102.1 379 104.2 383.5 102.7 385 102.7 387 103.6 390 106.2 395 105.1 397.5 105.2 402.5 103.5 412 103.5 413.4 103 414 102 411.8 100 411.1 98.5 411.7 95 413.5 91.4 420.5 88 428.5 88.3 428.5 89.5 420.5 89.1 415 91.9 413.4 93.5 412.2 97.5 412.6 99 414.5 100.2 420 99.5 422.5 98.2 428.5 92.5 428.5 93.8 427 95 426.1 97 428.5 97.9 428.5 136.9 425 136.5 421.5 138.3 417 138.3 412 136.3 407.5 136 405 133.7 402.5 133.1 398.5 134.5 395 134.2 390.5 135.5 385 138.5 375.5 136.8 371.5 138.1 368.5 137.7 365 139 361 137.2 356.5 137.6 354.8 138.5 353 141.5 349 142.8 348.4 142 348.8 140 343 137.4 340.7 135 334 134.2 330.5 134.5 326.7 133.5 327.5 131.5 331 130.2 338 129.7 341 131.2 342.7 130 343.2 127.5 342.7 125.5 340.5 123.7 338.9 121 336 119.2 332.5 118.8 330.5 119.5 328 122.1 325.3 123.5 325.7 125.5 325 126.9 323.9 126.5 323 123.9 318 123.9 314.5 121.7 308 123.8 306 125.7 304.5 126.2 303.5 125.1 302.4 121.5 299.9 118 298 117 294 116.7 290.5 121.2 290 122.5 291 126 292.8 128 292.5 129 286 131.9 285 131.8 283.5 130 282 129.4 272.5 132 270 131.3 268 127.4 264.4 125 263.1 121.5 260.5 119 259 115.9 258 115.1 249.5 120.7 246.7 121 244 120 239.5 120 227.5 122.8 227.3 125 229.2 128 229.8 130.5 229.7 135.5 228.8 138.5 229.6 142.5 228.9 144 227 146.1 219 146.6 211.4 140.5 211.2 132.5 209.4 125.5 209.5 124 211 120.5 209.7 115 212.5 111.7 214 111 218 112.4 224.5 111.8 233.5 113 234.5 112.5 236 110.2 237.5 110 246.5 111.3 247.1 114 248 114.8 255.5 113.2 258.5 114.2 259.5 112.9 259.8 110.5 258.3 105.5 260.9 100.5 263.5 99.3 265.4 97 270.5 93.2 273 93 274.2 91.5 275.5 91 278 91 279.5 91.6 283 95.5 284 96 287 95.1 290.5 95.7 296 95.1 297.5 95.4 303.5 103.3 308.5 103.8 314.5 108.3 323.4 110.5 326 111.9 328.5 112.1 331 114.5 332.5 114.4 336.5 110.1 337.5 109.8 338.9 111.5 340.1 116.5 341.5 117.7 343.5 118.3 346 118.4 349.7 117.5 355.5 118.8 363.5 113.5 384.7 111.5 386.5 110 387.1 108.5 386.1 105.5 384.5 104.3 379.5 105.5 373.5 103.6 367 103.2 355 104.5 353 104.2 352.1 103.5 351.9 102 355.2 98 355.8 95.5 357 93.5 357 92.5 354.5 87 356.7 84.5 358.7 78 358.5 75 356.5 72.3 355.4 68 353 63.3 353 61.9 354.5 61 358.5 60.9 363 58.9 366.5 58.4 370 55.2 373.5 54.6 376.5 53.4 380.5 54 384 53.6 389 55.8 393.5 55.5 401 58 407 56.1 411 55.6 414.5 55.8 417 54.3 418.3 52 420.5 49.7 424.6 48.5ZM275.8 97 271.5 98.6 267.5 100.9 266.9 103 268.2 105.5 268 106.5 265.5 108.5 262.3 107.5 262.2 108.5 263.2 110 267.5 112.6 273 114.5 278 114.4 285 112.2 287.5 112.6 294 108.5 295.5 108.6 297.5 109.7 300 109.6 303.5 111.6 305.2 110.5 305.1 109 303.6 107 299 103 295.3 102 293.7 99.5 292.5 98.7 288 97.9 285.5 99.2 283.5 99.5 276 96.9ZM380.3 113 364.5 114.8 363.2 115.5 362.9 117 365.5 122.5 369.5 126.6 370.5 126.5 371.9 124 374.5 122.8 383 128 391.5 127 402 127 403.5 127.7 405.5 130.1 408.5 131.2 410.5 132.6 412 132.6 412.9 131.5 413.3 130 412.1 127 408.1 122.5 397 117.9 393.5 117.4 389 115.6 386 113.2 380.5 113ZM84 53 86 53.6 89 57 90 57.2 93 56.1 96.5 57.9 97.8 59.5 97.5 61.5 93.5 65.4 91.5 66.2 90.6 66 88.5 62.9 85 62.1 83.5 60.5 81.5 60.1 80.3 58.5 80 56 84 53ZM198.5 54.8 200 54.7 203.5 56.6 209 56.1 212 56.6 216 56.5 219.5 58.1 223 58.9 223.4 60.5 222.6 62 217.5 64 216.5 65 216.2 67 217.5 68.9 222.5 72.4 226 70.9 228.5 73 232.5 72.5 236 74.4 240 74.9 247 72.2 247.1 71 245.4 68.5 245.7 67 246.5 66.1 251 67.3 255 67.4 258.3 65 262.5 63 264.5 59.7 268.5 59.5 271 57.5 272.5 57.2 276.5 61.1 279 66 279.6 69.5 282.3 72 284 74.5 284.4 76.5 283.1 78.5 283.2 80.5 282.1 83.5 279.5 85 275.5 85.6 270.5 84 269.8 83.5 270.5 81 269.5 80.5 268.5 81 267.9 82.5 269.8 84 268.6 87 267 89.5 264.3 91 263 94.7 261.5 95.9 258 94.8 255.5 96.2 254 96.3 249 94.6 246.5 94.6 242.5 100 237 102.4 233.5 101.3 230 102.2 227.5 103.6 224.5 104.1 219 102.9 216.5 103 215.1 104.5 216.5 107.5 214.5 109.5 207 106.6 203.5 107.8 200 102.7 198.5 101.9 191.5 104.8 190 107 188 105.6 184 107.5 182.3 105 181.5 100.6 179.3 98 178.5 96 178.4 93.5 179.5 90.5 178.7 86.5 179.5 81 176.7 75 176.6 72 180.3 66.5 185 64.9 189.5 60.3 191.5 59.3 193.5 57.2 198 55ZM199.1 65.5 196 67.1 191.5 68.4 187.5 70.6 184.5 70.7 183.1 72.5 185 79 186.7 82.5 186.8 84.5 186.2 87 186.5 88.5 191.4 93.5 192.5 95.7 193.5 96.5 199.5 97.7 203.4 97 208 100 214 98.6 218 95.9 222 95.9 224.5 92.6 228 90.5 232.5 90.4 235.5 89.7 241 89.4 243.5 90.1 249 90.1 260.5 93.3 261.7 92.5 261.8 89.5 260.9 87.5 260.6 85 259.3 82.5 258 78 257 77.2 252 75.7 249.5 76.3 246.5 75.8 240.5 76.8 235 75.8 232.5 74.6 229 75.3 225.5 74.2 216.5 73.5 214.5 72.8 212 70.7 209 72.1 208.5 71.5 208.8 70.5 211.5 69 210.9 68 201.5 65.4 199.5 65.4ZM128 59.8 129.4 60 129.6 61 128 61.5 127.4 61 127.7 60ZM33.5 72.3 34.9 73 34.9 74 34 74.8 33 74.7 32.5 74 33.2 72.5ZM47 74.8 48 74.5 50.5 75.6 54 75.8 57 77.1 60 76.7 62.5 79.9 65.4 78 69.5 76.7 71.5 75.3 78 75.3 80 76 81 78.5 79.4 81.5 81.9 87 81.2 91.5 82.5 96.5 82 98 78.4 100.5 74.5 101.2 71 102.7 69.5 102.6 66 99.1 62 97.5 60.7 93 56.4 89 47.5 85.4 46.7 83.5 47.2 80.5 46.1 77 46.7 75ZM69.4 86 63.5 87.1 60.2 89 63 90.4 64.7 93.5 69 98.4 70.5 98.9 74 98.4 74.8 97.5 75 92.9 76 91.8 77.5 91.3 77.8 90.5 73 87 69.5 86ZM105.5 76.8 106.5 76.7 111 78.4 116 78.1 118.5 79.6 121.5 80.4 125.5 78.2 129 80.8 132 82.2 132.6 84.5 131.5 86 129.3 87 127.6 88.5 124.5 89 123.9 90 124.5 93.5 124 94.6 121 94.1 115.6 96.5 113 96.5 111.2 95.5 111.4 91.5 108 89.5 106.5 85.2 104.5 83.8 102.7 80.5 102.5 78.5 105.2 77ZM113.3 83 109.5 84.7 108.6 86.5 109.1 88 112 89.5 114.5 91.7 119 91.2 120.5 90.5 121.1 89.5 121.2 87.5 119.6 85 117.5 83.6 113.5 83ZM36 77.9 38.5 77.6 40 78 41.3 79 41.3 80.5 39.5 81.7 32.5 83.7 24 83.7 23 83.2 24 81.8 35.6 78ZM139 100.4 142.5 100.8 149.3 105 151.8 110 152 112 151.3 113 150 113.9 146.4 114.5 142 116.3 140 116.4 131.5 112.3 125 108.1 123 108.2 122.5 107.6 122.9 104 124 102.3 127 101.7 133.5 103.1 138.8 100.5ZM138.3 101.5 134 103.8 127.5 103.1 126.4 103.5 126.1 104.5 128 108 129.4 109.5 136.3 113.5 140 114.9 142 114.9 150 111.6 150.1 109.5 147.9 105 142 101.4 140 101 138.5 101.4ZM7.5 101.9 9.5 101.7 14.5 105.7 19.5 107.7 23.5 106.3 27.5 106.7 32 106 35.5 108.6 41 110.1 42.2 111.5 42.3 113 40 115 36.5 115.4 33 116.8 26.5 116.4 23 118.3 18.5 118.3 16 119.8 12 119.3 10.8 118.5 8.2 114.5 0 107.7 0 103.2 7.3 102ZM101.5 109.9 106.5 110.7 109.5 111.9 112 110.5 113.5 110.4 118 113.1 122 113.3 122.9 114 125 118 128.2 119.5 130 126.5 131.5 129.5 132.8 135.5 132.7 139.5 133.4 144 132.1 148 128 148.7 120.5 147.7 116.5 148.3 111.5 146.3 107.9 145.5 106 144 103 139 96.5 134.5 90 132.4 87.7 131 86 129.5 84 125.5 81.1 123.5 80.6 121.5 80.8 117.5 84.2 114 85.5 113.5 89 113.9 93 111.6 99 111.1 101.2 110ZM122.3 122 118.7 124.5 117.6 126 117.8 129 116.5 132.1 116 136 116.6 142.5 118 144 121 144.7 123.5 146.5 130.5 146.8 131.6 146 132.2 144 131.1 141 131.9 135.5 130.3 130 127.9 125.5 125.1 122.5 124 121.8 122.5 121.9ZM183 111.4 184 111.1 187.2 112.5 182.5 113.1 182.3 112.5 182.9 111.5ZM204 114.7 206 115.5 206.5 117.6 205.5 117.8 204.2 117 203.4 116 203.5 115ZM428.5 139.6 428.5 143.3 427.3 142 428.1 140ZM41 144.4 42.5 144 44.9 144.5 48 147.1 50.5 148.3 55 144.6 59.5 145.6 62.5 147.6 63.7 150 63.7 151.5 57.9 158 54 158.8 51 158.5 48.5 159.2 46.7 159 42.5 155.6 37 154.7 34.5 152.7 32.5 149.5 32.9 148.5 35.5 146.1 40.8 144.5ZM404.5 150.8 406.5 150.9 407.4 152.5 406.5 153.1 404.5 153.2 403.8 152 404.3 151ZM9.5 172.4 11 172.5 11.7 173.5 11 174.1 10 174 9 173 9.2 172.5ZM157 191 161.5 191.3 166 190.9 169 191.9 171.1 193.5 174.6 198.5 174.3 200 171.1 202 171.3 202.5 175.5 204.3 180.5 204.3 186.5 207.3 190.5 208.4 192.5 208.2 195.5 206.9 204 207.5 207.5 208.9 217 210.2 220 209.3 223 206.8 227.5 205.5 232.5 206.1 234.5 206.9 235.8 205.5 238 204.3 241.5 204.2 245.5 203.1 248 204.1 248.3 203 247.4 202 247.2 201 249 199.5 253.5 199.8 257.5 198.9 261 200.7 263.5 199.9 269 200.2 272 199.3 276.5 199.3 282.5 200.7 286 198.8 288.5 198.7 289.5 199.1 290.9 201.5 292.5 202.7 298.5 203.6 303.5 202.4 309.5 208.5 313.5 208.6 318.5 209.7 323.5 211.8 325.8 211.5 329.5 209.6 337 209.7 339.5 208 346.5 207.1 349.5 205.4 352.5 206 355.6 207.5 357.4 213.5 360.5 218 296.9 218 295.5 216.6 294.7 217 294.3 218 245.6 218 242.5 216.3 242 216.5 241.7 218 211.8 218 211 217.4 209.9 218 89.5 218 90.8 215 93 212.5 94 209 96 206.1 98 205.1 101 205.3 104 207.5 107 206.4 110 207.3 113 206.3 116 209.2 117.5 209.8 119 209.4 122 207.6 125 207.7 131 206.6 134.5 203.8 136 204.5 136.8 207 138.5 207.8 142.5 207.6 147.5 209.2 154 207.5 155.2 206 152.6 203.5 151.8 201.5 152.3 194 153.5 191.9 156.8 191ZM31.5 206.9 33.2 207.5 33.5 209 31.5 209.3 31 208.5 31.4 207Z"/>
<path fill="#fce0d0" fill-rule="evenodd" d="M90 0.3 95.3 0 92.3 2 92 4 89.5 3 86.5 3.7 82 7.7 79.5 9.1 77 9.4 72.5 8.7 69 11 66 11.4 61 13.7 56.5 13.9 54.5 14.5 52 16.7 43.5 21 40.5 24.5 36.7 27 34.6 29.5 29 31.4 27.6 34 25 36 25 37.5 26 38 28.5 38.1 36.5 36.8 44 39.6 46.5 39 49 37.7 56.6 36 58.2 35 60.8 30.5 63.5 28.2 66.4 24 70.5 22.4 75.5 22.8 78 23.9 83 24.3 85.5 25.2 88.5 24.9 90.8 26.5 92.5 29.2 96 28.8 99 29.9 102 29.8 106 30.9 110 30.1 117 32.2 123.3 31.5 128.5 33.2 131 35.2 133.5 35.6 136.5 37.2 139 36.9 144 34.1 150.6 37.5 153.5 38.1 158.5 36.4 162.5 37.2 167.5 35.2 175 35.2 179.5 33 184 33.4 189 35.4 197 30.3 202.6 22 204.5 20.3 206 19.7 208 21 208.9 24 211.3 27 212.1 31 215 33.5 219.5 32.2 223.5 32.8 224.6 30 226.9 28.5 236 25.4 243.5 24.5 247 25.4 250 27 254.1 27.5 258.5 30.5 259.5 33.7 260.5 35 264 35.3 270.5 37.8 275 37.1 279.5 38.5 285.5 35.6 294.5 35.5 299.5 36.3 311.5 40.7 316.5 40.6 320.5 41.3 328.5 38.7 332 36.3 333.5 36 336.5 36.9 340 36.4 345.5 41 349 41.4 351.5 42.4 353.5 44.1 358 45.7 362 44.9 365.5 42.9 371.5 41.6 375.5 42.7 377.5 42.3 379.3 41 377.4 33.5 380.3 26 380 24.2 375.7 18.5 370.5 15.8 366.5 10 357 2.3 356.1 0 358.3 0 360.1 2.5 368.8 10 371.9 14 377 17.5 379.7 20.5 381.2 23.5 381.8 26 380 30.1 379.6 35 381 37.6 384 39.2 384.5 40 383.9 43 381.4 45 380.3 49.5 380.4 51.5 375.5 51.8 370.5 53.2 366 56.5 358.5 59 357 59.2 354 58.6 352.5 59.3 351.1 61 350.8 63.5 353.7 69.5 354.1 71.5 353.3 73 351.1 74.5 346.5 75.9 342.5 74.5 337.5 74.7 333 79.2 331.5 79.8 325.5 80.2 322 79.2 320 79.4 316.9 81.5 316.2 83 316.3 84.5 317.5 86.5 321 88.3 323.5 90.6 326.5 91.6 328.5 90.6 333 90.7 336.5 88.3 339 87.6 344.5 87.8 349 89.2 351.9 91.5 352.3 95.5 351.5 98 348.2 103.5 349.5 104.8 352 106 356 106.4 358.5 105.7 369 104.6 374.5 105.1 379.5 106.9 384 105.9 384.6 106.5 384.5 108.1 383 109.9 367 112.1 363 112.2 355 116.6 348.5 115.8 343.5 116.7 342 116.3 341.3 115.5 340.4 111 338 107.5 337 107.6 334.5 110.5 332 111.9 330.9 111.5 329.5 109.2 328 108.1 325.5 108.8 320.5 107.7 315.5 107.4 313.2 106 311.9 104.5 310.5 98.5 307.4 92 306.8 86.5 309.3 82 309 80.5 301 77.1 292.5 77.5 288 76.1 286.2 75 283.9 71.5 281.4 69 280.6 63.5 288.5 60.1 298 57.9 301.5 55 308 52.4 312.5 52.8 318.1 56.5 321.5 64.6 323 64.5 325 63 326.5 62.7 330.5 63.6 335 63.8 335.8 62.5 335.7 58.5 338.4 55 338.5 51 334.4 44.5 332 43 331.5 39.4 322.5 42.6 320.5 42.9 310.5 41.5 299.5 38.3 295.5 39.5 291 40 287.5 39.1 281.5 41.1 275.3 41 273.8 42 274 45 273 45.9 272 45 271.5 41.9 270 41.3 267.5 41.6 261.7 51.5 261.6 56.5 262.3 59 261.7 61 260 62.6 255 63.7 253 63.3 248.5 60.3 246.4 62 245 62.4 240.5 60.3 236 60.3 232 56.8 230.5 56.1 226.5 56.7 223.5 56 220.5 56.1 218 55.2 213.4 54.5 211.1 50 211.5 45 215 39 214.5 38 213.5 37.5 202.5 37.2 197 39.6 194.5 40 189 39.4 186 37.6 184.5 37.3 181 38.4 179 38 177 40.6 172 41.8 170 43.6 167 43.1 165.5 44.3 164.1 47 163.8 48.5 164.2 50 166.5 53.8 169.3 56 172 59.2 176.5 60.8 178.3 65 175.2 71 174.3 74.5 177.6 81 177.2 87 177.8 90.5 176.8 96 177.4 98.5 179.1 101.5 179.4 103.5 179.1 105.5 178 107.2 172 109.7 169 112.1 166 112.6 159.5 110.7 154.5 110.1 149.5 104.2 142.4 100 139 99.8 134.5 102 132.5 102.4 129.1 101.5 127.1 99.5 125.7 92 126.3 90.5 129.5 89.5 135 85.5 139.5 85.7 142.5 84.5 146.5 84.2 153 82.2 153.5 82 153.4 81.5 148.5 81.1 144.5 82.2 142 81.2 137.6 78 132.5 77.6 129 74.9 121.5 76.1 117.5 75.4 116 74 117.2 68.5 118.5 66.7 130 68 133.5 65.7 142.5 63.3 147 64.4 150.4 67 152.5 67.6 159 64.7 162.5 65 164.3 64.5 165 63 164.3 58.5 161 53 158 50 157.2 45.5 153.4 45 149.5 42.2 146 43 142.5 43 139.5 44.6 134 43.7 129.5 46.6 125 47.9 120.5 47 114.5 50.7 113.5 50.9 106 48.2 104.7 45.5 104.5 42 103.5 41.1 98.5 40 92 41.5 89 39.7 80.5 41.9 76.5 47.4 75 46.2 74.6 43 73 40.5 73.1 37 72 34.8 70.5 34 64.5 33.6 57.5 37.6 50 39.4 43.5 41.6 40 40.1 35 38.9 25 39.8 24.4 41 25.8 44 25.7 46.5 27.9 58 27.7 59 27 59.7 24.5 59.8 19 58.4 15 58.4 14 57.8 13.8 56.5 15.6 54 16.1 50 18.4 45 17.8 41 20.6 39 21.5 36.6 25.1 33.5 27.1 30 31 27.7 33 27.2 37.9 23.5 39.5 21.5 43 18.6 47 16.7 50 14 56 11.6 60 12.2 64.5 9.5 69 9 72.5 6.6 78.5 7 83 4.1 86 1.5 89.8 0.5ZM241 48 240.9 49 241.5 49.5 242.5 49.6 243.4 49 242.5 47.7 241 48ZM307.5 54 302 56 298.5 59.1 295 59.5 292.5 60.8 289 61 285.7 62.5 282.6 67 282.7 68.5 287 73.6 292 76 302 75.1 308 77.6 311.5 79.9 315 80.5 321.4 76.5 322.2 75 322.1 73 318.8 68.5 318 60.5 316.8 57.5 312 53.8 308 53.9ZM141.1 65.5 139.5 67.2 135.5 66.8 133.5 67.8 131.7 71.5 131.7 73.5 132.4 75 134.5 76.2 139 76.5 142.6 79.5 145 80.3 147.5 79.3 152.5 79 157 79.8 160 78.7 162.5 77 165 76.4 166.3 75 165.5 71.5 165.3 68 163.9 66.5 160 66.5 155.5 68.8 153 69.4 149 68.7 146 65.8 141.5 65.2ZM119.2 69 118.1 72.5 119 73.8 122.5 74.3 125.5 74.1 127.2 73.5 128.1 72.5 128.1 71 126.5 69.4 121 68.5 119.5 68.8ZM310.8 83 309.5 84.1 308.2 86.5 308.5 92 312.2 98.5 313.4 104.5 316 106.3 320.5 106.1 325 106.7 325.6 105.5 326.2 100.5 327.5 98.7 329.1 106 331.5 109.9 333 110.3 334.6 109 338.1 103.5 339.5 103.1 343.5 104 345 103.8 348.4 100.5 350.6 96 350.7 93 349 91 346 89.5 340.5 88.7 338 89.2 333.5 91.8 329.5 92.6 327.5 96.3 320.1 89.5 316 87 313.5 84 311 82.9ZM152.7 84 139.5 87.3 134 87.7 131.6 90 127.5 92.5 127.7 95.5 129.2 100 130.5 101.1 132.5 101.5 138.5 99.2 142.5 99.3 149.9 103.5 156.1 109 161.5 109.7 165.5 111.2 167.5 110.8 171 108.1 177.4 105.5 177.8 103.5 175 95 175 91.9 170.5 87.2 168.5 86.3 163.5 86.1 160.5 84.9 157 85 153 84ZM187.5 0 191.4 0 191.3 2.5 190 3.4 189 3.1 187.5 0ZM2 18.9 3 19.4 4.2 21 3.9 22 2.5 23 0.8 22 1.8 19ZM413 22.4 415.1 23 415.5 24 415 25.1 413.5 25.2 412.5 24.5 412.3 23.5 412.8 22.5ZM77.5 49.9 78.5 49.9 80.1 51 79.8 52.5 78.5 53.7 77.3 53 77.5 50ZM142 50.2 143.5 50.3 143.5 52.1 142.5 52.4 141.7 52 141.6 50.5ZM42.5 67 48 67.2 50.5 69.8 54.5 71.3 58.5 69.3 59.6 70 59.7 72 58.5 73.7 57 74.4 51.8 73.5 49 72.3 45 72.3 40.3 69.5 40.5 68.2 42.4 67ZM91.5 77.5 93 77.1 99 77.7 103.4 85 106 87.9 106.2 90 105 91.8 103 92.5 99 92.5 97.2 94.5 98 95.3 101 95.7 102.5 96.8 103.5 99 103.2 101 102 102 99 102.9 95.1 103.5 88 105.7 84.5 106 78.5 108.8 72.5 108.6 71.6 107.5 71.5 105.5 74 103 80.5 100.7 83.5 98.7 86.5 95.7 92.5 95.7 94 95 89.5 91.4 86.5 88 87.2 81.5 88.7 79.5 91.4 77.5ZM92 79 90.5 80 89.1 82 88.4 86 89 87.5 91.9 91 95 92.7 98 90.6 103 90.7 104 90.3 104.6 89.5 104.5 88.3 101.8 86 100.9 83 99 80.2 97.5 79.4 92.5 78.9ZM87.9 97.5 80.5 102.3 75 104 73.6 105.5 73.7 106.5 75 107.1 77.9 107 84.5 104.2 100.5 100.9 102 99.5 101.6 98 100.5 97.3 96 98.2 88 97.5ZM40 83.4 44 83.8 47.5 87.5 55 90.4 58.8 93.5 60.9 100.5 60 104.6 58.5 105.2 55 103.8 52.5 103.7 49.1 106 41 107.2 37.5 106.5 31.5 103.9 28 105 23.5 104.6 19 105.6 14.6 104 9.5 99.9 4 100.6 0 100.3 0 98.9 3.5 99.1 9 98.1 11 98.7 14.5 102 17.5 103.1 27.5 103.3 36 100.9 40.5 102.8 45 102.3 46.3 101 46.9 99 44.7 92 43.5 91 40 89.9 34.5 89.4 32.5 90.7 31 91 28.3 90.5 26 89 24.5 88.7 21.5 90.3 18.5 93.3 16.5 93.8 5 89.7 0 89.7 0 88.2 5 87.9 8.5 88.7 12.5 87.3 18.5 88.2 24.4 85.5 33 85.4 39.5 83.5ZM420.5 90 425 89.7 428.2 91 421 98.1 416 99.3 414 99 413.1 97 414.4 93.5 420.4 90ZM421.7 90.5 419.1 91.5 415.6 94 414.3 96.5 414.5 98 416 98.3 420.5 97.4 423.6 95 426.1 92 426 91 425.5 90.7 422 90.5ZM130 114.5 132.5 114.8 141 119.5 142.5 119.4 144.3 118 145.5 117.7 148.5 118.9 154 119.2 157 118.2 161.5 119.8 164.7 119.5 165.5 120.5 165.4 124 167 126.5 164.9 130.5 165 131.5 166 132.3 177.5 131.9 181.3 129.5 183 127 185 126.4 187 127.1 190 130.5 193.5 131 199.5 133.3 202 135.3 204 133.2 207 131.2 208.5 131.8 209.5 137 209.2 141 211 143.2 214.5 145.2 215.5 148 215.5 149.6 214.5 149.5 211 145.8 207 146.9 200.5 143.7 189 143.8 186.5 144.7 184 146.5 178.5 146.8 173 148.7 169.5 151.3 168.7 152.5 168 156.5 169 158.3 171 159.4 178.5 158.5 179.4 157.5 179.6 155 184 152 189 153.2 191.5 155.1 194.5 153.8 197.5 153.3 198.8 156 202.5 157 211 155.2 213.5 152.4 215 151.8 218.5 152.5 219.8 155 221 155.9 223 156.4 228.5 156.1 237 160.8 239 160.9 242.5 159.2 248 161.6 250 161.5 252.5 159.8 255 159 256 157.7 256.2 156.5 255.4 154 256.5 150 256 148.2 253.5 149 247.5 154.9 243 155.3 240 153.9 237.5 154.5 232 154 230.4 153.5 229.1 152 228.8 150 231 142.5 230.7 139 231.9 136.5 231.5 133 232.1 130 231.7 128.5 229 124.5 230 123.6 239 121.7 242 122.6 246 122.9 250 122.4 255.9 118.5 257.5 118.1 261.1 122.5 261.8 127 261.5 131 263.3 134 264 137.5 270.5 136.9 276.5 135.4 277.5 135.6 279.5 137.2 283 136.1 286.5 136.8 290 133.6 292 133 297 133.5 299.9 135 301.8 137 304 141.5 303.4 150.5 305.9 153.5 306.5 155 306.1 156.5 304.1 158 303.7 159 305.5 160.5 307 160.5 308.5 159.2 310 158.8 313.5 159.6 320.5 158.9 324.4 159.5 327.5 158.9 332 156.7 336.5 157.3 339 158.6 342 159.2 346 159.3 349.5 161.6 352.5 160.2 357 159.5 360.5 158 364.5 157.1 368 159 373 159 376 159.7 378 160.9 381 161.2 383.5 162.9 387.5 164.4 390 164 392.9 162.5 397 161.3 398 162.2 399.4 166 401.3 169 400.4 173 402.6 176.5 402.2 182.5 403.9 184.5 404.1 186 402.7 189 400.5 188.5 394 188.7 391.6 190.5 384 193.3 381.5 195.3 378.5 195.2 375 196.3 371 195.9 367 198.3 363 197.8 354.5 199.1 352 198.4 348.5 199.5 343.5 199.5 338.5 198.6 334.5 196.5 331.5 197.9 328.5 198.3 322.5 197.9 319.5 198.5 316 197.3 311.5 197.7 308 195.9 305 195.2 302 193.1 293 190.9 288.5 193 285 193.3 282 194.3 274 190 274.2 188.5 276 187.6 280 190.3 283 190.9 284.5 190.2 287.5 187.5 291.5 187 294 185.7 300.5 185 307.5 186.8 308.4 186 310.2 182 310.1 180.5 305 177.4 299.8 176.5 298.2 174.5 296.5 173.6 293.5 174.2 289.5 173.5 287.9 174 285.5 175.8 283 174.9 279 176.1 273.5 173.6 271.5 171 271.1 168.5 270.5 168 269.1 170 266.5 171.4 264.5 171.7 260.5 170.7 256.5 172.3 253 171.5 250.9 173.5 247 174.3 242.5 177.5 241.5 177.5 240 176.2 238 176.1 234.5 178.8 231 178.9 229.8 180 231.2 182 236.5 184.8 238.5 187.7 245.5 188.6 249 189.7 253.5 189.8 258.5 188.2 261.5 186 263.5 185.8 266.5 186.8 272.3 190 271.7 191.5 270 192.7 267 192.4 265 193.3 262 192.5 255.5 194.7 245.5 194.1 243 194.9 237.5 193.4 235 194.5 233.5 194.5 227 192.7 225.5 193.2 223 195.2 220 195.7 208 189.3 206.5 190.1 205.4 192.5 204.5 193.2 202 192.5 199 192.6 195 191.1 192.5 191.8 189.5 193.9 187 191.4 184 191.8 178.5 191 173.5 191.7 167.5 189.4 161.5 189.1 156.5 187.3 155.1 189 151.5 191.5 149.5 196.8 146 199.4 143.5 199.6 139.5 201.3 134 198.9 130 199.1 125.5 197.9 120.5 200.5 118 200.8 116.5 200.1 112.5 195.9 111 195.4 105 195.4 101.5 194.5 98 195.5 95.6 198 90 197.9 87.5 196.7 84.5 196.4 82 192.3 80.5 191.1 75 191.3 73.6 194 67 197.3 64.5 196.7 61.5 197.2 60.4 196 60 192 59 190 54.7 187 49.5 185.2 48.4 184 47.6 181 44.5 179.5 41 176.8 36.5 174.7 33.8 172.5 33 171.1 32.4 166.5 30.4 163.5 27.9 162 28.4 160.5 30 159.6 33 160.7 38.5 160.8 43.5 161.7 47 161.3 50.5 162.1 56.5 161.5 61 160 66 159.8 69.5 160.8 77.5 157.6 84 159.6 88 158.6 92 156.6 93.5 156.5 96.7 157 100.5 158.7 104 162.9 108 165 111.5 165.2 114 167.7 123 169.1 125.5 170.5 132.5 169 136 170.6 139 169.7 149.5 171.5 160.5 170.6 163.7 165 162.8 159.5 163.3 153 161.5 149.5 159.5 150.1 157 152 153.5 151.8 143.5 156.6 139.5 155.7 135.5 156.4 130.7 153 130.2 151.5 130.5 150.5 133.4 149 134.2 148 134.9 142.5 133.8 138.5 133.3 129 131.3 126 130.6 119 128.7 116 128.9 115 129.9 114.5ZM142 147.5 133 150.8 132.3 151.5 132.4 152.5 133.5 153.6 136 154.6 141.5 153.3 144 151.5 144.6 150 144 147.2 142 147.5ZM302.4 166 301.5 167.5 302.5 168.6 303.5 167.5 303.4 166.5 302.5 165.9ZM64.9 172.5 63.9 173 63.4 174 63.7 175 64.5 175.5 65.5 174.5 65.5 173 65 172.5ZM163.8 173 164 174.4 165.3 174.5 165.3 173 164 172.8ZM52.8 181.5 52 182 52.1 183 54 183.6 54.1 182 53 181.4ZM217.5 182 216.9 184 218 185.4 219 184.6 219.2 183.5 218 181.8ZM119.4 187 119.2 188 120 189.3 121.5 189.9 122.5 189.5 122 187.3 121 186.7 119.5 186.9ZM115.9 194 115.7 195.5 117 196.2 117.3 194 116 193.8ZM79 129.9 80 129.8 82.5 131.4 85.5 132.3 87.8 134 89.4 138 88.3 141.5 87 142.1 81.5 141.7 72 149.1 69 149.7 66 149.1 60.7 143.5 60.8 140.5 59.5 137 60.5 133.1 62 132.2 64.5 133.4 68.5 133.2 72 134.6 75 133.3 78.8 130ZM312 149.2 314 150 314 151.4 312.5 151.3 311.7 149.5ZM218 204.9 219 204.9 219.4 205.5 219 206.7 217.6 206.5 217.8 205ZM383.5 216.5 384.5 216.7 385.1 218 382.2 218 383.3 216.5Z"/>
<path fill="#f7b799" fill-rule="evenodd" d="M95 0.3 101.7 0 102.5 1 103.2 0 187.5 0 189.5 3.4 191.3 2.5 191.4 0 216.8 0 218.5 0.8 219.7 0 356.1 0 357.2 2.5 366.5 10 370.2 15.5 375.5 18.3 379.5 23.2 380.3 26 377.4 34 379.3 41 376 42.7 372 41.6 365.5 42.9 362 44.9 358 45.7 353.5 44.1 351.5 42.4 349 41.4 345.5 41 341 36.9 339.5 36.3 336.5 36.9 334 36 332.5 36.1 328.5 38.7 320.5 41.3 316.5 40.6 311.5 40.7 299.5 36.3 294.5 35.5 285.5 35.6 279.5 38.5 275 37.1 270.5 37.8 264 35.3 260.5 35 259.5 33.7 258.5 30.5 254.1 27.5 250 27 247 25.4 243.5 24.5 236 25.4 226.9 28.5 224.6 30 223.5 32.8 219.5 32.2 215 33.5 212.1 31 211.3 27 208.9 24 208 21 206 19.7 204.5 20.3 202.6 22 197 30.3 189 35.4 184 33.4 179.5 33 175 35.2 167.5 35.2 162.5 37.2 158.5 36.4 153.5 38.1 150.6 37.5 144 34.1 139 36.9 136.5 37.2 133.5 35.6 131 35.2 128.5 33.2 123.3 31.5 117 32.2 110 30.1 106 30.9 102 29.8 99 29.9 96 28.8 92.5 29.2 90.8 26.5 88.5 24.9 85.5 25.2 83 24.3 78 23.9 75.5 22.8 70.5 22.4 66.4 24 63.5 28.2 60.8 30.5 58.2 35 56.6 36 49 37.7 46.5 39 44 39.6 36.5 36.8 28.5 38.1 26 38 25 37.5 25 36 27.6 34 29 31.4 34.6 29.5 36.7 27 40.5 24.5 43.5 21 52 16.7 54.5 14.5 56.5 13.9 61 13.7 66 11.4 69 11 72.5 8.7 77 9.4 79.5 9.1 82 7.7 86.5 3.7 89.5 3 92 4 92.3 2 94.8 0.5ZM323.7 4.5 323.2 5.5 324.1 7 326 7.1 327.2 6 326.4 4.5 324 4.3ZM308.6 14.5 305 15.9 303 17.9 301.5 18.5 296.5 17.1 294 15.6 291.5 15.9 287.5 15.2 285 15.5 280 18.1 278.5 17.9 276.5 16.8 275.5 17 275.4 19 276.8 21 277.9 27 279.8 30.5 280.5 33.5 281.5 34 285 32.9 290 33.3 294.5 32.7 300.5 34.6 303.3 36 307.5 36.8 311.5 39.5 313.5 39.7 317 38.7 321 39.5 324 38.6 325.3 37.5 327.5 31.1 332 33.5 338 32.7 340.5 31.4 346 33.4 352 32.6 353.4 31.5 353.3 27 352 24.6 351 24 348 23.8 345 22.4 341 17.8 333 20.6 331.5 23.2 331 23 330.2 20 325 15.1 323 14.8 319.5 15.8 316.5 14.6 309 14.5ZM308 53.9 312 53.8 316.8 57.5 318 60.5 318.8 68.5 322.1 73 322.2 75 321.4 76.5 315 80.5 311.5 79.9 308 77.6 302 75.1 292 76 287 73.6 282.7 68.5 282.6 67 285.7 62.5 289 61 292.5 60.8 295 59.5 298.5 59.1 302 56 307.5 54ZM303.7 58 295.8 64 292 65.1 290.2 67 288 68.3 287.3 69.5 287.8 71 293.5 73.5 298 70.5 300 68.1 304 68.6 305.8 68 306.6 66.5 306.4 63 307.4 60 306.1 58.5 304 57.9ZM141.5 65.2 146 65.8 149 68.7 153 69.4 155.5 68.8 160 66.5 163.9 66.5 165.3 68 165.5 71.5 166.3 75 165 76.4 162.5 77 160 78.7 157 79.8 152.5 79 147.5 79.3 145 80.3 142.6 79.5 139 76.5 134.5 76.2 132.4 75 131.7 73.5 131.7 71.5 133.5 67.8 135.5 66.8 139.5 67.2 141.1 65.5ZM119.5 68.8 121 68.5 126.5 69.4 128.1 71 128.1 72.5 127.2 73.5 125.5 74.1 122.5 74.3 119 73.8 118.1 72.5 119.2 69ZM92.5 78.9 97.5 79.4 99 80.2 100.9 83 101.8 86 104.5 88.3 104.6 89.5 104 90.3 103 90.7 98 90.6 95 92.7 91.9 91 89 87.5 88.4 86 89.1 82 90.5 80 92 79ZM311 82.9 313.5 84 316 87 320.1 89.5 327.5 96.3 329.5 92.6 333.5 91.8 338 89.2 340.5 88.7 346 89.5 349 91 350.7 93 350.6 96 348.4 100.5 345 103.8 343.5 104 339.5 103.1 338.1 103.5 334.6 109 333 110.3 331.5 109.9 329.1 106 327.5 98.7 326.2 100.5 325.6 105.5 325 106.7 320.5 106.1 316 106.3 313.4 104.5 312.2 98.5 308.5 92 308.2 86.5 309.5 84.1 310.8 83ZM310.3 85 309.2 87.5 309.8 92 315 99.5 316 102.8 317.5 103.1 321.4 102 321.8 100.5 320.5 98 321.5 96.9 323.5 97 324 96.5 323.4 95 319.5 91 315 87.9 312.5 85.1 311.5 84.5 310.5 84.8ZM340 90 333.5 93.3 330.5 93.8 330 94.5 329.8 104 330.5 105.7 332.5 107.9 333.5 107.8 335.3 104 337.1 102 341.5 100.9 344.5 101.3 346.5 100.3 347.6 99 349.1 95 348.6 92.5 346 90.6 340.5 90ZM153 84 157 85 160.5 84.9 163.5 86.1 168.5 86.3 170.5 87.2 175 91.9 175 95 177.8 103.5 177.4 105.5 171 108.1 167.5 110.8 165.5 111.2 161.5 109.7 156.1 109 149.9 103.5 142.5 99.3 138.5 99.2 132.5 101.5 130.5 101.1 129.2 100 127.7 95.5 127.5 92.5 131.6 90 134 87.7 139.5 87.3 152.7 84ZM150.7 86 141.5 88.7 136 89.6 134.6 92.5 132.5 93 132.5 94.3 133.5 95.5 136 96.2 137.5 98 143 98.6 153 103.4 158 108 163 108.4 165.5 109.9 167 109.5 168.7 106.5 168 101.5 170.5 99 167.1 92 165 90.7 162 90.9 159.5 90 157.5 90.1 156 89.1 153.5 85.9 151 85.9ZM24 88.8 25.5 88.9 28.3 90.5 30.5 90.9 32 90.9 35 89.4 39.5 89.8 44 91.2 46.8 98.5 46.6 100.5 45 102.3 42 102.9 39.3 102.5 36 100.9 27.5 103.3 18 103.2 14.5 102 10 98.3 3 99.1 0 98.9 0 97.1 3 97.8 9.5 96.9 12 97.8 15 100.5 17 101 27.5 101.9 32.4 100 33.7 98 33.7 96 30 93.1 27 93 23.5 92 19.5 94.9 16.5 95.6 7.5 91.9 4 91.1 0 91.1 0 89.7 4.5 89.6 17 93.7 18.9 93 21.2 90.5 23.6 89ZM422 90.5 425.5 90.7 426 91 426.1 92 423.6 95 420.5 97.4 416 98.3 414.5 98 414.3 96.5 415.6 94 419.1 91.5 421.7 90.5ZM420.6 92 418.1 94.5 417.9 96 418.4 96.5 421.1 96 424.2 92.5 423.5 91.6 421 91.9ZM88 97.5 96 98.2 100.5 97.3 101.6 98 102 99.5 100.5 100.9 84.5 104.2 77.9 107 75 107.1 73.7 106.5 73.6 105.5 75 104 80.5 102.3 87.9 97.5ZM142 147.5 144 147.2 144.6 150 144 151.5 141.5 153.3 136 154.6 133.5 153.6 132.4 152.5 132.3 151.5 133 150.8 142 147.5ZM65 172.5 65.5 173 65.5 174.5 64.5 175.5 63.7 175 63.4 174 63.9 173 64.9 172.5ZM164 172.8 165.3 173 165.3 174.5 164 174.4 163.8 173ZM53 181.4 54.1 182 54 183.6 52.1 183 52 182 52.8 181.5ZM218 181.8 219.2 183.5 219 184.6 218 185.4 216.9 184 217.5 182ZM119.5 186.9 121 186.7 122 187.3 122.5 189.5 121.5 189.9 120 189.3 119.2 188 119.4 187ZM116 193.8 117.3 194 117 196.2 115.7 195.5 115.9 194Z"/>
<path fill="#e58368" fill-rule="evenodd" d="M324 4.3 326.4 4.5 327.2 6 326 7.1 324.1 7 323.2 5.5 323.7 4.5ZM309 14.5 316.5 14.6 319.5 15.8 323 14.8 325 15.1 330.2 20 331 23 331.5 23.2 333 20.6 341 17.8 345 22.4 348 23.8 351 24 352 24.6 353.3 27 353.4 31.5 352 32.6 346 33.4 340.5 31.4 338 32.7 332 33.5 327.5 31.1 325.3 37.5 324 38.6 321 39.5 317 38.7 313.5 39.7 311.5 39.5 307.5 36.8 303.3 36 300.5 34.6 294.5 32.7 290 33.3 285 32.9 281.5 34 280.5 33.5 279.8 30.5 277.9 27 276.8 21 275.4 19 275.5 17 276.5 16.8 278.5 17.9 280 18.1 285 15.5 287.5 15.2 291.5 15.9 294 15.6 296.5 17.1 301.5 18.5 303 17.9 305 15.9 308.6 14.5ZM330.6 26.5 329.4 27 329.5 27.5 330.5 28.5 332 28.6 332.5 27 331 26.4ZM320.4 32 320.5 32.6 321.5 33.2 322.5 33.1 323.1 32.5 322 31.6 320.5 31.9ZM304 57.9 306.1 58.5 307.4 60 306.4 63 306.6 66.5 305.8 68 304 68.6 300 68.1 298 70.5 293.5 73.5 287.8 71 287.3 69.5 288 68.3 290.2 67 292 65.1 295.8 64 303.7 58ZM310.5 84.8 311.5 84.5 312.5 85.1 315 87.9 319.5 91 323.4 95 324 96.5 323.5 97 321.5 96.9 320.5 98 321.8 100.5 321.4 102 317.5 103.1 316 102.8 315 99.5 309.8 92 309.2 87.5 310.3 85ZM312.9 90.5 314.1 95.5 316.5 96.5 318.5 95.9 319.2 94 318.4 92.5 315 90.4 313 90.3ZM151 85.9 153.5 85.9 156 89.1 157.5 90.1 159.5 90 162 90.9 165 90.7 167.1 92 170.5 99 168 101.5 168.7 106.5 167 109.5 165.5 109.9 163 108.4 158 108 153 103.4 143 98.6 137.5 98 136 96.2 133.5 95.5 132.5 94.3 132.5 93 134.6 92.5 136 89.6 141.5 88.7 150.7 86ZM148.5 89.5 145 89.9 143 90.8 141.5 92.5 140.9 95 148.5 97.7 153.5 96.7 157 97.1 158.1 96.5 158.6 95.5 158.4 94.5 155.5 91.6 150.5 89.7 148.5 89.5ZM340.5 90 346 90.6 348.6 92.5 349.1 95 347.6 99 346.5 100.3 344.5 101.3 341.5 100.9 337.1 102 335.3 104 333.5 107.8 332.5 107.9 330.5 105.7 329.8 104 330 94.5 330.5 93.8 333.5 93.3 340 90ZM0.5 91.1 4 91.1 7.5 91.9 16.5 95.6 19.5 94.9 23.5 92 27 93 30 93.1 33.4 95.5 33.7 98 32 100.3 28 101.8 16.5 100.9 15 100.5 12 97.8 10 97 3 97.8 0 97.1 0 91.1ZM2.3 93 1.7 93.5 1.5 94.5 3 96.1 9.3 95 7 93.3 2.5 92.9ZM23.7 95 22.1 96 15.6 97.5 15.2 98 17 99.4 23.5 100.3 28.5 100.1 31.2 98.5 31.4 97 30.5 95.9 25 94.5 24 94.8ZM421 91.9 423.5 91.6 424.2 92.5 421.1 96 418.4 96.5 417.9 96 418.1 94.5 420.6 92Z"/>
<path fill="#cb4942" fill-rule="evenodd" d="M331 26.4 332.5 27 332 28.6 330.5 28.5 329.5 27.5 329.4 27 330.6 26.5ZM320.5 31.9 322 31.6 323.1 32.5 322.5 33.1 321.5 33.2 320.5 32.6 320.4 32ZM148.5 89.5 150.5 89.7 155.5 91.6 158.4 94.5 158.6 95.5 158.1 96.5 157 97.1 153.5 96.7 148.5 97.7 140.9 95 141.5 92.5 143 90.8 145 89.9 148.5 89.5ZM313 90.3 315 90.4 318.4 92.5 319.2 94 318.5 95.9 316.5 96.5 314.1 95.5 312.9 90.5ZM2.5 92.9 7 93.3 9.3 95 3 96.1 1.5 94.5 1.7 93.5 2.3 93ZM24 94.8 25 94.5 30.5 95.9 31.4 97 31.2 98.5 28.5 100.1 23.5 100.3 17 99.4 15.2 98 15.6 97.5 22.1 96 23.7 95Z"/>
<path d="M63.2 22.1 68.8 20.9 70.1 21.2 69.8 20.2 68.9 18.9 74.4 17.2 82.1 15.5 85.4 16.1 88 16.7 93.1 17.3 96.4 18.1 99.8 17.4 103.8 17 106.6 17.6 110.4 17.2 114.3 18.3 117.8 19.3 123 19.3 128.1 19.5 131.4 18.7 134.1 17 136.6 18.1 139.2 18.7 141.3 17.6 142.3 19.3 141.5 21 137.4 21.2 135 23.4 131.7 24.2 126.5 27 123.8 29.4 124.4 30.7 126.1 32.5 129.2 34.8 131.9 35.7 131.1 37.9 132.7 39.8 134.1 38.3 135.3 35.6 138.5 33.2 139.8 30.7 140.1 28.2 141.7 26 145.3 26 147.3 27.3 147.4 30 148.9 30.9 152.4 28.4 153 31.3 153.7 33.2 154.4 35.1 156.4 36.3 157.2 38.5 155.4 39.8 151.6 41.2 148 41.2 145 42.6 142 43.5 139.8 45.4 141.9 43.9 145.9 42.8 146.9 43.5 145.9 44.4 145.8 45.4 146.4 46.2 148.7 47.2 150.3 46 150.3 47 148.4 48.1 146.1 48.7 143.3 49.9 144 48.6 145.4 47.7 143.5 47.8 141.8 48.7 138.8 49.8 137.7 51.3 138 52.3 136.2 52.9 133.2 53.8 132.6 55.4 131.3 56.2 130.4 57.7 129.5 58.8 129.4 60.6 128.1 61.8 125.6 63.1 122.5 65.2 121.3 67.2 121.3 69.1 121.7 72.6 121 74.6 120.2 74.5 119.6 73.3 118.9 71.3 119.2 69.5 118.1 68 116.3 68.4 115.4 67.6 113.1 67.6 111.9 67.9 111.9 69.4 110.4 69.4 108.3 68.7 106.6 68.6 104.6 69.8 102.5 71.1 101.4 73.6 100.7 76.2 100.2 78.7 100.6 80.6 101.4 82.7 103.3 84.1 106.3 83.5 107.5 83.1 108.6 80.6 111.5 79.6 112.6 79.9 111.8 82.3 111 83.6 110.2 87 112.9 87.1 115.2 87.3 115.9 88.4 115.4 91.7 115 93.7 115.7 95.4 117.4 96.7 119.2 96 121 95.9 122.4 97.1 123.3 97 124.5 95.8 124.7 94.3 126.3 93.5 128.3 92.7 129.5 92 130 93.7 129.1 95.8 128.9 93.2 131 93.1 132.9 94.3 135.5 94.3 138.3 94.1 140 94.3 141.8 95.4 142.9 97.2 144.6 99.1 146.3 100.5 148.7 100.6 151.1 101.1 152.8 102.9 153.9 105.9 154.5 107.2 153.9 108.1 156.3 109.4 158.1 109.5 161.1 111.9 164.1 112.3 167 112.6 169.4 114.7 171.8 115.7 172.7 118.6 172.3 120.7 170.8 122.7 169.3 125.4 168 127.4 168.2 132.1 167.5 135.2 166.3 138.2 164.6 139.5 162.1 139.9 159.5 141.5 158 143.5 158.2 146.6 156.9 148.9 155.8 151.1 154.7 153 153.8 154.6 152.9 155.5 150.8 155.5 148.3 154.3 150 156.6 150.8 158.1 150.3 160 148.4 160.6 145.4 160.8 145.9 163 143.1 163.7 144.8 165 144.2 165.7 144.2 168.4 142.5 170.3 144.7 172.3 143.8 174.9 143 176.2 144.6 178.4 143.6 178.8 143.1 180.1 142.3 180.5 139.5 178.8 137.4 176.2 135 173 135 170.3 134.9 167 134.5 164.8 133 161.7 132.4 158.8 132.9 156.3 133.1 153 132.4 148.9 132.1 146.2 132.4 142.9 132.2 138.2 131.8 133.5 130.4 132.2 126.9 129.4 124.1 127.1 122.4 124 120.4 120 118.5 117.3 117.6 116 117.5 114.2 118.7 113 119.1 111.9 117.9 111 118.5 109.1 118.9 107.5 120.3 106.4 121.9 103.4 122.2 101.1 121.7 98.7 121 97.1 119.8 96.6 118.6 98.5 117.4 98.2 115.9 97.4 114.5 95.8 112.6 95.1 112.6 93.7 111.5 92 110.6 90.9 108.4 90.4 106.1 89.7 104.6 87.7 102.9 86.7 100.5 87.4 98.3 86.6 95.5 85.4 92.8 83.9 90.7 81.9 91.3 79.6 91 78 89.5 75.6 88.1 74.1 86.9 71.5 85.5 69.5 85.2 66.8 83.7 65.7 83.6 68.2 84.7 70.2 85.5 72.9 86 75.6 86.3 77.6 85.3 76.5 84.1 75.2 84.6 73.1 82.7 71.5 82.9 69.5 81.8 67.5 81.5 65.7 81.4 64.7 80.8 63.1 79.7 62.4 78.6 62 78.4 60.6 78.3 59.3 78.2 57.9 78.1 57 78.2 55 78 54.2 79.3 52.3 79.8 50.7 81.9 48.1 82.9 46.4 83.9 43.6 85 43.9 85.5 44.8 86.4 42.8 85.5 41.5 84.5 40.7 83.4 40.2 84.1 38.5 83.8 37 83.9 35.7 84 34.4 84.2 32.5 84.3 30.9 82.3 30.9 81.5 29.8 80.3 29.1 78.2 28.8 76.4 27.8 73.9 28.4 70.9 29.4 68.8 29.8 71.7 27.8 69.2 28.8 66.4 30 64.3 31.5 61 32.8 58 33.8 54.8 34.4 52.2 35.1 49.9 35.7 53.6 34.2 57 33.3 60.5 31.9 62.8 30.4 61 30.5 58.4 30.5 59.9 29.1 58.7 28.4 58.8 27.3 60.3 26 62.8 24.9 65.4 24.6 67.7 23.5 66 23.4 64.2 23.4 63.3 23 63.2 22.1M115.2 79.1 117.5 77.7 119.3 77.5 121 77.6 123.3 78.5 125.7 80.3 127.4 81.4 123.8 81.8 123.2 80.7 122 79.6 119.1 79.1 117.3 79.5 115.2 79.1M126.9 83.6 128.9 81.8 131.6 81.9 133.9 83.5 132 84.1 130.2 84.7 126.9 83.6M122.3 83.8 124.6 84.2 123.5 84.6 122.3 83.8M135.3 83.8 137.1 83.9 135.2 84.3 135.3 83.8M124.1 72.6 125.2 72.9 124.3 74.9 125.4 75.6 126 77.2 123.9 75.6 124.1 72.6M27.9 78.7 28.6 78.9 30.3 79.9 32.1 80.6 32.6 81.6 31.8 83 31.8 81.9 31 80.3 29.6 79.6 27.9 78.7M158.5 8.2 161.4 9.2 161.9 10.5 166.7 10.5 168 12.1 167.7 14.8 168.1 16.4 169 18.1 166.4 21 167 22.8 167.9 25.2 168.6 27 171.2 28.8 173.2 28.7 174.8 26.4 177.2 23.4 180.4 21.8 185.1 19.3 190.9 18.7 194.3 17 195.5 15.3 194.1 14.2 197.8 12.1 198.8 9.5 199.8 8.5 199.1 7 202.2 6.1 205.3 5.3 199.7 4.8 193 3.8 186 3.8 178.5 4.4 171.1 4.8 169.1 5.5 164.9 6.1 160.3 7 158.5 8.2M192.2 22.2 193.9 21.2 196.5 21.6 199.7 21 201 21.6 201.7 22.8 200.3 23.6 197.4 24.7 194.7 24.2 193.3 24 194.1 23.5 192.3 22.9 192.2 22.2M148.7 12.9 151.3 13.9 154 15.9 155.9 17 155.7 18.7 158.3 20.4 158.9 21.2 156.4 22.8 154.9 24.4 153.5 25.8 150.7 25.3 149 24.3 147.7 23.4 145.3 23.6 143.1 23.4 146.4 21 150 19.5 149.9 18.3 146.9 17.6 144.8 17 141.2 17.2 138.8 15.9 141.8 13.4 145.3 13.1 148.7 12.9M114.7 15.5 118.9 13.7 122 13.5 127 13.5 126.3 15.3 128.2 16.4 126.3 17.6 122.3 18.1 115.7 18.7 113.4 17.6 114.7 15.5M109.6 14.9 112.6 13.1 117.2 12.1 119.1 13.1 116 14.8 113.1 15.5 109.6 14.9M152.2 10 156.7 8.5 159.9 7.5 165.5 6.3 169.7 4.8 164.6 4.2 157.8 4 149.5 5 145.3 6.6 140.7 8.5 143.7 9.9 148 10.2 152.2 10M149.6 12 143 12.1 140.3 11.5 141.6 10 147.2 9.5 150.6 10 149.6 12M130.6 11 125.9 11.5 121 11 124 10 129.9 9.7 130.6 11M132.2 15.3 130.3 14.2 130.6 13.1 133.6 12.6 135 13.7 132.2 15.3M138.9 14.8 135.8 13.7 138.5 12.6 140.7 12.8 138.9 14.8M136.3 11.5 133.7 11 136.4 9.5 138.9 10 136.3 11.5M146.8 8.5 142 8 143.6 6.1 147.9 5.7 146.8 8.5M140.1 24.6 134.6 24 137.1 21.6 139.4 22.2 140.1 24.6M151.8 44.6 156 42 157.4 39.4 158.5 42.6 158.7 44.8 157.5 46 155.5 45.4 151.8 44.6M82.2 40.5 84.5 41.5 85.3 43.6 84 42.9 82.2 40.5M250.7 66.6 252.8 66.4 253.4 64.8 253.9 62.8 254.1 61.2 254 59.3 252.3 59 250.7 59.8 249 59.2 246.8 59.6 245.1 59 244.1 57.7 243.1 55.8 242.6 54.3 243.4 53.9 244.5 53.4 245.5 53.3M242.4 53.7 240.1 53.8 238.9 54.1 238.8 56.1 239.4 57.4 238.4 59.4 237.8 58.3 237.2 56.7 236.1 55.3 235.1 53.4 234.8 51.8 233.4 50.7 231.1 50.1 230 48.7 228.9 48.1 228.4 47 227 47.5 227.3 49.4 229.1 51.4 230.8 52.3 231.9 53.1 234.2 54.6 232.6 55.5 232.2 56.7 231.3 57.4 231.5 55.4 230.4 54.5 229.2 53.4 227 52.2 225.3 50.7 224.1 49 222.5 49.4 221 50.6 219.3 50.3 217.7 50.3 217.4 52.1 216.1 53.1 214.7 53.9 213.7 55.4 213.9 56.5 213.1 57.9 211.5 59.2 208.9 59.3 207.7 60.1 206.7 59 205.6 58.5 204.1 58.8 204.2 57 203.5 56.3 204.2 54.5 204.4 52.7 204 50.7 205.4 49.8 208.6 50.1 212 50.2 212.7 48.3 212.7 46.8 211.6 45.3 209.2 44.4 209.1 43.5 210.8 43.1 212.4 43.2 212 41.9 212.7 42.3 214.2 42.2 215.5 41.2 215.8 40.2 217.5 39.7 218.2 38.9 218.7 37.8 219.5 37.2 221 37 222.5 36.9 222.8 36 222.4 34.7 221.9 33.2 222.3 32.4 224.2 31.7 224 33 224.6 33.6 223.7 34.7 224.2 35.8 225.4 36.2 226.9 35.8 228.5 36.5 230.4 35.7 232.3 35.3 233.7 35.8 234.8 34.8 234.5 33.2 234.9 32 235.8 31.7 237 32.5 237.6 32 236.6 30.7 236.4 29.8 238.7 29.4 240.7 29.4 242.4 28.8 240.9 28.2 239 28.3 236.3 28.9 234.8 28.4 234 27 233.8 25.4 235 24.2 236.8 22.8 236.6 22.1 235.4 21.8 233.7 22.1 233.1 23 231.4 24.4 230.4 25.8 230.1 27.2 230.3 28.1 231.8 28.8 231.5 29.7 230.1 30.7 230 32.2 229.5 33.7 228.2 33.7 226.8 34.6 226.3 33.4 225.4 31.8 224.7 30.3 223.9 29.2 223.1 30 221.7 31.2 220.2 31.2 219.2 30.3 218.9 28.8 218.7 27.6 218.9 26.1 220 25.6 221.3 24.9 223.1 24 224.3 22.9 225.1 21.6 225.9 20.2 227 19 227.8 18.3 229.4 17.4 231 17 232.7 16.5 234.2 15.9 235.9 16 237.6 15.8 239 16.4 240.4 16.8 242.3 17.7 245 18 249 19.5 250.3 20.6 249.2 21.3 245.8 20.6 244.2 21.1 245.7 23.4 247.8 24.2 248.4 23.4 246.9 22.8 250.3 23.4 252.3 21.3 253.2 21 252.1 19 254.2 19.3 256.1 19.7 260.1 18.9 261.8 18.8 265.2 18.7 266.4 17.6 269 17.7 270.9 18 272.6 18.7 273.6 18.9 271.3 17.6 270.6 16.1 271.2 15 271 13.8 272.4 13.7 274.1 14.4 274.7 15.9 276 16.8 276.7 18.2 277.9 18.7 278.5 20.2 278.3 21.2 280 20.4 278.9 18.3 277.6 17.9 276.8 16.2 275.1 15.2 276.3 14.6 277.2 15.4 278.4 15.7 280.6 15.9 279.1 14.4 280.4 14 280 13.1 283.4 13.1 284.4 12.6 283.5 11.4 285.4 11 287.9 10.4 290.3 10.4 291.5 9.5 294.1 8.8 295.8 9.2 295.6 9.6 298.3 9.9 300.5 9.8 303.3 10.4 304.8 11.5 304 12.6 302.8 12.6 305.2 12.9 307 13 309.6 13.1 312.7 13.7 314.6 12.9 317.3 13.1 319.7 13.7 321.5 14.8 323 15.7 325.1 16 325.6 15.4 327.9 15.2 330.5 15.3 329.9 14.3 331.2 14 335.2 14.4 339.6 15.2 342.4 16 345.4 15.8 348.5 16.1 350.6 17 353 17.4 357.4 17.6 359 16.9 361.9 17.1 364.6 17.2 369.5 18.1M58.4 18.1 59.4 19.7 61 20.4 62 20.6 62.5 21.5 60.4 22.2 59 22.2 56.9 23.4 55.1 23.4 54.1 22.2 51.8 22.5M376.1 22.5 375.6 23.1 374.1 23 378.9 25.2 378.9 25.8 376.9 26.4 376.3 27 375.8 28.8 371.5 28.8 370.2 28.9 370.4 30 370.6 31.3 372.5 31.9 373.4 33.6 374.2 35.1 374.7 37 374.1 37.9 374.4 40.2 372.3 38.3 368.7 35.1 365.9 32.5 366 31.5 367.2 31.3 366.5 28.6 364.4 27.6 362.9 26.7 360.7 26.8 361.4 29.1 359.5 29.9 356.3 29.7 353.5 29.7 351 29.8 349.7 30.7 349.2 33.2 350 35.7 353.3 36.1 356 37.6 358.6 40.2 360.4 43.5 359.7 45.4 359.4 47.4 359 50.1 357.5 51 355.8 51 355.4 51.7 355.4 53.4 356 54.7 354.9 56.1 357.5 58.2 358.6 60.8 358 61.6 356 62.2 355.2 60.8 354.8 58.8 353.7 57.8 352.3 57.7 351.2 55.4 350.2 54.9 348.3 56.1 347 55.4 347.5 54.1 345.9 53.7 344.9 54.7 343.7 55.8 343.9 56.9 345.8 58.3 347.5 58.1 349.9 58.5 348.8 59.7 347.7 61.2 349.3 62.8 350.8 64.8 352.6 66.8 352.3 67.9 353.4 68.8 353.3 70.5 352.6 71.9 352.1 73.6 351.4 75.2 349.7 76.9 347.6 78 346.1 78.7 344.1 79.5 342.7 80 342.2 81.1 341.5 79.6 339.7 79.5 338.4 80.8 337.7 83 338.9 85 341.2 87.3 342.7 90.4 343 92.9 341.7 94.1 340 95.6 338.3 97 337.9 95.1 336.3 94.3 335 92.1 333.7 91.5 332.9 90.5 331.9 90.8 331.3 93.7 331.4 95.8 332.8 97.4 333.1 99.1 334.3 99.4 335.6 100.5 336.7 102.4 336.8 104.5 337.8 106.7 336.9 106.8 335.1 105.2 334 104.6 333.3 102.5 332.8 100.5 332.2 99.8 330.7 97.9 330.3 96.2 330.7 94.4 330.2 91.7 329.1 89 328.5 86.3 327.2 86.1 326 87.3 324.8 87 324.7 85 323.8 82.3 322.5 81.6 321.5 80.3 320.7 78.5 319.3 78.3 317.5 79.2 316.4 79.2 315.2 80.3 314.9 81.6 313.3 82.6 312.3 83.9 310.6 86.2 309.4 87.3 308.3 88 308.5 90.6 308.4 93.1 308.3 94.7 307.5 96 306.6 96.6 305.8 97.6 304.7 96.6 304.1 94.8 303 92.7 302.2 91.1 301.2 88.6 300.1 86.3 299.3 83.2 298.9 81 298.5 79.6 298.3 78.5 296.1 80.6 294.4 78.5 295.5 78 293.9 76.9 293 76.6 292.1 76.2 291.5 75 290.7 74.4 288.5 74.6 285.6 74.6 285.1 74.8 282.7 74.4 280.3 74 279.6 72.6 278.7 72.1 277.9 72.5 276.2 72.9 274.3 71.5 273.1 71 272 69.5 271 68 269.6 68 268.8 68.4 269.4 70.2 270.6 71.8 271.8 72.9 272.3 74.4 272.7 75.2 273 73.4 273.6 74.6 273.6 75.8 275.4 76 277.1 76 278.2 74.6 278.8 73.3 279.2 75 280.5 76.5 282 76.8 283.5 78.3 283 79.7 282.2 81 281.5 82.3 281.4 83.1 280.2 83.8 278.8 84.9 278.5 85.7 276.3 86.2 275.1 87 272.3 88.8 271.1 89.7 269.4 90.2 267.7 90.6 266.5 91.5 265.3 91.6 264.9 90.6 264.3 88.6 264 86.6 262.9 84.9 261.6 82.7 260.1 81 259.5 79.3 258.6 76.9 257.3 75.3 256.2 73.6 254.9 71.5 254.1 70.7 253.6 69.5M253.8 68.8 253.3 70.9 252.4 70.3 251.2 68.3 250.7 66.6M245.6 53.1 244.7 52.7 244.2 51.4 243.9 49.9 244.6 49 245.5 47.8 246.4 46.1 247.5 46 248.4 46.8 249.5 47.3 248.6 47.7 249.8 48.7 251.8 48.1 252.8 47.7 251.7 47.4 250.9 46.4 254.2 45.2 254.1 46.1 253.7 46.8 254.3 47.4 255.1 48.7 256.3 49.7 257.6 50.7 259 52.1 259.1 52.7 257.5 53.4 255.4 53.4 253.7 53 252.1 52.1 250.3 52.1 247.9 53.3 245.6 53.1M264.3 49.5 264.4 47.3 265.3 46.9 266.3 46.4 267.8 45.4 269.8 45.8 270.3 47.7 268.8 48.7 268.5 49.4 269.5 50.7 270.8 51.4 271.3 53 272.8 53.9 272.1 55 273.3 56.7 273.8 58.3 271.3 59 269.4 58.2 268.1 57.4 267.8 56.3 268.1 55 268.1 54.1 266.7 52.3 265.1 50.7 264.3 49.5M250.7 66.6 251 68.3 251.8 70.2 252.8 71.8 253.8 73.6 255.1 76 255.5 77.9 256.9 79.1 257.4 82.3 258 83.9 259.2 84.6 260 87 261 88.1 262.9 90 264.1 91.2 265.1 92.5 264.8 93.7 266.6 94.6 268.3 94.1 271.3 93.5 273.3 92.8 274.4 92.7 274.3 94.6 274 96.2 272.8 99.1 271.5 101.6 270 103.7 268 105.9 265.6 107.5 263.9 109.5 262.2 111.9 261.2 113.8 260.5 115.5 260 117.3 260.6 118.9 260.7 121.3 261.7 123 261.9 125.5 261.8 128.1 261.3 130.1 259.1 131.8 257.3 132.6 255.8 134.9 254.6 135.5 255.1 138.2 255.1 140.6 253.9 141.9 251.8 143 251.7 144.9 251.2 146.9 249.7 148.3 248 150.8 246.2 152.4 244.4 153.8 242.7 154.3 240.4 154.2 239.3 154.3 237.5 154.9 236.4 155.4 235.1 154.9 234.6 154 234.6 152 233.9 149.9 232.9 147 231.6 144.9 231.2 142.9 230.7 139.1 229.5 136.5 228 133.5 227.7 130.8 228.3 128.1 229.9 125.2 230.1 123.1 229.3 120.7 228.5 118 228.4 116.6 228.2 115.1 227 113.7 225.5 111.8 224.6 109.9 225.4 107.9 225.2 105.9 225.6 104.2 225 103.3 224 102.5 222.6 102.6 221.1 102.8 219.9 101 218.7 99.9 216.9 100.1 215.3 100.5 213.4 101.3 211.6 102.1 209.8 101.7 208.3 101.6 205 102.6 203.3 102.1 200.9 100.2 199.1 98.6 198.3 96.8 196.8 94.8 195.6 93.1 194.2 91.9 194.1 90.4 193.3 88.8 194.6 87 195 85 195 82.3 194.4 80.8 194.2 79.7 195 77.2 196 75.6 197.2 73.3 198.8 71.4 200.8 70.5 202.5 69.1 202.9 67.5 203.2 64.8 204.6 63.6 206.3 62.8 207.2 60.6 208 60.2 208.9 61.2 211.1 61.3 212.8 60.5 214.5 59.8 216.2 59.3 217.8 59 219.5 59 221.2 58.6 222.8 58.9 224.5 58.3 225.4 58.8 226.2 59 225.8 60.4 226.3 61 225.7 62.1 225.4 63.1 226.6 63.9 228.1 64.4 229.2 64.4 231.2 65.1 231.8 66.1 233.3 66.8 235 67.5 236.3 67.5 236.7 66.6 236.6 65.3 237.7 64.4 239.4 64.4 240.6 65.2 242.3 66 244.6 66.3 246.9 67 248.6 66.1 250.7 66.6M272.2 124.7 273.1 128.1 273.2 129.8 272.4 131.4 271.7 133.5 270.6 136.1 269.5 139.5 268.4 142.1 266.3 142.9 265.1 142.2 264.5 140.2 264.3 138.2 265 136.8 265.8 134.8 265.5 132.5 266.1 130.4 268.3 129.5 269.5 128.1 270.4 126.9 271.5 125.4 272.2 124.7M208.1 41.4 209.8 41.1 211.9 40.6 213.9 40.5 215.4 40 214.9 39.2 215.7 38.1 215.2 37.8 214.3 37.9 214.2 37 213.5 35.7 212.5 34.9 212 33.9 211 33.8 211.8 33.2 212.2 31.9 210.6 31.7 211.1 30.5 209.1 30.5 208.5 31.5 208.5 33 207.9 33.4 208.5 34.7 209.3 34.6 209 35.3 210.5 35.2 210.8 36.2 210.9 37.1 209.4 37.2 209.7 38.4 208.7 39.2 209.9 39.4 210.9 39.7 209.7 40 208.1 41.4M207.9 38.7 207.9 37.2 207.7 36.3 208.5 35.7 207.8 34.8 206.5 34.7 205.5 35.5 205.5 36.1 204 36.1 204.1 37.2 204.3 38.3 203.5 39.2 204.3 39.6 205.8 39.3 207.3 38.8 207.9 38.7M222.3 8 224.6 8.5 226.9 10 228.6 9 229.9 8 234.2 7.5 232.3 6.3 227.1 6.1 222.1 6.9 222.3 8M258 15.4 259.9 14.2 259.9 12.1 262.1 10.6 265.4 9.8 267.5 9.5 264.8 11 261.8 12.6 260.6 14 262.5 15.9 258 15.4M285.3 7.5 289.4 7.8 291.4 7 286.6 5.7 283.5 6.1 285.3 7.5M250.9 6.6 256.4 6.1 259 5.7 253.6 5.3 248.9 5.9 250.9 6.6M322.8 11.5 328.4 12.6 331.6 11.5 325.9 10.5 322.8 11.5M63 15.3 64.1 15.7 65.7 15.2 64.2 14.9 63 15.3M364.1 15.3 364.9 15.3M308.6 95.4 310.1 97.1 310.9 98.7 310.4 100.2 309.1 100.5 308.5 98.5 308.6 96.4 308.6 95.4M367.8 52.9 369.8 55.3 369.7 57 370.5 58.8 371.3 60.5 370.5 61.2 369.9 61.8 367.9 62 367.7 62.4 366.9 63.5 365.5 62.1 364 62.4 362.5 62.9 361.1 62.4 362.1 60.8 364.3 60.6 365.8 60.4 365.7 58.3 367.5 58.1 368.3 56.5 366.8 53.8 366.8 53.1 367.8 52.9M366.1 52.7 365 50.5 364.3 47.5 366.2 48.5 368.9 49.5 370.7 50.3 369.5 52.1 366.9 51.4 366.8 52.5 366.1 52.7M360.3 63.1 361.6 62.9 363 64.1 363.1 66.4 362 66.6 360.6 64.5 360.3 63.1M363.5 63.9 365.1 62.5 365.9 63.7 364.3 64.5 363.5 63.9M364.3 46.8 363.5 44.8 361.6 42.8 359.6 40.2 356.5 36 359.1 38.3 361.2 40.9 363.7 42.8 364.7 45.4 364.3 46.8M353.8 74.6 355 74.9 354.8 78.3 354.5 79.1 353.4 77.6 353.8 74.6M340.9 82.7 342.7 81.5 343.6 82.2 342.9 83.6 341.9 84.1 340.9 82.7M355.1 83.6 357.1 83.6 357.4 85.9 356.9 87.7 358.3 89.4 360.2 91.1 359.3 90.1 357.1 90 356 89 354.9 87.7 355.2 86.3 355.1 83.6M358.6 99.1 360.3 98.1 360.6 97 362.3 95.4 363.6 97.1 363.9 99.1 362.9 100.7 361.3 99.9 358.6 99.1M358.1 92.7 359.4 94.4 360.6 94.8 361.9 93.5 360.7 91.7 358.1 92.7M352.8 97.2 355.4 94.4 355.1 93.7 352.8 97.2M343.5 106.5 344.3 105.9 345.8 106 348.2 104.2 349.5 102.4 351 101.4 352.1 99.8 352.9 99.1 353.9 100.5 355.4 101.6 354.3 102.5 353.9 104.2 354.2 107.2 353.6 109.2 352.4 111 352.3 113.3 350.1 113.9 348.2 112.6 346.4 113 345 112.3 344.7 110.2 343.7 108.5 343.5 106.5M327 101 329.7 101.6 331.2 103.4 333.2 105.6 334.6 106.3 336.4 108.3 337.5 109.9 338.5 111.5 339.9 112.7 339.6 116.4 338.1 116.5 336.2 114.9 334.5 112.6 333.3 109.9 331.9 107.9 331 106.3 329.4 104.1 327.9 102.5 327 101M338.7 117.7 339.7 116.5 341.5 116.6 342.6 117.3 345 117.8 347.3 117.8 349.7 118.9 349.4 120.3 346.6 119.7 344.3 119.5 341.9 119 340.2 118.5 338.7 117.7M350.2 120 351.4 119.7 352.5 120 354.9 120 356.7 120 359.4 119.6 361.4 119.9 364.4 119.7 361.9 120.9 360 122.4 358.4 121.3 354.9 120.7 351.3 120.7 350.2 120M355.6 116 355.9 113.3 355.1 112 356.3 109.2 356.6 107.7 357.6 106.8 359.5 107.2 361.9 106.7 362.7 106.4 360.1 108 357.2 107.9 358.3 109.8 360.5 109.8 358.4 111.1 359.5 114.6 358.7 115.7 357.5 112.3 356.8 116 355.6 116M365.4 105.6 366.7 107.2 366.1 109.6 365.5 107.9 365.4 105.6M366 112.7 369.3 112.6 368.9 113.7 366 113.4 366 112.7M369.6 110.3 371.4 109.1 373.6 109.8 374.3 113 377.3 110.6 379.1 111.5 381.5 112 383.8 113.1 385.5 113.7 387 115.3 389.2 116.6 388.8 118.6 389.6 120 390.9 121.7 392.3 122.5 390.8 122.7 388.5 122 386.9 120 385.2 118.8 383.9 119.9 383.6 120.9 382.1 120.9 380.9 120.8 379.2 119.6 377.4 119.9 378.2 118 377.5 115.5 374.8 114.5 372.5 113.8 371.7 113 370.8 112.3 371.4 111.2 369.6 110.3M390.2 116 392.5 116 394.4 114.3 393.7 116 391.9 117 390.2 116M397.8 117.3 400 119 403.4 120.7 404.9 122.7 402.1 121.3 397.8 117.3M346 138.2 345.6 140.9 345.5 143.5 345.5 146.2 345.4 148.3 344.5 151 344.3 153.5 343.2 154.6 344.5 155.7 346.2 155.7 348.9 154.3 351.4 154.3 354 153 355.9 152.3 357.7 152 360.3 151.2 362.7 151 364.1 151.6 365.4 152.7 365.9 155.1 367.2 154.3 369.2 153.1 368.2 155.9 366.8 156.6 368.8 156.5 369.3 157.7 369 159.7 370.2 160.1 372.1 160.8 374.4 159.4 375 161 377.5 159.6 380.1 159 381.4 157 383.3 155 384.5 153.6 386.6 152 388.4 149.6 389.9 147.3 390.3 144.9 390.8 142.6 389.8 141.1 389.2 139 387.8 138.6 387.8 136.8 387.3 135.7 385.4 134.4 385.1 132.8 384.8 130.4 385 128.5 383.4 127.4 383.3 125.4 382.4 123 381.3 125.4 380.7 128.1 380 130.8 379 132 377.5 132.1 375.8 130.5 374.5 129.4 373.4 128.5 374.3 126.7 375.4 125 374.2 125 372.2 124.4 370.6 124 369.2 125 367.4 125.9 366.8 128.1 364.8 128.7 363.9 127.4 362.6 127.7 361.2 129.1 360 130.6 358.9 131.7 357.3 132.5 356.4 133.9 354.8 135.1 352.9 135.5 351 136.4 349.1 136.8 347.3 137.9 346 138.2M371.8 163.3 373.5 163.8 375.6 163.6 374.4 165.3 372.7 166.6 370.8 167.2 371.2 165.3 371.8 163.3M407.9 154.9 408.9 156.3 408.9 158.3 409.4 159.3 411.7 159.3 409.9 161 408.5 161.4 407.6 162.4 404.3 164.5 404.1 164 405.6 162.4 405.1 161.3 406.5 160.5 407.9 158.3 407.7 157.3 407.9 154.9M402.5 163 403.4 164.4 401.7 165.7 399.5 167.2 397 168.4 394.9 170.1 392.8 171.1 391.2 171.1 390.2 170.3 391.4 169.3 394.3 167.7 397.7 166.4 400 164.8 401.6 163.4 402.5 163M405.3 135.7 408.2 138.4 407.6 138.6 405.3 135.7M421.8 132.1 423.2 132.1 422.7 133 421.6 132.8 421.8 132.1M75.4 208.1 84.2 208.6 92.8 209.1 96.2 208.9 97.6 207.6 98.8 206.1 101.9 205.6 108.9 204.8 116.3 204.3 124.9 204.7 132.2 204 135.3 202.9 144.3 203.7 149.8 203.4 153.7 203.2 155.6 202.3 156.2 200.7 157.1 197.8 156.9 194.9 159.2 193.1 161.6 192.3 161 194.9 159.3 196.1 161.2 199 163.4 202.9 164.8 205 162.7 206.6 159.6 207.6 156.7 208.6 161.8 210.1 170 211 177 210.5 179.9 209.1 187.2 208.6 192.1 207.1 197.7 204.5 201.5 202.9 205.6 201.8 213.9 200.7 222.5 200.1 231 200.1 239.7 199.5 244.2 199 248.6 198.6 253.4 197.5 258.2 196.5 262.9 196 266.9 196.9 271 197.5 274.8 198.4 275.4 200.1 277.5 199.5 280.7 198.6 286.2 197 292 196.3 298.6 195.8 303.7 195 307.7 195.6 312.1 195.6 315.9 196.3 320.1 196.6 324.7 196.5 329.8 195.8 334.3 195.8 338.1 196.3 341.4 197.3 344.3 198.4 347.9 199 351.3 199.7 352.3 200.7 354 201.8 354.7 202.9 347.7 205 343.2 206.6 341.7 208.1 343.7 208.6 352.5 208.1M175.8 208.6 180.3 209.8 182.4 210.8 178.8 211 175.8 208.6M151.7 199 155.4 200.7 155.2 202.9 150.6 202.3 151.7 199M151.3 177.1 154.7 177.3 154.6 178.4 151.9 178.2 151.3 177.1M175.9 180.8 178 181.1 176.2 181.8 175.9 180.8M285.2 174 287.2 174.3 285.8 175.2 285.2 174M216.6 55.3 217.7 55 217.5 55.7 216.6 55.3M223.2 50.9 224.2 50.9 224.1 52.7 223.4 52.5 223.2 50.9M223 53.4 224.5 53.4 224.5 55.8 223.3 56.1 223 53.4M227.7 57.4 231.2 57 230.7 59.2 227.7 57.4M240.2 60.8 243.4 61 241.4 61.6 240.2 60.8M250.1 61.4 252.5 60.6 251.5 62 250.1 61.4M276.9 91.6 278.3 91.6 277.3 92 276.9 91.6M323.2 90.4 323.7 92.4 323.4 93.7 323.2 90.4M360.7 121.1 364.6 119.9 361.9 121.9 360.7 121.1M128.8 18.7 131.4 18.1 131.8 17.2 128.8 17.7 128.8 18.7M119.4 10.5 123.5 9.3 125.7 9.9 121.3 10.8 119.4 10.5M136.9 11.8 139.8 11.3 139 10.6 136.9 11.8M148.1 13.7 151.7 13.4 150.1 12.8 148.1 13.7M137.1 25.8 139.7 26 138.4 25.2 137.1 25.8M139.9 8.5 143.4 8.1 142.8 7.3 139.9 8.5M135.1 8.7 138.9 8.1 138.1 7.5 135.1 8.7M127.6 9.1 131.2 8.7 130.4 8.2 127.6 9.1M135.6 14.8 136.3 15.9 132.8 17 133.1 18.1M143.1 23.4 149.8 19.8" fill="none" stroke="#000" stroke-width="1.9" stroke-linejoin="round"/>
</g>
<path d="M100.1 217.1 L97 216.3 L93.4 215.1 L89.6 213.8 L85.4 212.3 L81 210.5 L76.5 208.6 L72.1 206.6 L67.8 204.5 L63.9 202.3 L60.2 200.1 L56.6 197.8 L53.1 195.5 L49.7 193.1 L46.4 190.7 L43.1 188.3 L39.9 185.8 L36.8 183.3 L33.8 180.8 L31 178.2 L28.3 175.6 L25.7 173 L23.4 170.3 L21.1 167.7 L18.9 165 L16.8 162.4 L14.9 159.7 L13.1 157 L11.5 154.3 L9.9 151.6 L8.6 148.9 L7.3 146.2 L6.3 143.5 L5.3 140.9 L4.5 138.2 L3.8 135.5 L3.1 132.8 L2.4 130.1 L1.9 127.4 L1.4 124.7 L1 122 L0.7 119.3 L0.4 116.6 L0.2 113.9 L0.1 111.2 L0 108.5 L0.1 105.9 L0.2 103.2 L0.4 100.5 L0.7 97.8 L1 95.1 L1.4 92.4 L1.9 89.7 L2.4 87 L3.1 84.3 L3.8 81.6 L4.5 78.9 L5.3 76.2 L6.3 73.6 L7.3 70.9 L8.6 68.2 L9.9 65.5 L11.5 62.8 L13.1 60.1 L14.9 57.4 L16.8 54.7 L18.9 52.1 L21.1 49.4 L23.4 46.8 L25.7 44.1 L28.3 41.5 L31 38.9 L33.8 36.3 L36.8 33.8 L39.9 31.3 L43.1 28.8 L46.4 26.4 L49.7 24 L53.1 21.6 L56.6 19.3 L60.2 17 L63.9 14.8 L67.8 12.6 L72.1 10.5 L76.5 8.5 L81 6.6 L85.4 4.8 L89.6 3.3 L93.4 2 L97 0.8 L100.1 0 L327.8 0 L330.9 0.8 L334.5 2 L338.3 3.3 L342.5 4.8 L346.9 6.6 L351.4 8.5 L355.8 10.5 L360.1 12.6 L364 14.8 L367.7 17 L371.3 19.3 L374.8 21.6 L378.2 24 L381.5 26.4 L384.8 28.8 L388 31.3 L391.1 33.8 L394.1 36.3 L396.9 38.9 L399.6 41.5 L402.2 44.1 L404.5 46.8 L406.8 49.4 L409 52.1 L411.1 54.7 L413 57.4 L414.8 60.1 L416.4 62.8 L418 65.5 L419.3 68.2 L420.6 70.9 L421.6 73.6 L422.6 76.2 L423.4 78.9 L424.1 81.6 L424.8 84.3 L425.5 87 L426 89.7 L426.5 92.4 L426.9 95.1 L427.2 97.8 L427.5 100.5 L427.7 103.2 L427.8 105.9 L427.9 108.5 L427.8 111.2 L427.7 113.9 L427.5 116.6 L427.2 119.3 L426.9 122 L426.5 124.7 L426 127.4 L425.5 130.1 L424.8 132.8 L424.1 135.5 L423.4 138.2 L422.6 140.9 L421.6 143.5 L420.6 146.2 L419.3 148.9 L418 151.6 L416.4 154.3 L414.8 157 L413 159.7 L411.1 162.4 L409 165 L406.8 167.7 L404.5 170.3 L402.2 173 L399.6 175.6 L396.9 178.2 L394.1 180.8 L391.1 183.3 L388 185.8 L384.8 188.3 L381.5 190.7 L378.2 193.1 L374.8 195.5 L371.3 197.8 L367.7 200.1 L364 202.3 L360.1 204.5 L355.8 206.6 L351.4 208.6 L346.9 210.5 L342.5 212.3 L338.3 213.8 L334.5 215.1 L330.9 216.3 L327.8 217.1Z" fill="none" stroke="#b3b3b3" stroke-width="1.2"/>
</g>
<text x="686.5" y="346" text-anchor="middle" font-size="22" fill="#2f4f4f" stroke="#2f4f4f" stroke-width="0.7" textLength="45.5" lengthAdjust="spacingAndGlyphs">SON</text>
<g transform="translate(472.5 363.3)">
<g clip-path="url(#clip)">
<rect x="0" y="0" width="427.9" height="217.1" fill="#f6f7f7"/>
<path fill="#3783bb" fill-rule="evenodd" d="M219.5 86.9 223.5 87 227 89.7 229 88.6 230.5 88.8 233.6 92 233.6 93 228.5 94.8 223.5 92.8 215.3 91 214.9 90 215.5 88 219.3 87ZM187.5 87.5 191.5 88.4 194.5 87.7 197 89.5 200 90.2 200.3 92 199.6 93 198.5 93.3 192 93.6 189.5 92.9 187 91.5 186 90.2 186.2 88.5 187.4 87.5Z"/>
<path fill="#68abd0" fill-rule="evenodd" d="M186.5 81.9 190.5 82.5 193 84.5 195 84.5 198.5 85.6 201.5 84 204 83.7 205.5 84 208 85.8 210 86.3 216.5 84.5 223 85.2 225.5 84.9 228 86.2 231.5 87 233.5 89.6 239 92.5 239.5 94 238 95.8 235.5 96.4 231.1 99 227.5 99.9 224.5 101.4 214.5 98.6 212.7 99.5 211 102.5 209.5 103 207 102.5 204 102.7 201 99.9 195.5 99.2 191.5 100.3 187.5 100.4 185.5 99.3 183.1 94.5 183.7 92 183.5 89.5 184.8 86 184.6 83.5 186.3 82ZM219.3 87 215.5 88 214.9 90 215.3 91 223.5 92.8 228.5 94.8 233.6 93 233.6 92 230.5 88.8 229 88.6 227 89.7 223.5 87 219.5 86.9ZM187.4 87.5 186.2 88.5 186 90.2 187 91.5 189.5 92.9 192 93.6 198.5 93.3 199.6 93 200.3 92 200 90.2 197 89.5 194.5 87.7 191.5 88.4 187.5 87.5ZM331 108.4 336.5 108.9 340.3 110 344.5 109.2 353 111.5 355 111.1 357.5 109.1 365 109.7 368 109.2 372.5 110.7 376.5 113.6 381.7 115.5 384.7 115.5 386 116.2 386.8 118.5 386.9 122 388.5 126 388 129.3 387.5 130.1 386.5 130.3 380.5 127.7 375 124.2 369 124.5 366.5 122.8 361.2 122 357.5 119.7 353.5 120.4 349 122.5 339.5 124.2 335.5 124.2 331.5 123.5 328.5 124 326.1 123.5 325.3 123 325 122 326.8 116.5 326.1 111 327.9 109 330.6 108.5Z"/>
<path fill="#a7d0e4" fill-rule="evenodd" d="M212.5 78 217.5 79.1 222 77.5 230.5 79.6 235.5 82.5 238.5 81.8 241.5 83.9 244.5 83 246 83.1 248 84.5 248.5 87.2 250 88.5 251 88.3 251.8 87 250.9 84 254.5 82 256 81.8 262.5 83.3 263.2 84 262.8 85.5 259.1 91.5 260.2 94.5 260.5 102.5 258.5 104.2 254 104 251.5 105.3 250 105.5 246 101.2 244.5 100.9 241.5 101.3 238 99.1 236 98.7 234 99.2 227.3 103 225 108.2 223.5 109.4 220 108.4 214.5 105 213.5 105.1 212 107.3 211 107.8 206.5 106.6 201 107.2 194 103.3 190 103.9 184.5 102.6 183.7 99 182.6 97 179.5 93.9 173.8 89.5 172.2 87 172.5 85.5 174.9 82.5 179.5 80.9 182.5 80.9 186 79.5 189.5 79.1 193.5 80.7 198.5 81.2 204 80.3 207.5 81.2 210.5 78.7 212.5 78ZM186.3 82 184.6 83.5 184.8 86 183.5 89.5 183.7 92 183.1 94.5 185.5 99.3 187.5 100.4 191.5 100.3 195.5 99.2 201 99.9 204 102.7 207 102.5 209.5 103 211 102.5 212.7 99.5 214.5 98.6 224.5 101.4 227.5 99.9 231.1 99 235.5 96.4 238 95.8 239.5 94 239 92.5 233.5 89.6 231.5 87 228 86.2 225.5 84.9 223 85.2 216.5 84.5 210 86.3 208 85.8 205.5 84 204 83.7 201.5 84 198.5 85.6 195 84.5 193 84.5 190.5 82.5 186.5 81.9ZM358 82.9 359 82.8 360 83.5 360.4 87 361.5 88.1 362.3 88 364 85.9 365 85.8 368 86.9 373 84.5 374 84.8 376 86.7 379 87.7 382 87.8 385.5 86.5 387.5 86.4 393 88.2 397.5 87.9 402 89.5 410 90.9 411 91.5 411.3 92.5 408.7 97 409.7 98.5 409.6 99.5 408 101 405.5 100.8 402.5 101.9 399 101.6 397.5 101.1 394 98.4 390.5 97.1 384 100.1 379 98.7 376 99.9 373.5 99.9 371.5 98.6 370 94.8 369 93.9 364.5 96.9 361.5 97.4 357.4 91.5 355.7 87 357.9 83ZM332.5 90.4 334.5 90.2 336.7 92 335.9 94 333.5 97.3 333.6 99.5 335 100.8 338 101 341.5 99.9 343.8 102.5 347.5 102.8 351 102.3 355 104.7 359 103.5 364.5 104.5 367 103.3 371 104 375.5 103.8 382 106.6 388 107 390 110.3 393.5 112 394.7 114.5 392.5 118 392.9 121 391.1 126.5 391.7 130.5 388 132.6 386.5 132.8 377.5 128 373 126.5 368 126.4 365.5 124.2 361 123.4 356.5 121.4 353.6 122 348.5 125.1 343.5 125.1 339.5 126.1 332.5 125.9 331.9 126 331 127.8 329 127.4 326 125.2 319 124.9 315.4 122 312.8 118.5 315.4 113 316.1 110 315.8 107.5 314.5 104.8 310.5 102.5 306 102.4 302.5 103.4 296.1 101 300 93.5 301 92.7 303.5 93.7 306 96.5 307.5 97.4 314 97.9 322.5 94.5 325.5 92.3 330.5 91.5 332.4 90.5ZM330.6 108.5 327.9 109 326.1 111 326.8 116.5 325 122 325.3 123 326.1 123.5 328.5 124 331.5 123.5 335.5 124.2 339.5 124.2 349 122.5 353.5 120.4 357.5 119.7 361.2 122 366.5 122.8 369 124.5 375 124.2 380.5 127.7 386.5 130.3 387.5 130.1 388 129.3 388.5 126 386.9 122 386.8 118.5 386 116.2 384.7 115.5 381.7 115.5 376.5 113.6 372.5 110.7 368 109.2 365 109.7 357.5 109.1 355 111.1 353 111.5 344.5 109.2 340.3 110 336.5 108.9 331 108.4ZM411.5 102.4 413.5 102.3 415.5 104.4 428.5 105.5 428.5 110.7 419 110.7 415.5 111.7 412 109.8 409 109.5 407.4 110 405 112.7 402 112.6 400 113.3 395.2 110.5 395.3 108.5 397 106.7 399 106.3 402.5 106.8 411.2 102.5ZM120.5 124.9 122.2 125 124 126.6 125.5 129 127.1 134 130 137.5 130.1 139.5 129 140.9 127.5 141 122.8 139 122.1 135.5 119.6 130 119.5 126.5 120.3 125ZM33 139.4 33.8 139.5 34.4 140.5 34 141.9 33 141.1 32.8 139.5Z"/>
<path fill="#d7e8f1" fill-rule="evenodd" d="M186.5 18.5 187.6 19.5 187 21 185.5 21.6 183.9 21 183.4 20 183.8 19.5 186.4 18.5ZM99.5 37.5 102.3 38 102.9 39.5 97.5 43.6 96 43.6 90 41.9 88.5 40.5 89 39.1 91 38.2 99.2 37.5ZM0.2 51.5 1.3 53 1 54.3 0 55 0 51.4ZM87.5 61.9 88.6 62.5 88.5 63.8 87.5 64.9 86 65.1 85.4 64.5 85.5 63.5 87 62ZM229.5 63.9 231.5 63.8 238 67.1 241.5 67.3 245.5 69.6 248.5 70.5 249.1 72 247.1 74 246.8 76.5 245.8 79 246 80.5 247 81.4 249.5 81.8 255.5 79.9 261 81 264.5 81.2 268.5 85 269.1 88.5 273 90.6 276 89.9 282 90.7 283.4 89.5 284.3 87 286.5 86.1 286.4 85 284.9 82.5 285.6 78.5 284.3 75.5 284.6 72 285 70.7 286 69.8 289 69.9 295.5 74.1 299.2 75.5 303.5 79 306.8 80.5 307 81.4 306.5 81.9 303.5 81 299.5 81.6 297.4 83.5 296.7 85 299.5 88.4 305.6 93 307.5 95.5 309.5 96.2 314.9 96 318 93.8 321.7 93 325 90.2 329.5 89.7 331.2 89 333.8 85 336 83.3 337.1 81.5 337.2 79 335.2 76 336.9 74.5 339 73.6 343.5 73.1 346.5 74.9 349.5 74.8 352.5 73.1 357.5 71.9 359.2 67.5 361 66.1 366.5 66.3 372.6 69 376.3 75 380.9 79 380.9 80 380 81.5 377.6 83 377 84 377.4 85 379 85.6 381.5 85.8 386.5 84.7 393.5 86 396.5 84.7 402.5 88 405.5 88.2 408.5 89.1 412 89.2 416 88.7 419 86.3 419.1 84.5 417.4 82.5 417.7 81 418.5 80.3 420 80.2 423.5 81.5 428.5 81.1 428.5 105.5 415.5 104.4 413.8 102.5 412.5 102.1 409 103.3 402.5 106.8 397.5 106.5 396 107.6 395 109.5 395.6 111 400 113.3 402 112.6 405 112.7 407.4 110 409 109.5 412 109.8 415.5 111.7 419 110.7 428.5 110.7 428.5 112.9 424 112.8 412.5 114.7 411.3 116 411 118 411.3 119.5 412.2 120.5 417.4 123 417.5 126 420.2 130 424.5 131.9 428.5 132.1 428.5 136.4 425 135.9 422.5 137.8 421.5 137.8 421.2 137 421.9 134.5 420 132.6 410.5 131.6 406 132.6 402.5 134.7 399.5 135.3 397 136.7 392.5 135.5 388 136.2 381.5 138.1 374.5 135.8 371.5 132.8 368.5 130.9 365.5 130.4 362.5 127.5 361 127 350.5 128.6 349.4 129.5 347 133.5 345.5 134.2 341.3 133.5 340 131 337 128.9 333.5 130.9 326.5 131.3 320.5 128.4 315.2 128.5 310.5 124.3 301.7 120.5 301.3 119.5 302 111 301.5 109 300 107.7 294 107.6 289.5 108.6 286 108.3 283 110.3 281.5 110.5 278.1 109.5 275.5 106.7 273 105.6 263.9 108 263.5 107.5 265.2 104.5 263.5 103.4 258.5 105.7 253.5 107 250 107.1 248.3 106.5 245 103.2 240.5 102.6 235.5 100.2 232 101.5 228.8 104 224 112.8 218.5 114 219.2 115 223 115.6 224.2 117 225.2 125.5 226.2 129 228.1 132 227.5 134.5 228.7 137.5 228.4 143 227.5 143.2 223 141.9 219.5 142.1 215.5 143.3 214.4 141.5 214.3 138 213 136.6 210.5 138.8 204 141.3 201 145.3 199.5 145.7 198 145.4 194 142.5 191 132.8 188.3 127 188.4 126 191.5 122.7 195.5 119.9 201.5 116.9 206 116 207.5 116.2 208.2 117 209.2 120 210 120.7 211 120.6 211.8 119.5 212.4 116.5 211.9 113.5 210.6 112 208 110.4 205.5 111.9 200.5 111 194.5 106.8 191 107.9 187.5 106.7 183 106.1 182.9 100 181.8 97.5 175.5 92.4 169 89.9 167.7 88.5 166.8 85.5 168 80.5 169.6 77 168.4 73.5 168.4 72 171 69.3 177 68.6 185.5 70.4 192.5 70 195 71.5 198.5 72.4 203.5 71.1 206 71.3 209 73.2 211.5 73.5 213.5 72.6 215.1 69.5 223 67.8 229.4 64ZM212.5 78 210.5 78.7 207.5 81.2 204 80.3 198.5 81.2 193.5 80.7 189.5 79.1 186 79.5 182.5 80.9 179.5 80.9 174.9 82.5 172.5 85.5 172.2 87 173.8 89.5 179.5 93.9 182.6 97 183.7 99 184.5 102.6 190 103.9 194 103.3 201 107.2 206.5 106.6 211 107.8 212 107.3 213.5 105.1 214.5 105 220 108.4 223.5 109.4 225 108.2 227.3 103 234 99.2 236 98.7 238 99.1 241.5 101.3 244.5 100.9 246 101.2 250 105.5 251.5 105.3 254 104 258.5 104.2 260.5 102.5 260.2 94.5 259.1 91.5 262.8 85.5 263.2 84 262.5 83.3 256 81.8 254.5 82 250.9 84 251.8 87 251 88.3 250 88.5 248.5 87.2 248 84.5 246 83.1 244.5 83 241.5 83.9 238.5 81.8 235.5 82.5 230.5 79.6 222 77.5 217.5 79.1 212.5 78ZM357.9 83 355.7 87 357.4 91.5 361.5 97.4 364.5 96.9 369 93.9 370 94.8 371.5 98.6 373.5 99.9 376 99.9 379 98.7 384 100.1 390.5 97.1 394 98.4 397.5 101.1 399 101.6 402.5 101.9 405.5 100.8 408 101 409.6 99.5 409.7 98.5 408.7 97 411.3 92.5 411 91.5 410 90.9 402 89.5 397.5 87.9 393 88.2 387.5 86.4 385.5 86.5 382 87.8 379 87.7 376 86.7 374 84.8 373 84.5 368 86.9 365 85.8 364 85.9 362.3 88 361.5 88.1 360.4 87 360 83.5 359 82.8 358 82.9ZM286.9 88.5 286.3 90 287 90.9 287.8 90.5 288.2 89.5 287 88.4ZM332.4 90.5 330.5 91.5 325.5 92.3 322.5 94.5 314 97.9 307.5 97.4 306 96.5 303.5 93.7 301 92.7 300 93.5 296.1 101 302.5 103.4 306 102.4 310.5 102.5 314.5 104.8 315.8 107.5 316.1 110 315.4 113 312.8 118.5 315.4 122 319 124.9 326 125.2 329 127.4 331 127.8 331.9 126 332.5 125.9 339.5 126.1 343.5 125.1 348.5 125.1 353.6 122 356.5 121.4 361 123.4 365.5 124.2 368 126.4 373 126.5 377.5 128 386.5 132.8 388 132.6 391.7 130.5 391.1 126.5 392.9 121 392.5 118 394.7 114.5 393.5 112 390 110.3 388 107 382 106.6 375.5 103.8 371 104 367 103.3 364.5 104.5 359 103.5 355 104.7 351 102.3 347.5 102.8 343.8 102.5 341.5 99.9 338 101 335 100.8 333.6 99.5 333.5 97.3 335.9 94 336.7 92 334.5 90.2 332.5 90.4ZM65 65.7 69 66.8 72.5 66.6 75 68.7 79.5 69.1 80.5 70 81.4 72.5 82.5 73.2 89.5 72.8 92 74.2 96.5 74.5 99 76.1 102 77 107 76.4 110.5 77.1 115.5 76.3 120 74.2 123 71.2 129 72 133 76.3 134 76.5 136.5 75.7 138.4 77 138.9 79.5 136.7 82 138.5 86.5 138.7 89.5 139.5 90.5 141 90.8 145 89.3 147 89.9 147.4 92.5 149.4 96 148.3 100.5 147.5 101.7 146 102.3 141 100.1 139 100.2 137 101.3 133.8 104.5 130.5 105.9 127 103 119 98.8 117 96.6 103 94 98 94.7 95.5 90.8 91.5 86.9 90.5 82.9 88.5 82.7 81.5 83.7 79 82.8 73.5 82.5 70.1 81 68.1 78.5 65.9 72 64.9 66ZM7.5 74.9 10.5 74.9 12 76.5 11 77.1 5.5 77.5 4.9 77 5 76 7.2 75ZM15 76 16 75.5 17 75.9 19.7 78 19.9 79.5 18 79.7 13.9 77.5 15 76ZM7 101.5 10 101.4 18 103.3 22.5 102 23.8 105 25 106.2 33.5 105.4 36.2 110 35.5 111 31.5 113.3 24 113.2 21.5 110.8 15.5 108.6 11.5 108.7 5.5 110.8 0 111.7 0 104.7 3.2 102.5 6.9 101.5ZM92 114.4 95 114.1 96.5 114.6 100.5 119.7 108.5 119.1 114.5 115.2 116 119.5 119.5 121.2 125.2 126.5 128 133.2 132.1 138 132 144.6 131.5 144.9 122.5 142 115 143.2 110.5 141.2 108 142.2 102 142.9 99.7 141 97 140.4 94.7 136.5 93.6 133 90.5 129.5 87.5 127.9 85.4 123.5 86.1 117 86.9 115 89.5 115.2 91.7 114.5ZM120.3 125 119.5 126.5 119.6 130 122.1 135.5 122.8 139 127.5 141 129 140.9 130.1 139.5 130 137.5 127.1 134 125.5 129 124 126.6 122.2 125 120.5 124.9ZM44.5 135 49.9 137 52.5 139.8 53.2 142 52.1 145 50.3 147 50.5 150 50 151.7 43.5 158.1 40.5 158.6 37.5 156.7 34.5 156 31.5 156.8 28.5 156.4 23.5 158.4 20 157.7 17 158.1 11.3 155 10.2 151.5 10.2 148.5 11.3 145 14.6 142 20 139.3 24.5 138.9 27.3 136.5 31.5 136.4 38.5 137.5 41.5 136.6 44.4 135ZM32.8 139.5 33 141.1 34 141.9 34.4 140.5 33.8 139.5 33 139.4ZM166.5 188.5 170.5 189.1 171.5 189.8 173.3 194 173.8 197 173.4 198 171 200 169.4 205 166.5 208 165.7 211.5 164 212.5 159.2 210 160 206.9 159 205.6 156.5 204.7 155.1 201 160.5 190.6 162 189.7 166.5 188.5ZM404.5 197.8 405.5 197.7 406.5 198.3 407.2 199.5 407 200.6 406 201.1 404.5 200.5 403.5 199 404.1 198ZM143.5 207.8 144.5 207.7 145.2 208.5 144.3 210 143.5 210.2 142.8 209.5 143.3 208Z"/>
<path fill="#fce0d0" fill-rule="evenodd" d="M78 0 79.5 0 78.7 2 77 3.9 70 9.3 67 10 65.6 11.5 65.4 13.5 68 15.8 70 16.5 72.5 16.3 79 14.7 83.5 11.8 88.5 9.9 91.4 9.5 91.8 8.5 88.5 0 183.4 0 182.5 2 179.3 3.5 178 6 170.8 11 170.2 13 171.1 19 174.5 24.4 181 25.1 184 26.4 188.5 25.9 192.5 28 193.5 27.7 195.2 25 198.5 23.3 199.3 21.5 198.2 17.5 198.1 14.5 195.3 6 194.4 0 260.2 0 259.1 1 257.5 1.3 255 1.3 253.5 0.4 246.5 3.4 244 3.2 241.5 2.1 240.5 2.5 238.7 6 236.9 8 237.2 10.5 236.6 13.5 237.9 16.5 239 21.5 238.1 25 238.4 26 240.4 26 243.5 23.5 248.5 21.3 251 19.3 252.5 19.1 255 19.9 260.3 24 259.5 28 260 29 265.5 30.2 277.5 30.8 280.5 31.7 285 31.1 287 32.6 287.6 30.5 290.5 28.1 291.5 28.2 293.5 29.5 297.5 30.1 297.5 29 293.8 22 293.5 20 294.5 18.9 297.5 18.3 300 15.7 307.1 18.5 310.5 20.4 315.5 20.5 316.2 21 316.5 22.7 321 22.5 322.6 24.5 322.1 27 326.5 30.1 330.5 32 332.5 31.5 335.6 28 337.5 26.9 340 26.9 343.5 27.9 347.5 27.7 354.5 26.3 360.4 21 359.8 16 360.3 8.5 359 6 358 5.6 355.5 6.6 351.5 6.5 347.5 5.3 345 5.6 341.5 4.6 338 4.6 335 3 332.3 2.5 328.7 0 350.8 0 351.5 1.5 352.5 1.8 353.5 1 353.6 0 359.6 0 359.2 3 362.4 6 364.5 9.1 368.5 11.9 369.6 13.5 373 14.7 378 17.7 382 23.5 384.5 25.2 387.5 25.6 389.5 26.9 393.5 27 396.5 28.8 401.5 28.3 406 29.2 409 28.6 411.5 30.1 417 31.7 420 31.5 422.5 30.1 425 32.5 428.5 32.3 428.5 79.8 423 79.8 419.5 78.4 415 78.4 411 76.4 407.5 76.7 405.5 76.3 403 76.9 402.1 76.5 401.9 76 402.5 75.2 405.5 75.4 410.5 73.2 412.8 71 417 69.4 417.8 68 416.2 65 412.6 61 411.7 58.5 410.1 56.5 409.5 53.7 407 52.7 404.5 50.5 403.5 50.2 398 54 389.8 57.5 388.9 58.5 390.8 64.5 393.5 68.1 396.8 70 397.9 74.5 397 75.6 394 76.2 391.5 76 387 78.9 385.5 79.1 381.3 77 378.3 74 377 71.9 375.8 67.5 374 65 370 65.2 367 64.3 360 64.6 358.5 65.7 356 70.3 352.5 71.2 348.5 73.4 347 73.4 344.5 71.5 343 71.2 338.5 71.9 335 73.7 331 74.7 328.9 76.5 328.5 77.7 330 78.2 333.5 77.6 334.8 78.5 335.2 79.5 334.8 80.5 330 85 327 87.1 323 86.8 320 88.5 317 89 313 90.9 311 91.2 309.5 90.7 308.6 89.5 308.6 86 309.6 84.5 312.5 82.2 315 81.5 315.5 79 312 80.6 310 80.2 295.1 72 293.5 70.5 291.5 67.3 285.5 66.3 283.9 67.5 281.5 77 280 77.3 277.9 75.5 276.9 71.5 278.2 67.5 281 65 280 63.3 278.5 62.3 274.5 63.7 270 61.9 268 61.8 265.9 63 263 66.2 261.5 67.1 259.5 67.7 254.5 67.6 250.5 69.2 245.5 67 242 63.8 237.4 62.5 235 60.8 231 59.5 227 59.5 223.5 58.8 216.5 60.4 214.1 60 212.5 58.5 211 55 211.5 52 211.1 49 213 44 213 42.2 212 41.5 207.5 41.3 203 39.8 193.5 41.7 190.5 43.8 185.5 45.9 180.5 44.8 177 46.2 172 44.6 169 44.4 165.5 45.6 161 45.5 160 45.2 158.5 42.6 156.7 44 159.5 46 159.2 51 160.7 55.5 162.5 58.3 165.9 61.5 171 61.3 175 60.4 176.8 59 177.1 56.5 178 56.2 179.7 59 190.5 65 189.9 66.5 188.5 67.8 185 68 177 64.8 173.5 66.9 169.5 68 165 72.8 161 74.4 148 71.2 144.5 71.8 138 70.5 135.5 70.5 131 65.9 127.7 66 127.7 64 126.9 62.5 123 62.3 121.5 61.6 120 59.4 117.5 57.5 115.8 53.5 113.7 50.5 116.7 47 120.6 44.5 122.1 40 123.5 38.3 128.5 36.7 132 37.5 133.5 36.5 133.7 35.5 131.7 29 132.7 25.5 130.5 20.7 129 19.9 125.5 21.6 121.5 20.3 115 21.1 112.5 21.9 109.5 21.7 107.6 23 105.7 26 104.5 26.8 102.5 27.6 97.7 28 95.2 30 93 30.7 88.5 30.9 84 28.4 82.2 29 81.1 31 80.9 37.5 82.5 40 82.7 43 85.4 49.5 85.7 52 88.8 57.5 88.5 57.7 84.5 56.8 80 58.7 76 58.7 73 60.2 70 59.1 64 59.5 57 62.1 53.5 61.4 50.5 63.2 47.5 63.1 46.7 65.5 47.3 68 43.5 71 40 69.8 36.5 69.4 32.5 70.9 27.5 68.9 24.5 65.2 24.5 62.9 28.3 61 30 55.2 32 52.5 33.5 51.5 36.5 51.6 37 51 34.4 48.5 31.5 48.3 28.3 50.5 27.3 53.5 25.3 56 23 56.9 21.1 56.5 20.5 54 23.7 50 24.4 44.5 25.6 41.5 28 39 33.5 39.1 36.5 37.6 40 35.3 41.2 32.5 43 30.8 46.5 30.7 51.5 28.8 53.3 27.5 55 25 58 24 58.8 22.5 59.1 18 60.5 16.3 63.1 15.5 63.4 11.5 65 8.5 72.1 5.5 76.5 2.2 77.7 0ZM199 6.5 198.9 8.5 200 9 200.4 7.5 199 6.5ZM88.3 12 87.7 12.5 87.7 13.5 89.5 14.3 90.3 13.5 90.2 12.5 88.5 11.9ZM307.9 30.5 303.5 31.9 302 34.7 300 36.1 293.5 36.1 290.5 37.9 281.5 37.2 276.5 35.3 272.6 36.5 270.8 38 271.6 42 273.8 45 271.5 50 271.8 51 275.5 54.7 278.3 53.5 281 51.4 283.5 51.3 285 52.1 286.5 54.4 288 55.3 289 54.8 290.9 51.5 292.5 51 296 51.1 299 53.1 303 53.4 306.5 55 316 54.6 321.5 52.9 326.9 54.5 327.5 58 328.5 59.5 329.5 59.3 332 57 334.5 56.6 337 55.3 339.5 56 341 55.2 341.1 52.5 339.8 50 340.4 47 339.1 44 339.8 42 341.8 40.5 342.3 39.5 340.5 36.9 335.5 35.3 328 37.3 326 36.2 323 35.9 319.5 32.2 308 30.5ZM193.4 33 192.3 34.5 192.5 35.2 195.5 34.8 195.8 34 195.4 33 194.5 32.5 193.5 32.9ZM67.5 41.5 66.2 42.5 66.2 43.5 68.5 44.8 71.5 44.9 73 45.6 74.5 47.5 75 50.6 76 51.7 77.6 47.5 76.3 43 72.5 42.7 68 41.3ZM48.9 48.5 47.6 49.5 47.5 50.7 51.4 50.5 51.3 49.5 49 48.5ZM367.2 50.5 366.7 51 367.5 51.9 368.7 52 369.5 51.5 368.5 50.5 367.5 50.4ZM39.3 51.5 38.5 52 38.6 52.5 40.5 53.8 43.9 53 44.7 52 42.5 51.2 39.5 51.4ZM292.2 53 291.5 54 291.7 56 290 58.5 289.5 61 290.5 62.3 294.9 64 295.3 65.5 294.6 69 296.5 71 302.5 74.5 305.5 75.4 311 78.3 317.5 75.6 325 76.4 326.6 76 328.3 74.5 328.6 73 325.3 62.5 325.7 56.5 325.1 55.5 321 55 316.5 56.2 306 56.6 300.5 55.8 296 53.4 292.5 52.9ZM57.1 53.5 55.7 54.5 56 56.1 57.5 55.5 57.9 54 57.5 53.5ZM161.4 62 158.5 65.1 154.7 68 153.8 69.5 154.5 70.8 158 72 162.5 72 166 69.8 169 66.7 172 65.5 173.3 64 172.6 63 170.5 62.8 165 64.1 162.9 62 161.5 61.9ZM270 0 312.6 0 313.3 4 312.5 5 307.5 5.4 304 3.4 301 3.9 297 5.6 294 4.4 290.5 4.6 287 3.3 282 4.6 271.1 2.5 270 1.5 269.6 0ZM265 7.3 266.4 7.5 267.2 8.5 265.5 9 264.9 7.5ZM353 10.9 354 11.3 355 13.2 357.4 15 357.5 16 354 20.1 348 21.4 346 21.3 341.7 18.5 339.5 16.1 336 16.6 333.7 15 333.1 14 333.5 13.2 334.5 12.9 339 14.1 342 11.9 344.5 11.5 348 13.3 350 13.4 351.3 13 352.8 11ZM269 15.3 270.3 15.5 270.4 16.5 268.5 16.9 268.6 15.5ZM96 62.8 97.5 63 98.3 64 99.5 67.5 99 68.4 97.5 68 96 66 95.1 64 95.7 63ZM197.5 63.3 198.8 63.5 198.8 65 197.3 65 197.3 63.5ZM9.5 79 14.5 80.1 18 82.1 21 81.6 23.5 82.1 28 81.9 33.5 83.3 37.5 82.5 41.2 85 43.5 85.8 46.3 85 50 82.5 58.5 82.5 64.5 80 67.5 81.3 71 83.6 78 84.8 81 85.9 88.5 84.9 90 87.5 94.5 92 95.6 96 91.4 98.5 93.1 100 92.9 101.5 83.5 101.5 79.5 103.4 76 102.4 73.5 100.1 69 98.9 66 99.5 58 98.4 52.5 99.2 47 96.9 42.3 97.5 40 99.8 37.5 100.8 36 102 33 102.1 29 103.1 27 102.7 25.6 101 23 99.6 18 99.9 12.5 98.2 8 99.5 4.5 99.5 3 98.6 2 96.9 1.6 95 1.8 92 0.8 89.5 2.8 84 5 80.7 9.3 79ZM11.7 85.5 10 86.8 8.1 90 10.6 94.5 15 95 19 96.7 26.5 97.3 29.5 98.5 32.4 98 39.5 92.5 44 91.9 47.5 94 50.5 93.7 51.5 93 53.8 89.5 52 88.6 42 87.3 38 85.7 34 86.6 30 86.4 23.5 88.1 17.5 87.2 14 85.1 12 85.4ZM163.5 88 165.5 88.2 168.5 91 175.7 93.5 181 97.8 182.1 100.5 181.5 104.5 180.5 106.5 174 108.3 172.3 111 172.1 112.5 174.9 115.5 176.1 118.5 175.4 121.5 172.9 124.5 173.2 129 174.2 132.5 170.4 136.5 168.5 141 166 142.5 164.1 144.5 163.9 145.5 164.5 146.6 165.5 146.6 167.3 145 173.5 141.4 178 141.2 180 141.8 186.5 145.5 188.5 148.1 190.5 148.6 192.5 151 194 151.2 198 148.9 201 149.2 202 148.8 203.8 147 204.7 144.5 205.9 143 207.5 142 210 141.4 211.5 141.7 212 142.5 211.8 146.5 212.4 148 216.5 149.4 218 149.5 221.5 148.5 226 149.7 232.5 148.7 236.5 149.2 238 148.8 238.5 147.5 236.2 140.5 236.3 138 234.5 136 231.4 134.5 230.5 130.5 226.7 124.5 226.5 118 225.8 115 227.1 110 230.5 104.5 232.5 102.5 234.5 101.6 236 101.8 238.5 103.7 244.5 104.7 247 107.5 248.5 108.3 254.5 108.5 260 106.8 260.6 107 261.8 109.5 264 110 273 107.5 278 111 282.5 112.6 286.5 110.6 289.5 110.5 294 109.2 298.5 109.5 300 110.3 300.7 112 299.4 117.5 299.3 121 300 122.4 303 123.1 305.5 125 309 125.9 315 130.3 319 130.2 320 131 318.8 135 315 140.3 310.5 141.9 308 140.6 302.5 139.7 299.5 141.7 295 142.2 292 140.1 289.5 142.2 287.5 142.7 284 141.7 281.5 140.3 278.5 140.3 275 138.5 267 137.8 264.5 136.9 261.5 136.8 259 135.8 254.5 139.1 251.3 140.5 248.4 143.5 247.5 146.5 248.5 149 250 149.5 251.6 147.5 256.5 145.2 260.5 146.1 265.5 146.3 272 144.2 273.9 145 276.5 147.6 281.5 148.2 291 152.1 294 151.1 297 147.8 299 148.6 303.5 148.7 305.4 150.5 307.5 151.6 310.5 149.7 313 152.7 317 155 319 155.3 324 154.4 325 155.4 326 158 327 158.8 330.7 159 339 162.2 342 164.1 350.5 166.5 354 167 356.5 166.8 362 168.8 364.5 168 367 168.5 369.5 167.4 372 167.2 375.5 164.1 383.5 161 386.5 161.7 389.5 163.4 393 162.3 397.5 162.9 402.2 164.5 405.1 170 403 178 404.2 186.5 402.8 189.5 402.4 194 401 195.6 398 196.1 393 193.8 385.5 196.4 377.5 196.5 373.5 193.9 370.5 195.3 365.5 195.6 362 196.8 359.5 196.3 352.5 196.4 346.5 195.1 343.5 195.5 340 195.2 334.5 196.6 326.7 199 326.4 200 327.5 201.1 329.5 201.8 335.5 201.3 338.5 202.2 348 203.2 354 208 352.1 209.5 351 211.5 350 211.9 348.5 211.3 346.3 208.5 343.5 206.6 337 207.3 333 209.5 329 210 324 212.6 320 212.4 316.6 213.5 314.5 217.5 313 216.3 312.1 213 304.5 208.3 302.5 207.8 298 208.4 296 207.7 293.5 206 291 206.5 286 206.2 283 205.3 280.5 203.8 278 203.8 272.6 206.5 272.5 210 268 208.5 261.6 208.5 261 207.5 261.3 204.5 264.6 199 264.3 195.5 262 193.2 258.5 192.3 256 190.7 253.5 190.5 252.5 188.7 251.5 188.3 249 188.7 245 191.4 243.5 191.5 239.5 190.3 236.5 191.1 233.5 190.9 230.5 192.2 228 192.2 226 193.7 224.9 196.5 223 197.4 218 197.2 215.3 196.5 212.2 190.5 209.5 189 206 188.6 203 191.4 200 189.2 197.5 188.2 191.5 188.2 183 186.7 175 187.4 170.5 185.8 166.5 185.6 160 188.9 155.4 195 153.7 198.5 152 199.6 147.5 198.1 142.5 199.3 139.5 197.4 133 198 128 195.7 122 197.3 118.5 199 113 199.3 109.5 200.7 104 200.9 98 199.4 91 200.1 87 198.2 84.5 193.4 82.5 192.4 78.5 193.9 76 193.7 72.5 196.9 69.5 197.2 66.5 195.8 61 194.6 56.5 192.4 49.2 190.5 46.5 187.7 40.5 184.2 38.5 178.8 35.8 178 33.8 176.5 33 174.5 32.6 170 30 168.9 25.5 165.5 25.2 163.5 27.5 161.4 30.5 162.4 36.5 162.1 42 163.1 46 164.7 58 160.3 60 160.6 63 162.2 66.5 161.5 70 161.8 78 157.7 81 158 84 159.9 85 160 85.9 159 85.5 157.5 85.8 157 90 155.5 93 156.8 101 156.8 103 157.8 110 167.1 113.5 167.6 116.5 166.3 119 168.2 123 168.5 123.7 169 123.5 169.5 122 170.5 118.5 169.9 114.5 170.9 109 170.8 105 168 102.5 164.9 95.5 161.2 91.5 160.7 90.5 161.5 89.5 164.1 85 163.8 81 167.4 77.8 168.5 76.2 172 72.7 175 72.2 176.5 72.6 178 77 181.3 81.5 182.7 85 185.8 88.5 186.7 91.5 189.7 96 189.1 99.5 190.7 104 191.1 105.3 190.5 106.3 187.5 107.5 187.5 110 188.6 112.5 188.3 117.8 184 122.5 181.4 123.5 181.5 127 184.3 129.5 185.4 130.5 185.1 132.5 183.3 136 183.3 139.4 181 142.3 176.5 142.5 175 142 173.8 138 171.7 135 172.2 130 172 128 170.9 125.4 168 126.5 166.5 131.5 165.3 138 167.5 141.5 166.7 152 167.4 154 171.5 159.1 175.5 160.5 180.5 164.5 183.8 165.2 183 165.3 180.5 166.9 175 166.7 172 167.6 168 164.4 158.5 162.4 149.5 162.2 145.5 157.8 148.5 155 149.3 152 151.4 150 151.8 148.5 151.3 144.6 155.5 143 158.1 142 158.7 141 158.4 135.8 153 134.6 151 133.5 147.5 133.7 139 133.1 137.5 128.9 133 126.3 126.5 122 122.3 117.1 115.5 116.6 113.5 116.7 110.5 115.4 107 115.2 103 115.5 101.4 116.5 100.4 120.5 100.6 126.5 104 129.5 107 130.5 107.4 134.2 106 138 102.3 139.5 101.6 141 101.9 144.5 104.1 146 104.2 148.5 102.7 150.1 99.5 150.7 96.5 149.7 92.5 150 91.2 156 91.1 163.3 88ZM161.2 90.5 158.6 92 152.5 93.7 151.9 98 148.9 105 148.8 106 149.6 107 157 109.4 164 110.9 169 108 171.5 105.4 173 105.1 175.5 105.8 179 105.3 180 104.5 181 101 180.9 99.5 176.2 95 174.5 93.9 167.5 91.7 164.5 90.2 161.5 90.4ZM117.9 101.5 117 102.1 116.6 103.5 117.8 110.5 117.8 114.5 121.4 118.5 123 121 125.5 122.6 126.9 124.5 129.6 132 134.5 137.5 134.4 146.5 135.3 149.5 136.5 151.7 138.5 153.7 140 154.7 141.5 154.8 144.7 152.5 145.6 150.5 146.4 144 144.2 139 148 132 148 130.5 146.9 127.5 148.6 124 148.3 119.5 150.3 115.5 150.1 114 146.5 111.6 144.5 108.8 141.5 107 139.5 103.4 138 103.9 135 107.1 130.5 108.7 124.5 103.6 120.5 101.6 118 101.5ZM234 104 233 105 230.6 110.5 230.4 111.5 231 112.9 232 114.1 237 114.4 240 116.8 242 116.6 243.1 115 242.2 110 241 108.7 237.5 106.8 235.5 104.3 234 104ZM288.2 114.5 284 115.7 281.9 117 282 119 284 122.5 289.5 122.1 292.1 119.5 292.8 117.5 292.6 116 290.5 114.4 288.5 114.4ZM245.5 138.5 242 142.2 240.7 144.5 241 147 242.5 148.4 243.5 148.4 244.5 147.3 245.3 145 245.2 142 247.3 139.5 246.8 138.5 245.5 138.5ZM294.8 154.5 292.6 155.5 292.5 156.6 293.5 156.8 295.2 156 295.8 155 295 154.5ZM300 156.5 300.5 157.7 302.6 158 302.5 156.9 300.5 156.1ZM284.3 167 280.5 168.8 277 169.2 272.5 168.2 267.5 168.4 265.5 169.1 261.5 168.2 257 168.8 253.5 167.9 250 168.6 247 170.1 244.5 173.3 241.5 175 239.1 178.5 241.5 180.6 248 181.8 251 183.6 254 183.3 256 183.8 259.5 182.8 262 182.9 270 188.5 273.5 189.8 279.5 187.5 283 189.7 284.5 189.8 290 188.4 291.3 187.5 292.3 185.5 293.3 181.5 295.6 179.5 297.2 177 298.1 173 295.5 168.4 286.5 166.6 284.5 166.9ZM218.8 169.5 218.2 170.5 219 171 221 170.9 223 171.5 223.8 171 223 169.9 219 169.4ZM312.4 186.5 311.8 187.5 312 188.5 313 188.9 313.9 188.5 314.3 188 314 187 312.5 186.5ZM316.1 199 314.8 200 317 200.2 318.9 199 316.5 198.9ZM9.5 111 12.5 110.9 15 112.8 24 116.2 34.5 116.8 37.7 115 39.5 111.9 48 114.7 49.6 116 51.4 119 55.4 120.5 57.2 123.5 64.5 125.4 68 126.9 71 129.1 74 129.1 76 127.9 77 128.1 77.5 130 76.9 133 79.2 139 79.1 143 77.5 144.8 74.5 145.7 73 145.7 69.5 144.4 67 145.6 62 146.8 56 142.5 53.6 138.5 51 136 44 132.9 43 133.2 41 135.1 39 135.8 27 134.8 23.2 137 19 137.8 10.5 141.3 8 141.2 6.1 138.5 5 135 0 128.9 0 127.2 1.5 127.9 3.1 130.5 6.5 133.2 9 136.9 12 137.6 14.5 136.9 17.5 133.5 21.5 132.7 25 128.6 31.5 129.4 33.4 129 37.4 124 33.9 119.5 32.5 118.8 22.5 118.5 19.5 117.5 15 119.5 9.5 116.8 7.5 117.5 5.5 119.8 3 121.3 1.5 123.5 0 124.2 0 122 1 119.4 1.5 114.5 3.9 113 9.4 111ZM424.5 113.9 428.5 114.3 428.5 117.2 425 115.3 414.5 116.9 413.7 118 414.5 119.1 419.2 121 420.2 123 420.7 126 422.1 128 424 129.1 428.5 129.4 428.5 130.7 424.5 130.6 421.5 129.3 419.4 126.5 418.3 122 414 120.3 412.4 118.5 412.4 117 413.5 115.8 424.2 114ZM181 135.5 182.5 136.1 182 137.7 180.6 137 180.5 136 180.9 135.5ZM363 144.4 365 145.1 365.7 146 365.5 146.8 363.5 147 362.8 146 362.9 144.5ZM159.5 154.8 160.5 154.8 160.6 155.5 159.5 157.3 158.1 156.5 159.2 155ZM22.5 172 24.4 173 24.7 174 24.3 174.5 23 174.8 21.6 174 21.5 172.5 22.5 172ZM0.5 192.4 1.3 194.5 0 195.9 0 192.1ZM26.5 215.4 30.5 216 32.4 218 25.5 218 26.3 215.5ZM3.5 217 6 216.9 6.8 218 2 218 2.5 217.2 3.5 217Z"/>
<path fill="#f7b799" fill-rule="evenodd" d="M79.5 0 88.5 0 91.8 8.5 91.5 9.4 88 10 83.1 12 80 14.3 73 16.3 69 16.3 66 14.2 65.3 12.5 66.5 10.4 70 9.3 75 5.7 78 2.9 79.4 0.5ZM253.5 0.4 256 1.4 259 1.1 260.2 0 269.6 0 270.4 2 272 2.7 282.5 4.6 287.5 3.4 290.5 4.6 294 4.4 297 5.6 300.5 4.1 303.5 3.5 305 3.7 307 5.4 312.5 5 313.3 4 312.6 0 328.7 0 332.3 2.5 335 3 338 4.6 341.5 4.6 345 5.6 347.5 5.3 350.5 6.4 354.5 6.7 358.5 5.7 359.8 7 360.3 8.5 359.8 16 360.5 20.5 359.8 22 354.5 26.3 347.5 27.7 343.5 27.9 340 26.9 337.5 26.9 335.6 28 332.5 31.5 331 32.1 326.5 30.1 322.1 27 322.6 24.5 321 22.5 316.5 22.7 316.2 21 315.5 20.5 310.5 20.4 300.5 15.7 299.5 16 297.5 18.3 294.5 18.9 293.5 20 293.8 22 297.5 29 297.5 30.1 293.5 29.5 291.5 28.2 290.5 28.1 287.6 30.5 287 32.6 285 31.1 280.5 31.7 277.5 30.8 265.5 30.2 260 29 259.5 28 260.3 24 255 19.9 252.5 19.1 251 19.3 248.5 21.3 243.5 23.5 240.4 26 238.5 26.1 238.1 25 239 21.5 237.9 16.5 236.6 13.5 237.2 10.5 237 7.5 238.5 6.3 241 2.2 246.5 3.4 253.4 0.5ZM264.9 7.5 265.5 9 267.2 8.5 266.4 7.5 265 7.3ZM352.8 11 351.3 13 350 13.4 348 13.3 344.5 11.5 342 11.9 339 14.1 334.5 12.9 333.5 13.2 333.1 14 333.7 15 336 16.6 339.5 16.1 341.7 18.5 346 21.3 348 21.4 354 20.1 357.5 16 357.4 15 355 13.2 354 11.3 353 10.9ZM268.6 15.5 268.5 16.9 270.4 16.5 270.3 15.5 269 15.3ZM351 0 353.6 0 353.5 1 353 1.7 352 1.7 351.1 1 350.8 0ZM199 6.5 200.4 7.5 200 9 198.9 8.5 199 6.5ZM193.5 32.9 194.5 32.5 195.4 33 195.8 34 195.5 34.8 192.5 35.2 192.3 34.5 193.4 33ZM367.5 50.4 368.5 50.5 369.5 51.5 368.7 52 367.5 51.9 366.7 51 367.2 50.5ZM292.5 52.9 296 53.4 300.5 55.8 306 56.6 316.5 56.2 321 55 325.1 55.5 325.7 56.5 325.3 62.5 328.6 73 328.3 74.5 326.6 76 325 76.4 317.5 75.6 311 78.3 305.5 75.4 302.5 74.5 296.5 71 294.6 69 295.3 65.5 294.9 64 290.5 62.3 289.5 61 290 58.5 291.7 56 291.5 54 292.2 53ZM305.9 62.5 302 63.9 300.1 66 300 67.5 300.9 70.5 302.5 72.1 306 72.5 308.5 74.4 311 74.6 316.5 72.7 320.3 68.5 320 66.5 317.5 63.5 312.5 62.4 306 62.4ZM57.5 53.5 57.9 54 57.5 55.5 56 56.1 55.7 54.5 57.1 53.5ZM161.5 61.9 162.9 62 165 64.1 170.5 62.8 172.6 63 173.3 64 172 65.5 169 66.7 166 69.8 162.5 72 158 72 154.5 70.8 153.8 69.5 154.7 68 158.5 65.1 161.4 62ZM12 85.4 14 85.1 17.5 87.2 23.5 88.1 30 86.4 34 86.6 38 85.7 42 87.3 52 88.6 53.8 89.5 51.5 93 50.5 93.7 47.5 94 44 91.9 39.5 92.5 32.4 98 29.5 98.5 26.5 97.3 19 96.7 15 95 10.6 94.5 8.1 90 10 86.8 11.7 85.5ZM161.5 90.4 164.5 90.2 167.5 91.7 174.5 93.9 176.2 95 180.9 99.5 181 101 180 104.5 179 105.3 175.5 105.8 173 105.1 171.5 105.4 169 108 164 110.9 157 109.4 149.6 107 148.8 106 148.9 105 151.9 98 152.5 93.7 158.6 92 161.2 90.5ZM166.9 93.5 163.5 95 160.5 93.9 157.5 94.5 152.9 101 151.6 104.5 152.1 106 163.5 108.8 165.5 108.1 170.5 104.2 174 102.9 175.9 99.5 175.3 96.5 173.5 95.1 167 93.5ZM118 101.5 120.5 101.6 124.5 103.6 130.5 108.7 135 107.1 138 103.9 139.5 103.4 141.5 107 144.5 108.8 146.5 111.6 150.1 114 150.3 115.5 148.3 119.5 148.6 124 146.9 127.5 148 130.5 148 132 144.2 139 146.4 144 145.6 150.5 144.7 152.5 141.5 154.8 140 154.7 138.5 153.7 136.5 151.7 135.3 149.5 134.4 146.5 134.5 137.5 129.6 132 126.9 124.5 125.5 122.6 123 121 121.4 118.5 117.8 114.5 117.8 110.5 116.6 103.5 117 102.1 117.9 101.5ZM118.6 103 118 105.5 118.5 113.7 120 115.4 122 116.1 125.5 113.5 127.9 109.5 127.9 108.5 126.9 106.5 125.2 105 121.5 103 119 102.8ZM139.1 110 136 111 134.6 112.5 136.5 118.5 138 119.2 141 119.2 143.5 119.9 145.5 119.4 147.5 116.8 147.8 115 145 112.8 142.8 110 139.5 109.9ZM136.8 139 135.7 142.5 135.7 148 137.5 150.8 140 152.6 141.5 152.7 143.6 151 144 144.4 143 143 139 141.1 137 138.8ZM234 104 235.5 104.3 237.5 106.8 241 108.7 242.2 110 243.1 115 242 116.6 240 116.8 237 114.4 232 114.1 231 112.9 230.4 111.5 230.6 110.5 233 105 234 104ZM288.5 114.4 290.5 114.4 292.6 116 292.8 117.5 292.1 119.5 289.5 122.1 284 122.5 282 119 281.9 117 284 115.7 288.2 114.5ZM423.5 115.5 426 115.5 428.5 117.2 428.5 129.4 424.5 129.2 422.5 128.3 420.7 126 420.2 123 419 120.8 414.5 119.1 413.7 118 414.5 116.9 423.5 115.5ZM9 116.9 11 117.2 13.5 119 15 119.5 19.5 117.5 22.5 118.5 32.5 118.8 33.9 119.5 36.9 123 37.4 124.5 33.4 129 31.5 129.4 25 128.6 21.5 132.7 17.5 133.5 14 137.2 10.2 137.5 8.5 136.3 6.5 133.2 3 130.4 1.5 127.9 0 127.2 0 124.2 1.5 123.5 3 121.3 8.6 117ZM245.5 138.5 246.8 138.5 247.3 139.5 245.2 142 245.3 145 244.5 147.3 243.5 148.4 242.5 148.4 241 147 240.7 144.5 242 142.2 245.5 138.5ZM295 154.5 295.8 155 295.2 156 293.5 156.8 292.5 156.6 292.6 155.5 294.8 154.5Z"/>
<path fill="#e58368" fill-rule="evenodd" d="M306 62.4 312.5 62.4 317.5 63.5 320 66.5 320.3 68.5 316.5 72.7 311 74.6 308.5 74.4 306 72.5 302.5 72.1 300.9 70.5 300 67.5 300.1 66 302 63.9 305.9 62.5ZM167 93.5 173.5 95.1 175.3 96.5 175.9 99.5 174 102.9 170.5 104.2 165.5 108.1 163.5 108.8 152.1 106 151.6 104.5 152.9 101 157.5 94.5 160.5 93.9 163.5 95 166.9 93.5ZM119 102.8 121.5 103 125.2 105 126.9 106.5 127.9 108.5 127.9 109.5 125.5 113.5 122 116.1 120 115.4 118.5 113.7 118 105.5 118.6 103ZM123.1 106.5 122.5 107.7 120.5 107.7 119.8 108.5 119.7 113 121 114.2 122.5 113.9 124 112.6 126 108.5 125.5 107 123.5 106.1ZM139.5 109.9 142.8 110 145 112.8 147.8 115 147.5 116.8 145.5 119.4 143.5 119.9 141 119.2 138 119.2 136.5 118.5 134.6 112.5 136 111 139.1 110ZM137 138.8 139 141.1 143 143 144 144.4 143.6 151 141.5 152.7 140 152.6 137.5 150.8 135.7 148 135.7 142.5 136.8 139Z"/>
<path fill="#cb4942" fill-rule="evenodd" d="M123.5 106.1 125.5 107 126 108.5 124 112.6 122.5 113.9 121 114.2 119.7 113 119.8 108.5 120.5 107.7 122.5 107.7 123.1 106.5Z"/>
<path d="M63.2 22.1 68.8 20.9 70.1 21.2 69.8 20.2 68.9 18.9 74.4 17.2 82.1 15.5 85.4 16.1 88 16.7 93.1 17.3 96.4 18.1 99.8 17.4 103.8 17 106.6 17.6 110.4 17.2 114.3 18.3 117.8 19.3 123 19.3 128.1 19.5 131.4 18.7 134.1 17 136.6 18.1 139.2 18.7 141.3 17.6 142.3 19.3 141.5 21 137.4 21.2 135 23.4 131.7 24.2 126.5 27 123.8 29.4 124.4 30.7 126.1 32.5 129.2 34.8 131.9 35.7 131.1 37.9 132.7 39.8 134.1 38.3 135.3 35.6 138.5 33.2 139.8 30.7 140.1 28.2 141.7 26 145.3 26 147.3 27.3 147.4 30 148.9 30.9 152.4 28.4 153 31.3 153.7 33.2 154.4 35.1 156.4 36.3 157.2 38.5 155.4 39.8 151.6 41.2 148 41.2 145 42.6 142 43.5 139.8 45.4 141.9 43.9 145.9 42.8 146.9 43.5 145.9 44.4 145.8 45.4 146.4 46.2 148.7 47.2 150.3 46 150.3 47 148.4 48.1 146.1 48.7 143.3 49.9 144 48.6 145.4 47.7 143.5 47.8 141.8 48.7 138.8 49.8 137.7 51.3 138 52.3 136.2 52.9 133.2 53.8 132.6 55.4 131.3 56.2 130.4 57.7 129.5 58.8 129.4 60.6 128.1 61.8 125.6 63.1 122.5 65.2 121.3 67.2 121.3 69.1 121.7 72.6 121 74.6 120.2 74.5 119.6 73.3 118.9 71.3 119.2 69.5 118.1 68 116.3 68.4 115.4 67.6 113.1 67.6 111.9 67.9 111.9 69.4 110.4 69.4 108.3 68.7 106.6 68.6 104.6 69.8 102.5 71.1 101.4 73.6 100.7 76.2 100.2 78.7 100.6 80.6 101.4 82.7 103.3 84.1 106.3 83.5 107.5 83.1 108.6 80.6 111.5 79.6 112.6 79.9 111.8 82.3 111 83.6 110.2 87 112.9 87.1 115.2 87.3 115.9 88.4 115.4 91.7 115 93.7 115.7 95.4 117.4 96.7 119.2 96 121 95.9 122.4 97.1 123.3 97 124.5 95.8 124.7 94.3 126.3 93.5 128.3 92.7 129.5 92 130 93.7 129.1 95.8 128.9 93.2 131 93.1 132.9 94.3 135.5 94.3 138.3 94.1 140 94.3 141.8 95.4 142.9 97.2 144.6 99.1 146.3 100.5 148.7 100.6 151.1 101.1 152.8 102.9 153.9 105.9 154.5 107.2 153.9 108.1 156.3 109.4 158.1 109.5 161.1 111.9 164.1 112.3 167 112.6 169.4 114.7 171.8 115.7 172.7 118.6 172.3 120.7 170.8 122.7 169.3 125.4 168 127.4 168.2 132.1 167.5 135.2 166.3 138.2 164.6 139.5 162.1 139.9 159.5 141.5 158 143.5 158.2 146.6 156.9 148.9 155.8 151.1 154.7 153 153.8 154.6 152.9 155.5 150.8 155.5 148.3 154.3 150 156.6 150.8 158.1 150.3 160 148.4 160.6 145.4 160.8 145.9 163 143.1 163.7 144.8 165 144.2 165.7 144.2 168.4 142.5 170.3 144.7 172.3 143.8 174.9 143 176.2 144.6 178.4 143.6 178.8 143.1 180.1 142.3 180.5 139.5 178.8 137.4 176.2 135 173 135 170.3 134.9 167 134.5 164.8 133 161.7 132.4 158.8 132.9 156.3 133.1 153 132.4 148.9 132.1 146.2 132.4 142.9 132.2 138.2 131.8 133.5 130.4 132.2 126.9 129.4 124.1 127.1 122.4 124 120.4 120 118.5 117.3 117.6 116 117.5 114.2 118.7 113 119.1 111.9 117.9 111 118.5 109.1 118.9 107.5 120.3 106.4 121.9 103.4 122.2 101.1 121.7 98.7 121 97.1 119.8 96.6 118.6 98.5 117.4 98.2 115.9 97.4 114.5 95.8 112.6 95.1 112.6 93.7 111.5 92 110.6 90.9 108.4 90.4 106.1 89.7 104.6 87.7 102.9 86.7 100.5 87.4 98.3 86.6 95.5 85.4 92.8 83.9 90.7 81.9 91.3 79.6 91 78 89.5 75.6 88.1 74.1 86.9 71.5 85.5 69.5 85.2 66.8 83.7 65.7 83.6 68.2 84.7 70.2 85.5 72.9 86 75.6 86.3 77.6 85.3 76.5 84.1 75.2 84.6 73.1 82.7 71.5 82.9 69.5 81.8 67.5 81.5 65.7 81.4 64.7 80.8 63.1 79.7 62.4 78.6 62 78.4 60.6 78.3 59.3 78.2 57.9 78.1 57 78.2 55 78 54.2 79.3 52.3 79.8 50.7 81.9 48.1 82.9 46.4 83.9 43.6 85 43.9 85.5 44.8 86.4 42.8 85.5 41.5 84.5 40.7 83.4 40.2 84.1 38.5 83.8 37 83.9 35.7 84 34.4 84.2 32.5 84.3 30.9 82.3 30.9 81.5 29.8 80.3 29.1 78.2 28.8 76.4 27.8 73.9 28.4 70.9 29.4 68.8 29.8 71.7 27.8 69.2 28.8 66.4 30 64.3 31.5 61 32.8 58 33.8 54.8 34.4 52.2 35.1 49.9 35.7 53.6 34.2 57 33.3 60.5 31.9 62.8 30.4 61 30.5 58.4 30.5 59.9 29.1 58.7 28.4 58.8 27.3 60.3 26 62.8 24.9 65.4 24.6 67.7 23.5 66 23.4 64.2 23.4 63.3 23 63.2 22.1M115.2 79.1 117.5 77.7 119.3 77.5 121 77.6 123.3 78.5 125.7 80.3 127.4 81.4 123.8 81.8 123.2 80.7 122 79.6 119.1 79.1 117.3 79.5 115.2 79.1M126.9 83.6 128.9 81.8 131.6 81.9 133.9 83.5 132 84.1 130.2 84.7 126.9 83.6M122.3 83.8 124.6 84.2 123.5 84.6 122.3 83.8M135.3 83.8 137.1 83.9 135.2 84.3 135.3 83.8M124.1 72.6 125.2 72.9 124.3 74.9 125.4 75.6 126 77.2 123.9 75.6 124.1 72.6M27.9 78.7 28.6 78.9 30.3 79.9 32.1 80.6 32.6 81.6 31.8 83 31.8 81.9 31 80.3 29.6 79.6 27.9 78.7M158.5 8.2 161.4 9.2 161.9 10.5 166.7 10.5 168 12.1 167.7 14.8 168.1 16.4 169 18.1 166.4 21 167 22.8 167.9 25.2 168.6 27 171.2 28.8 173.2 28.7 174.8 26.4 177.2 23.4 180.4 21.8 185.1 19.3 190.9 18.7 194.3 17 195.5 15.3 194.1 14.2 197.8 12.1 198.8 9.5 199.8 8.5 199.1 7 202.2 6.1 205.3 5.3 199.7 4.8 193 3.8 186 3.8 178.5 4.4 171.1 4.8 169.1 5.5 164.9 6.1 160.3 7 158.5 8.2M192.2 22.2 193.9 21.2 196.5 21.6 199.7 21 201 21.6 201.7 22.8 200.3 23.6 197.4 24.7 194.7 24.2 193.3 24 194.1 23.5 192.3 22.9 192.2 22.2M148.7 12.9 151.3 13.9 154 15.9 155.9 17 155.7 18.7 158.3 20.4 158.9 21.2 156.4 22.8 154.9 24.4 153.5 25.8 150.7 25.3 149 24.3 147.7 23.4 145.3 23.6 143.1 23.4 146.4 21 150 19.5 149.9 18.3 146.9 17.6 144.8 17 141.2 17.2 138.8 15.9 141.8 13.4 145.3 13.1 148.7 12.9M114.7 15.5 118.9 13.7 122 13.5 127 13.5 126.3 15.3 128.2 16.4 126.3 17.6 122.3 18.1 115.7 18.7 113.4 17.6 114.7 15.5M109.6 14.9 112.6 13.1 117.2 12.1 119.1 13.1 116 14.8 113.1 15.5 109.6 14.9M152.2 10 156.7 8.5 159.9 7.5 165.5 6.3 169.7 4.8 164.6 4.2 157.8 4 149.5 5 145.3 6.6 140.7 8.5 143.7 9.9 148 10.2 152.2 10M149.6 12 143 12.1 140.3 11.5 141.6 10 147.2 9.5 150.6 10 149.6 12M130.6 11 125.9 11.5 121 11 124 10 129.9 9.7 130.6 11M132.2 15.3 130.3 14.2 130.6 13.1 133.6 12.6 135 13.7 132.2 15.3M138.9 14.8 135.8 13.7 138.5 12.6 140.7 12.8 138.9 14.8M136.3 11.5 133.7 11 136.4 9.5 138.9 10 136.3 11.5M146.8 8.5 142 8 143.6 6.1 147.9 5.7 146.8 8.5M140.1 24.6 134.6 24 137.1 21.6 139.4 22.2 140.1 24.6M151.8 44.6 156 42 157.4 39.4 158.5 42.6 158.7 44.8 157.5 46 155.5 45.4 151.8 44.6M82.2 40.5 84.5 41.5 85.3 43.6 84 42.9 82.2 40.5M250.7 66.6 252.8 66.4 253.4 64.8 253.9 62.8 254.1 61.2 254 59.3 252.3 59 250.7 59.8 249 59.2 246.8 59.6 245.1 59 244.1 57.7 243.1 55.8 242.6 54.3 243.4 53.9 244.5 53.4 245.5 53.3M242.4 53.7 240.1 53.8 238.9 54.1 238.8 56.1 239.4 57.4 238.4 59.4 237.8 58.3 237.2 56.7 236.1 55.3 235.1 53.4 234.8 51.8 233.4 50.7 231.1 50.1 230 48.7 228.9 48.1 228.4 47 227 47.5 227.3 49.4 229.1 51.4 230.8 52.3 231.9 53.1 234.2 54.6 232.6 55.5 232.2 56.7 231.3 57.4 231.5 55.4 230.4 54.5 229.2 53.4 227 52.2 225.3 50.7 224.1 49 222.5 49.4 221 50.6 219.3 50.3 217.7 50.3 217.4 52.1 216.1 53.1 214.7 53.9 213.7 55.4 213.9 56.5 213.1 57.9 211.5 59.2 208.9 59.3 207.7 60.1 206.7 59 205.6 58.5 204.1 58.8 204.2 57 203.5 56.3 204.2 54.5 204.4 52.7 204 50.7 205.4 49.8 208.6 50.1 212 50.2 212.7 48.3 212.7 46.8 211.6 45.3 209.2 44.4 209.1 43.5 210.8 43.1 212.4 43.2 212 41.9 212.7 42.3 214.2 42.2 215.5 41.2 215.8 40.2 217.5 39.7 218.2 38.9 218.7 37.8 219.5 37.2 221 37 222.5 36.9 222.8 36 222.4 34.7 221.9 33.2 222.3 32.4 224.2 31.7 224 33 224.6 33.6 223.7 34.7 224.2 35.8 225.4 36.2 226.9 35.8 228.5 36.5 230.4 35.7 232.3 35.3 233.7 35.8 234.8 34.8 234.5 33.2 234.9 32 235.8 31.7 237 32.5 237.6 32 236.6 30.7 236.4 29.8 238.7 29.4 240.7 29.4 242.4 28.8 240.9 28.2 239 28.3 236.3 28.9 234.8 28.4 234 27 233.8 25.4 235 24.2 236.8 22.8 236.6 22.1 235.4 21.8 233.7 22.1 233.1 23 231.4 24.4 230.4 25.8 230.1 27.2 230.3 28.1 231.8 28.8 231.5 29.7 230.1 30.7 230 32.2 229.5 33.7 228.2 33.7 226.8 34.6 226.3 33.4 225.4 31.8 224.7 30.3 223.9 29.2 223.1 30 221.7 31.2 220.2 31.2 219.2 30.3 218.9 28.8 218.7 27.6 218.9 26.1 220 25.6 221.3 24.9 223.1 24 224.3 22.9 225.1 21.6 225.9 20.2 227 19 227.8 18.3 229.4 17.4 231 17 232.7 16.5 234.2 15.9 235.9 16 237.6 15.8 239 16.4 240.4 16.8 242.3 17.7 245 18 249 19.5 250.3 20.6 249.2 21.3 245.8 20.6 244.2 21.1 245.7 23.4 247.8 24.2 248.4 23.4 246.9 22.8 250.3 23.4 252.3 21.3 253.2 21 252.1 19 254.2 19.3 256.1 19.7 260.1 18.9 261.8 18.8 265.2 18.7 266.4 17.6 269 17.7 270.9 18 272.6 18.7 273.6 18.9 271.3 17.6 270.6 16.1 271.2 15 271 13.8 272.4 13.7 274.1 14.4 274.7 15.9 276 16.8 276.7 18.2 277.9 18.7 278.5 20.2 278.3 21.2 280 20.4 278.9 18.3 277.6 17.9 276.8 16.2 275.1 15.2 276.3 14.6 277.2 15.4 278.4 15.7 280.6 15.9 279.1 14.4 280.4 14 280 13.1 283.4 13.1 284.4 12.6 283.5 11.4 285.4 11 287.9 10.4 290.3 10.4 291.5 9.5 294.1 8.8 295.8 9.2 295.6 9.6 298.3 9.9 300.5 9.8 303.3 10.4 304.8 11.5 304 12.6 302.8 12.6 305.2 12.9 307 13 309.6 13.1 312.7 13.7 314.6 12.9 317.3 13.1 319.7 13.7 321.5 14.8 323 15.7 325.1 16 325.6 15.4 327.9 15.2 330.5 15.3 329.9 14.3 331.2 14 335.2 14.4 339.6 15.2 342.4 16 345.4 15.8 348.5 16.1 350.6 17 353 17.4 357.4 17.6 359 16.9 361.9 17.1 364.6 17.2 369.5 18.1M58.4 18.1 59.4 19.7 61 20.4 62 20.6 62.5 21.5 60.4 22.2 59 22.2 56.9 23.4 55.1 23.4 54.1 22.2 51.8 22.5M376.1 22.5 375.6 23.1 374.1 23 378.9 25.2 378.9 25.8 376.9 26.4 376.3 27 375.8 28.8 371.5 28.8 370.2 28.9 370.4 30 370.6 31.3 372.5 31.9 373.4 33.6 374.2 35.1 374.7 37 374.1 37.9 374.4 40.2 372.3 38.3 368.7 35.1 365.9 32.5 366 31.5 367.2 31.3 366.5 28.6 364.4 27.6 362.9 26.7 360.7 26.8 361.4 29.1 359.5 29.9 356.3 29.7 353.5 29.7 351 29.8 349.7 30.7 349.2 33.2 350 35.7 353.3 36.1 356 37.6 358.6 40.2 360.4 43.5 359.7 45.4 359.4 47.4 359 50.1 357.5 51 355.8 51 355.4 51.7 355.4 53.4 356 54.7 354.9 56.1 357.5 58.2 358.6 60.8 358 61.6 356 62.2 355.2 60.8 354.8 58.8 353.7 57.8 352.3 57.7 351.2 55.4 350.2 54.9 348.3 56.1 347 55.4 347.5 54.1 345.9 53.7 344.9 54.7 343.7 55.8 343.9 56.9 345.8 58.3 347.5 58.1 349.9 58.5 348.8 59.7 347.7 61.2 349.3 62.8 350.8 64.8 352.6 66.8 352.3 67.9 353.4 68.8 353.3 70.5 352.6 71.9 352.1 73.6 351.4 75.2 349.7 76.9 347.6 78 346.1 78.7 344.1 79.5 342.7 80 342.2 81.1 341.5 79.6 339.7 79.5 338.4 80.8 337.7 83 338.9 85 341.2 87.3 342.7 90.4 343 92.9 341.7 94.1 340 95.6 338.3 97 337.9 95.1 336.3 94.3 335 92.1 333.7 91.5 332.9 90.5 331.9 90.8 331.3 93.7 331.4 95.8 332.8 97.4 333.1 99.1 334.3 99.4 335.6 100.5 336.7 102.4 336.8 104.5 337.8 106.7 336.9 106.8 335.1 105.2 334 104.6 333.3 102.5 332.8 100.5 332.2 99.8 330.7 97.9 330.3 96.2 330.7 94.4 330.2 91.7 329.1 89 328.5 86.3 327.2 86.1 326 87.3 324.8 87 324.7 85 323.8 82.3 322.5 81.6 321.5 80.3 320.7 78.5 319.3 78.3 317.5 79.2 316.4 79.2 315.2 80.3 314.9 81.6 313.3 82.6 312.3 83.9 310.6 86.2 309.4 87.3 308.3 88 308.5 90.6 308.4 93.1 308.3 94.7 307.5 96 306.6 96.6 305.8 97.6 304.7 96.6 304.1 94.8 303 92.7 302.2 91.1 301.2 88.6 300.1 86.3 299.3 83.2 298.9 81 298.5 79.6 298.3 78.5 296.1 80.6 294.4 78.5 295.5 78 293.9 76.9 293 76.6 292.1 76.2 291.5 75 290.7 74.4 288.5 74.6 285.6 74.6 285.1 74.8 282.7 74.4 280.3 74 279.6 72.6 278.7 72.1 277.9 72.5 276.2 72.9 274.3 71.5 273.1 71 272 69.5 271 68 269.6 68 268.8 68.4 269.4 70.2 270.6 71.8 271.8 72.9 272.3 74.4 272.7 75.2 273 73.4 273.6 74.6 273.6 75.8 275.4 76 277.1 76 278.2 74.6 278.8 73.3 279.2 75 280.5 76.5 282 76.8 283.5 78.3 283 79.7 282.2 81 281.5 82.3 281.4 83.1 280.2 83.8 278.8 84.9 278.5 85.7 276.3 86.2 275.1 87 272.3 88.8 271.1 89.7 269.4 90.2 267.7 90.6 266.5 91.5 265.3 91.6 264.9 90.6 264.3 88.6 264 86.6 262.9 84.9 261.6 82.7 260.1 81 259.5 79.3 258.6 76.9 257.3 75.3 256.2 73.6 254.9 71.5 254.1 70.7 253.6 69.5M253.8 68.8 253.3 70.9 252.4 70.3 251.2 68.3 250.7 66.6M245.6 53.1 244.7 52.7 244.2 51.4 243.9 49.9 244.6 49 245.5 47.8 246.4 46.1 247.5 46 248.4 46.8 249.5 47.3 248.6 47.7 249.8 48.7 251.8 48.1 252.8 47.7 251.7 47.4 250.9 46.4 254.2 45.2 254.1 46.1 253.7 46.8 254.3 47.4 255.1 48.7 256.3 49.7 257.6 50.7 259 52.1 259.1 52.7 257.5 53.4 255.4 53.4 253.7 53 252.1 52.1 250.3 52.1 247.9 53.3 245.6 53.1M264.3 49.5 264.4 47.3 265.3 46.9 266.3 46.4 267.8 45.4 269.8 45.8 270.3 47.7 268.8 48.7 268.5 49.4 269.5 50.7 270.8 51.4 271.3 53 272.8 53.9 272.1 55 273.3 56.7 273.8 58.3 271.3 59 269.4 58.2 268.1 57.4 267.8 56.3 268.1 55 268.1 54.1 266.7 52.3 265.1 50.7 264.3 49.5M250.7 66.6 251 68.3 251.8 70.2 252.8 71.8 253.8 73.6 255.1 76 255.5 77.9 256.9 79.1 257.4 82.3 258 83.9 259.2 84.6 260 87 261 88.1 262.9 90 264.1 91.2 265.1 92.5 264.8 93.7 266.6 94.6 268.3 94.1 271.3 93.5 273.3 92.8 274.4 92.7 274.3 94.6 274 96.2 272.8 99.1 271.5 101.6 270 103.7 268 105.9 265.6 107.5 263.9 109.5 262.2 111.9 261.2 113.8 260.5 115.5 260 117.3 260.6 118.9 260.7 121.3 261.7 123 261.9 125.5 261.8 128.1 261.3 130.1 259.1 131.8 257.3 132.6 255.8 134.9 254.6 135.5 255.1 138.2 255.1 140.6 253.9 141.9 251.8 143 251.7 144.9 251.2 146.9 249.7 148.3 248 150.8 246.2 152.4 244.4 153.8 242.7 154.3 240.4 154.2 239.3 154.3 237.5 154.9 236.4 155.4 235.1 154.9 234.6 154 234.6 152 233.9 149.9 232.9 147 231.6 144.9 231.2 142.9 230.7 139.1 229.5 136.5 228 133.5 227.7 130.8 228.3 128.1 229.9 125.2 230.1 123.1 229.3 120.7 228.5 118 228.4 116.6 228.2 115.1 227 113.7 225.5 111.8 224.6 109.9 225.4 107.9 225.2 105.9 225.6 104.2 225 103.3 224 102.5 222.6 102.6 221.1 102.8 219.9 101 218.7 99.9 216.9 100.1 215.3 100.5 213.4 101.3 211.6 102.1 209.8 101.7 208.3 101.6 205 102.6 203.3 102.1 200.9 100.2 199.1 98.6 198.3 96.8 196.8 94.8 195.6 93.1 194.2 91.9 194.1 90.4 193.3 88.8 194.6 87 195 85 195 82.3 194.4 80.8 194.2 79.7 195 77.2 196 75.6 197.2 73.3 198.8 71.4 200.8 70.5 202.5 69.1 202.9 67.5 203.2 64.8 204.6 63.6 206.3 62.8 207.2 60.6 208 60.2 208.9 61.2 211.1 61.3 212.8 60.5 214.5 59.8 216.2 59.3 217.8 59 219.5 59 221.2 58.6 222.8 58.9 224.5 58.3 225.4 58.8 226.2 59 225.8 60.4 226.3 61 225.7 62.1 225.4 63.1 226.6 63.9 228.1 64.4 229.2 64.4 231.2 65.1 231.8 66.1 233.3 66.8 235 67.5 236.3 67.5 236.7 66.6 236.6 65.3 237.7 64.4 239.4 64.4 240.6 65.2 242.3 66 244.6 66.3 246.9 67 248.6 66.1 250.7 66.6M272.2 124.7 273.1 128.1 273.2 129.8 272.4 131.4 271.7 133.5 270.6 136.1 269.5 139.5 268.4 142.1 266.3 142.9 265.1 142.2 264.5 140.2 264.3 138.2 265 136.8 265.8 134.8 265.5 132.5 266.1 130.4 268.3 129.5 269.5 128.1 270.4 126.9 271.5 125.4 272.2 124.7M208.1 41.4 209.8 41.1 211.9 40.6 213.9 40.5 215.4 40 214.9 39.2 215.7 38.1 215.2 37.8 214.3 37.9 214.2 37 213.5 35.7 212.5 34.9 212 33.9 211 33.8 211.8 33.2 212.2 31.9 210.6 31.7 211.1 30.5 209.1 30.5 208.5 31.5 208.5 33 207.9 33.4 208.5 34.7 209.3 34.6 209 35.3 210.5 35.2 210.8 36.2 210.9 37.1 209.4 37.2 209.7 38.4 208.7 39.2 209.9 39.4 210.9 39.7 209.7 40 208.1 41.4M207.9 38.7 207.9 37.2 207.7 36.3 208.5 35.7 207.8 34.8 206.5 34.7 205.5 35.5 205.5 36.1 204 36.1 204.1 37.2 204.3 38.3 203.5 39.2 204.3 39.6 205.8 39.3 207.3 38.8 207.9 38.7M222.3 8 224.6 8.5 226.9 10 228.6 9 229.9 8 234.2 7.5 232.3 6.3 227.1 6.1 222.1 6.9 222.3 8M258 15.4 259.9 14.2 259.9 12.1 262.1 10.6 265.4 9.8 267.5 9.5 264.8 11 261.8 12.6 260.6 14 262.5 15.9 258 15.4M285.3 7.5 289.4 7.8 291.4 7 286.6 5.7 283.5 6.1 285.3 7.5M250.9 6.6 256.4 6.1 259 5.7 253.6 5.3 248.9 5.9 250.9 6.6M322.8 11.5 328.4 12.6 331.6 11.5 325.9 10.5 322.8 11.5M63 15.3 64.1 15.7 65.7 15.2 64.2 14.9 63 15.3M364.1 15.3 364.9 15.3M308.6 95.4 310.1 97.1 310.9 98.7 310.4 100.2 309.1 100.5 308.5 98.5 308.6 96.4 308.6 95.4M367.8 52.9 369.8 55.3 369.7 57 370.5 58.8 371.3 60.5 370.5 61.2 369.9 61.8 367.9 62 367.7 62.4 366.9 63.5 365.5 62.1 364 62.4 362.5 62.9 361.1 62.4 362.1 60.8 364.3 60.6 365.8 60.4 365.7 58.3 367.5 58.1 368.3 56.5 366.8 53.8 366.8 53.1 367.8 52.9M366.1 52.7 365 50.5 364.3 47.5 366.2 48.5 368.9 49.5 370.7 50.3 369.5 52.1 366.9 51.4 366.8 52.5 366.1 52.7M360.3 63.1 361.6 62.9 363 64.1 363.1 66.4 362 66.6 360.6 64.5 360.3 63.1M363.5 63.9 365.1 62.5 365.9 63.7 364.3 64.5 363.5 63.9M364.3 46.8 363.5 44.8 361.6 42.8 359.6 40.2 356.5 36 359.1 38.3 361.2 40.9 363.7 42.8 364.7 45.4 364.3 46.8M353.8 74.6 355 74.9 354.8 78.3 354.5 79.1 353.4 77.6 353.8 74.6M340.9 82.7 342.7 81.5 343.6 82.2 342.9 83.6 341.9 84.1 340.9 82.7M355.1 83.6 357.1 83.6 357.4 85.9 356.9 87.7 358.3 89.4 360.2 91.1 359.3 90.1 357.1 90 356 89 354.9 87.7 355.2 86.3 355.1 83.6M358.6 99.1 360.3 98.1 360.6 97 362.3 95.4 363.6 97.1 363.9 99.1 362.9 100.7 361.3 99.9 358.6 99.1M358.1 92.7 359.4 94.4 360.6 94.8 361.9 93.5 360.7 91.7 358.1 92.7M352.8 97.2 355.4 94.4 355.1 93.7 352.8 97.2M343.5 106.5 344.3 105.9 345.8 106 348.2 104.2 349.5 102.4 351 101.4 352.1 99.8 352.9 99.1 353.9 100.5 355.4 101.6 354.3 102.5 353.9 104.2 354.2 107.2 353.6 109.2 352.4 111 352.3 113.3 350.1 113.9 348.2 112.6 346.4 113 345 112.3 344.7 110.2 343.7 108.5 343.5 106.5M327 101 329.7 101.6 331.2 103.4 333.2 105.6 334.6 106.3 336.4 108.3 337.5 109.9 338.5 111.5 339.9 112.7 339.6 116.4 338.1 116.5 336.2 114.9 334.5 112.6 333.3 109.9 331.9 107.9 331 106.3 329.4 104.1 327.9 102.5 327 101M338.7 117.7 339.7 116.5 341.5 116.6 342.6 117.3 345 117.8 347.3 117.8 349.7 118.9 349.4 120.3 346.6 119.7 344.3 119.5 341.9 119 340.2 118.5 338.7 117.7M350.2 120 351.4 119.7 352.5 120 354.9 120 356.7 120 359.4 119.6 361.4 119.9 364.4 119.7 361.9 120.9 360 122.4 358.4 121.3 354.9 120.7 351.3 120.7 350.2 120M355.6 116 355.9 113.3 355.1 112 356.3 109.2 356.6 107.7 357.6 106.8 359.5 107.2 361.9 106.7 362.7 106.4 360.1 108 357.2 107.9 358.3 109.8 360.5 109.8 358.4 111.1 359.5 114.6 358.7 115.7 357.5 112.3 356.8 116 355.6 116M365.4 105.6 366.7 107.2 366.1 109.6 365.5 107.9 365.4 105.6M366 112.7 369.3 112.6 368.9 113.7 366 113.4 366 112.7M369.6 110.3 371.4 109.1 373.6 109.8 374.3 113 377.3 110.6 379.1 111.5 381.5 112 383.8 113.1 385.5 113.7 387 115.3 389.2 116.6 388.8 118.6 389.6 120 390.9 121.7 392.3 122.5 390.8 122.7 388.5 122 386.9 120 385.2 118.8 383.9 119.9 383.6 120.9 382.1 120.9 380.9 120.8 379.2 119.6 377.4 119.9 378.2 118 377.5 115.5 374.8 114.5 372.5 113.8 371.7 113 370.8 112.3 371.4 111.2 369.6 110.3M390.2 116 392.5 116 394.4 114.3 393.7 116 391.9 117 390.2 116M397.8 117.3 400 119 403.4 120.7 404.9 122.7 402.1 121.3 397.8 117.3M346 138.2 345.6 140.9 345.5 143.5 345.5 146.2 345.4 148.3 344.5 151 344.3 153.5 343.2 154.6 344.5 155.7 346.2 155.7 348.9 154.3 351.4 154.3 354 153 355.9 152.3 357.7 152 360.3 151.2 362.7 151 364.1 151.6 365.4 152.7 365.9 155.1 367.2 154.3 369.2 153.1 368.2 155.9 366.8 156.6 368.8 156.5 369.3 157.7 369 159.7 370.2 160.1 372.1 160.8 374.4 159.4 375 161 377.5 159.6 380.1 159 381.4 157 383.3 155 384.5 153.6 386.6 152 388.4 149.6 389.9 147.3 390.3 144.9 390.8 142.6 389.8 141.1 389.2 139 387.8 138.6 387.8 136.8 387.3 135.7 385.4 134.4 385.1 132.8 384.8 130.4 385 128.5 383.4 127.4 383.3 125.4 382.4 123 381.3 125.4 380.7 128.1 380 130.8 379 132 377.5 132.1 375.8 130.5 374.5 129.4 373.4 128.5 374.3 126.7 375.4 125 374.2 125 372.2 124.4 370.6 124 369.2 125 367.4 125.9 366.8 128.1 364.8 128.7 363.9 127.4 362.6 127.7 361.2 129.1 360 130.6 358.9 131.7 357.3 132.5 356.4 133.9 354.8 135.1 352.9 135.5 351 136.4 349.1 136.8 347.3 137.9 346 138.2M371.8 163.3 373.5 163.8 375.6 163.6 374.4 165.3 372.7 166.6 370.8 167.2 371.2 165.3 371.8 163.3M407.9 154.9 408.9 156.3 408.9 158.3 409.4 159.3 411.7 159.3 409.9 161 408.5 161.4 407.6 162.4 404.3 164.5 404.1 164 405.6 162.4 405.1 161.3 406.5 160.5 407.9 158.3 407.7 157.3 407.9 154.9M402.5 163 403.4 164.4 401.7 165.7 399.5 167.2 397 168.4 394.9 170.1 392.8 171.1 391.2 171.1 390.2 170.3 391.4 169.3 394.3 167.7 397.7 166.4 400 164.8 401.6 163.4 402.5 163M405.3 135.7 408.2 138.4 407.6 138.6 405.3 135.7M421.8 132.1 423.2 132.1 422.7 133 421.6 132.8 421.8 132.1M75.4 208.1 84.2 208.6 92.8 209.1 96.2 208.9 97.6 207.6 98.8 206.1 101.9 205.6 108.9 204.8 116.3 204.3 124.9 204.7 132.2 204 135.3 202.9 144.3 203.7 149.8 203.4 153.7 203.2 155.6 202.3 156.2 200.7 157.1 197.8 156.9 194.9 159.2 193.1 161.6 192.3 161 194.9 159.3 196.1 161.2 199 163.4 202.9 164.8 205 162.7 206.6 159.6 207.6 156.7 208.6 161.8 210.1 170 211 177 210.5 179.9 209.1 187.2 208.6 192.1 207.1 197.7 204.5 201.5 202.9 205.6 201.8 213.9 200.7 222.5 200.1 231 200.1 239.7 199.5 244.2 199 248.6 198.6 253.4 197.5 258.2 196.5 262.9 196 266.9 196.9 271 197.5 274.8 198.4 275.4 200.1 277.5 199.5 280.7 198.6 286.2 197 292 196.3 298.6 195.8 303.7 195 307.7 195.6 312.1 195.6 315.9 196.3 320.1 196.6 324.7 196.5 329.8 195.8 334.3 195.8 338.1 196.3 341.4 197.3 344.3 198.4 347.9 199 351.3 199.7 352.3 200.7 354 201.8 354.7 202.9 347.7 205 343.2 206.6 341.7 208.1 343.7 208.6 352.5 208.1M175.8 208.6 180.3 209.8 182.4 210.8 178.8 211 175.8 208.6M151.7 199 155.4 200.7 155.2 202.9 150.6 202.3 151.7 199M151.3 177.1 154.7 177.3 154.6 178.4 151.9 178.2 151.3 177.1M175.9 180.8 178 181.1 176.2 181.8 175.9 180.8M285.2 174 287.2 174.3 285.8 175.2 285.2 174M216.6 55.3 217.7 55 217.5 55.7 216.6 55.3M223.2 50.9 224.2 50.9 224.1 52.7 223.4 52.5 223.2 50.9M223 53.4 224.5 53.4 224.5 55.8 223.3 56.1 223 53.4M227.7 57.4 231.2 57 230.7 59.2 227.7 57.4M240.2 60.8 243.4 61 241.4 61.6 240.2 60.8M250.1 61.4 252.5 60.6 251.5 62 250.1 61.4M276.9 91.6 278.3 91.6 277.3 92 276.9 91.6M323.2 90.4 323.7 92.4 323.4 93.7 323.2 90.4M360.7 121.1 364.6 119.9 361.9 121.9 360.7 121.1M128.8 18.7 131.4 18.1 131.8 17.2 128.8 17.7 128.8 18.7M119.4 10.5 123.5 9.3 125.7 9.9 121.3 10.8 119.4 10.5M136.9 11.8 139.8 11.3 139 10.6 136.9 11.8M148.1 13.7 151.7 13.4 150.1 12.8 148.1 13.7M137.1 25.8 139.7 26 138.4 25.2 137.1 25.8M139.9 8.5 143.4 8.1 142.8 7.3 139.9 8.5M135.1 8.7 138.9 8.1 138.1 7.5 135.1 8.7M127.6 9.1 131.2 8.7 130.4 8.2 127.6 9.1M135.6 14.8 136.3 15.9 132.8 17 133.1 18.1M143.1 23.4 149.8 19.8" fill="none" stroke="#000" stroke-width="1.9" stroke-linejoin="round"/>
</g>
<path d="M100.1 217.1 L97 216.3 L93.4 215.1 L89.6 213.8 L85.4 212.3 L81 210.5 L76.5 208.6 L72.1 206.6 L67.8 204.5 L63.9 202.3 L60.2 200.1 L56.6 197.8 L53.1 195.5 L49.7 193.1 L46.4 190.7 L43.1 188.3 L39.9 185.8 L36.8 183.3 L33.8 180.8 L31 178.2 L28.3 175.6 L25.7 173 L23.4 170.3 L21.1 167.7 L18.9 165 L16.8 162.4 L14.9 159.7 L13.1 157 L11.5 154.3 L9.9 151.6 L8.6 148.9 L7.3 146.2 L6.3 143.5 L5.3 140.9 L4.5 138.2 L3.8 135.5 L3.1 132.8 L2.4 130.1 L1.9 127.4 L1.4 124.7 L1 122 L0.7 119.3 L0.4 116.6 L0.2 113.9 L0.1 111.2 L0 108.5 L0.1 105.9 L0.2 103.2 L0.4 100.5 L0.7 97.8 L1 95.1 L1.4 92.4 L1.9 89.7 L2.4 87 L3.1 84.3 L3.8 81.6 L4.5 78.9 L5.3 76.2 L6.3 73.6 L7.3 70.9 L8.6 68.2 L9.9 65.5 L11.5 62.8 L13.1 60.1 L14.9 57.4 L16.8 54.7 L18.9 52.1 L21.1 49.4 L23.4 46.8 L25.7 44.1 L28.3 41.5 L31 38.9 L33.8 36.3 L36.8 33.8 L39.9 31.3 L43.1 28.8 L46.4 26.4 L49.7 24 L53.1 21.6 L56.6 19.3 L60.2 17 L63.9 14.8 L67.8 12.6 L72.1 10.5 L76.5 8.5 L81 6.6 L85.4 4.8 L89.6 3.3 L93.4 2 L97 0.8 L100.1 0 L327.8 0 L330.9 0.8 L334.5 2 L338.3 3.3 L342.5 4.8 L346.9 6.6 L351.4 8.5 L355.8 10.5 L360.1 12.6 L364 14.8 L367.7 17 L371.3 19.3 L374.8 21.6 L378.2 24 L381.5 26.4 L384.8 28.8 L388 31.3 L391.1 33.8 L394.1 36.3 L396.9 38.9 L399.6 41.5 L402.2 44.1 L404.5 46.8 L406.8 49.4 L409 52.1 L411.1 54.7 L413 57.4 L414.8 60.1 L416.4 62.8 L418 65.5 L419.3 68.2 L420.6 70.9 L421.6 73.6 L422.6 76.2 L423.4 78.9 L424.1 81.6 L424.8 84.3 L425.5 87 L426 89.7 L426.5 92.4 L426.9 95.1 L427.2 97.8 L427.5 100.5 L427.7 103.2 L427.8 105.9 L427.9 108.5 L427.8 111.2 L427.7 113.9 L427.5 116.6 L427.2 119.3 L426.9 122 L426.5 124.7 L426 127.4 L425.5 130.1 L424.8 132.8 L424.1 135.5 L423.4 138.2 L422.6 140.9 L421.6 143.5 L420.6 146.2 L419.3 148.9 L418 151.6 L416.4 154.3 L414.8 157 L413 159.7 L411.1 162.4 L409 165 L406.8 167.7 L404.5 170.3 L402.2 173 L399.6 175.6 L396.9 178.2 L394.1 180.8 L391.1 183.3 L388 185.8 L384.8 188.3 L381.5 190.7 L378.2 193.1 L374.8 195.5 L371.3 197.8 L367.7 200.1 L364 202.3 L360.1 204.5 L355.8 206.6 L351.4 208.6 L346.9 210.5 L342.5 212.3 L338.3 213.8 L334.5 215.1 L330.9 216.3 L327.8 217.1Z" fill="none" stroke="#b3b3b3" stroke-width="1.2"/>
</g>
<g>
<polygon points="178.3,641.2 150.5,652.7 178.3,664.2" fill="#053061"/>
<polygon points="723.5,641.2 750,652.7 723.5,664.2" fill="#67001f"/>
<rect x="178.30" y="641.2" width="49.86" height="23" fill="#1c5c9f"/>
<rect x="227.86" y="641.2" width="49.86" height="23" fill="#3783bb"/>
<rect x="277.43" y="641.2" width="49.86" height="23" fill="#68abd0"/>
<rect x="326.99" y="641.2" width="49.86" height="23" fill="#a7d0e4"/>
<rect x="376.55" y="641.2" width="49.86" height="23" fill="#d7e8f1"/>
<rect x="426.12" y="641.2" width="49.86" height="23" fill="#f6f7f7"/>
<rect x="475.68" y="641.2" width="49.86" height="23" fill="#fce0d0"/>
<rect x="525.25" y="641.2" width="49.86" height="23" fill="#f7b799"/>
<rect x="574.81" y="641.2" width="49.86" height="23" fill="#e58368"/>
<rect x="624.37" y="641.2" width="49.86" height="23" fill="#cb4942"/>
<rect x="673.94" y="641.2" width="49.86" height="23" fill="#a81529"/>
<path d="M150.5 652.7 L178.3 641.2 L723.5 641.2 L750 652.7 L723.5 664.2 L178.3 664.2Z" fill="none" stroke="#c8c8c8" stroke-width="0.8"/>
<line x1="178.30" y1="664.2" x2="178.30" y2="669.2" stroke="#000" stroke-width="0.9"/>
<text x="178.30" y="685" text-anchor="middle" font-size="13.5" fill="#262626">−30.00</text>
<line x1="227.86" y1="664.2" x2="227.86" y2="669.2" stroke="#000" stroke-width="0.9"/>
<text x="227.86" y="685" text-anchor="middle" font-size="13.5" fill="#262626">−24.55</text>
<line x1="277.43" y1="664.2" x2="277.43" y2="669.2" stroke="#000" stroke-width="0.9"/>
<text x="277.43" y="685" text-anchor="middle" font-size="13.5" fill="#262626">−19.09</text>
<line x1="326.99" y1="664.2" x2="326.99" y2="669.2" stroke="#000" stroke-width="0.9"/>
<text x="326.99" y="685" text-anchor="middle" font-size="13.5" fill="#262626">−13.64</text>
<line x1="376.55" y1="664.2" x2="376.55" y2="669.2" stroke="#000" stroke-width="0.9"/>
<text x="376.55" y="685" text-anchor="middle" font-size="13.5" fill="#262626">−8.18</text>
<line x1="426.12" y1="664.2" x2="426.12" y2="669.2" stroke="#000" stroke-width="0.9"/>
<text x="426.12" y="685" text-anchor="middle" font-size="13.5" fill="#262626">−2.73</text>
<line x1="475.68" y1="664.2" x2="475.68" y2="669.2" stroke="#000" stroke-width="0.9"/>
<text x="475.68" y="685" text-anchor="middle" font-size="13.5" fill="#262626">2.73</text>
<line x1="525.25" y1="664.2" x2="525.25" y2="669.2" stroke="#000" stroke-width="0.9"/>
<text x="525.25" y="685" text-anchor="middle" font-size="13.5" fill="#262626">8.18</text>
<line x1="574.81" y1="664.2" x2="574.81" y2="669.2" stroke="#000" stroke-width="0.9"/>
<text x="574.81" y="685" text-anchor="middle" font-size="13.5" fill="#262626">13.64</text>
<line x1="624.37" y1="664.2" x2="624.37" y2="669.2" stroke="#000" stroke-width="0.9"/>
<text x="624.37" y="685" text-anchor="middle" font-size="13.5" fill="#262626">19.09</text>
<line x1="673.94" y1="664.2" x2="673.94" y2="669.2" stroke="#000" stroke-width="0.9"/>
<text x="673.94" y="685" text-anchor="middle" font-size="13.5" fill="#262626">24.55</text>
<line x1="723.50" y1="664.2" x2="723.50" y2="669.2" stroke="#000" stroke-width="0.9"/>
<text x="723.50" y="685" text-anchor="middle" font-size="13.5" fill="#262626">30.00</text>
<text x="450.7" y="703.6" text-anchor="middle" font-size="14" fill="#262626" textLength="266.5" lengthAdjust="spacingAndGlyphs">Top net long-wave radiation flux [W m**-2]</text>
</g>
</svg></body></html>
